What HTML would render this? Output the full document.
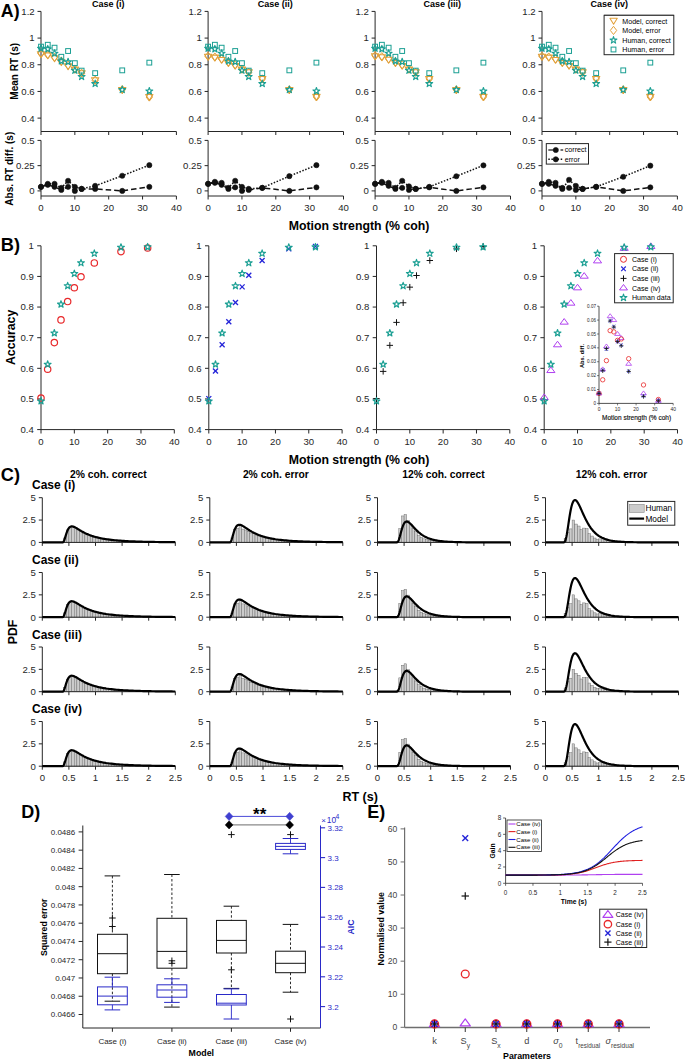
<!DOCTYPE html>
<html><head><meta charset="utf-8"><style>html,body{margin:0;padding:0;background:#fff;overflow:hidden;}svg{display:block;}</style></head><body>
<svg width="685" height="1060" viewBox="0 0 685 1060" font-family='"Liberation Sans", sans-serif'>
<rect width="685" height="1060" fill="#ffffff"/>
<line x1="41" y1="11.4" x2="41" y2="131.5" stroke="#262626" stroke-width="1" />
<line x1="41" y1="131.5" x2="176.4" y2="131.5" stroke="#262626" stroke-width="1" />
<line x1="37.5" y1="118.12" x2="41" y2="118.12" stroke="#262626" stroke-width="1" />
<text x="34.7" y="121.52" font-size="9.6" text-anchor="end" fill="#262626" >0.4</text>
<line x1="37.5" y1="91.44" x2="41" y2="91.44" stroke="#262626" stroke-width="1" />
<text x="34.7" y="94.84" font-size="9.6" text-anchor="end" fill="#262626" >0.6</text>
<line x1="37.5" y1="64.76" x2="41" y2="64.76" stroke="#262626" stroke-width="1" />
<text x="34.7" y="68.16" font-size="9.6" text-anchor="end" fill="#262626" >0.8</text>
<line x1="37.5" y1="38.08" x2="41" y2="38.08" stroke="#262626" stroke-width="1" />
<text x="34.7" y="41.48" font-size="9.6" text-anchor="end" fill="#262626" >1</text>
<line x1="37.5" y1="11.4" x2="41" y2="11.4" stroke="#262626" stroke-width="1" />
<text x="34.7" y="14.8" font-size="9.6" text-anchor="end" fill="#262626" >1.2</text>
<line x1="41" y1="131.5" x2="41" y2="135" stroke="#262626" stroke-width="1" />
<line x1="74.85" y1="131.5" x2="74.85" y2="135" stroke="#262626" stroke-width="1" />
<line x1="108.7" y1="131.5" x2="108.7" y2="135" stroke="#262626" stroke-width="1" />
<line x1="142.55" y1="131.5" x2="142.55" y2="135" stroke="#262626" stroke-width="1" />
<line x1="176.4" y1="131.5" x2="176.4" y2="135" stroke="#262626" stroke-width="1" />
<line x1="41" y1="140.4" x2="41" y2="196" stroke="#262626" stroke-width="1" />
<line x1="41" y1="196" x2="176.4" y2="196" stroke="#262626" stroke-width="1" />
<line x1="37.5" y1="190.9" x2="41" y2="190.9" stroke="#262626" stroke-width="1" />
<text x="34.7" y="194.3" font-size="9.6" text-anchor="end" fill="#262626" >0</text>
<line x1="37.5" y1="165.65" x2="41" y2="165.65" stroke="#262626" stroke-width="1" />
<text x="34.7" y="169.05" font-size="9.6" text-anchor="end" fill="#262626" >0.25</text>
<line x1="37.5" y1="140.4" x2="41" y2="140.4" stroke="#262626" stroke-width="1" />
<text x="34.7" y="143.8" font-size="9.6" text-anchor="end" fill="#262626" >0.5</text>
<line x1="41" y1="196" x2="41" y2="199.5" stroke="#262626" stroke-width="1" />
<text x="41" y="211.3" font-size="9.6" text-anchor="middle" fill="#262626" >0</text>
<line x1="74.85" y1="196" x2="74.85" y2="199.5" stroke="#262626" stroke-width="1" />
<text x="74.85" y="211.3" font-size="9.6" text-anchor="middle" fill="#262626" >10</text>
<line x1="108.7" y1="196" x2="108.7" y2="199.5" stroke="#262626" stroke-width="1" />
<text x="108.7" y="211.3" font-size="9.6" text-anchor="middle" fill="#262626" >20</text>
<line x1="142.55" y1="196" x2="142.55" y2="199.5" stroke="#262626" stroke-width="1" />
<text x="142.55" y="211.3" font-size="9.6" text-anchor="middle" fill="#262626" >30</text>
<line x1="176.4" y1="196" x2="176.4" y2="199.5" stroke="#262626" stroke-width="1" />
<text x="176.4" y="211.3" font-size="9.6" text-anchor="middle" fill="#262626" >40</text>
<text x="108.2" y="6.9" font-size="9.0" font-weight="bold" text-anchor="middle" fill="#000" >Case (i)</text>
<polygon points="37.3,51.66 44.7,51.66 41,57.58" fill="none" stroke="#E2A13B" stroke-width="1.05" stroke-linejoin="round" />
<polygon points="44.07,52.86 51.47,52.86 47.77,58.78" fill="none" stroke="#E2A13B" stroke-width="1.05" stroke-linejoin="round" />
<polygon points="50.84,55.8 58.24,55.8 54.54,61.72" fill="none" stroke="#E2A13B" stroke-width="1.05" stroke-linejoin="round" />
<polygon points="57.61,59.67 65.01,59.67 61.31,65.59" fill="none" stroke="#E2A13B" stroke-width="1.05" stroke-linejoin="round" />
<polygon points="64.38,63.8 71.78,63.8 68.08,69.72" fill="none" stroke="#E2A13B" stroke-width="1.05" stroke-linejoin="round" />
<polygon points="71.15,67.14 78.55,67.14 74.85,73.06" fill="none" stroke="#E2A13B" stroke-width="1.05" stroke-linejoin="round" />
<polygon points="77.92,70.74 85.32,70.74 81.62,76.66" fill="none" stroke="#E2A13B" stroke-width="1.05" stroke-linejoin="round" />
<polygon points="91.46,77.81 98.86,77.81 95.16,83.73" fill="none" stroke="#E2A13B" stroke-width="1.05" stroke-linejoin="round" />
<polygon points="118.54,87.41 125.94,87.41 122.24,93.33" fill="none" stroke="#E2A13B" stroke-width="1.05" stroke-linejoin="round" />
<polygon points="145.62,94.48 153.02,94.48 149.32,100.4" fill="none" stroke="#E2A13B" stroke-width="1.05" stroke-linejoin="round" />
<polygon points="41,49.45 44.2,53.55 41,57.65 37.8,53.55" fill="none" stroke="#E2A13B" stroke-width="1" stroke-linejoin="round" />
<polygon points="47.77,50.65 50.97,54.75 47.77,58.85 44.57,54.75" fill="none" stroke="#E2A13B" stroke-width="1" stroke-linejoin="round" />
<polygon points="54.54,53.32 57.74,57.42 54.54,61.52 51.34,57.42" fill="none" stroke="#E2A13B" stroke-width="1" stroke-linejoin="round" />
<polygon points="61.31,56.92 64.51,61.02 61.31,65.12 58.11,61.02" fill="none" stroke="#E2A13B" stroke-width="1" stroke-linejoin="round" />
<polygon points="68.08,61.06 71.28,65.16 68.08,69.26 64.88,65.16" fill="none" stroke="#E2A13B" stroke-width="1" stroke-linejoin="round" />
<polygon points="74.85,64.93 78.05,69.03 74.85,73.13 71.65,69.03" fill="none" stroke="#E2A13B" stroke-width="1" stroke-linejoin="round" />
<polygon points="81.62,69.06 84.82,73.16 81.62,77.26 78.42,73.16" fill="none" stroke="#E2A13B" stroke-width="1" stroke-linejoin="round" />
<polygon points="95.16,76.13 98.36,80.23 95.16,84.33 91.96,80.23" fill="none" stroke="#E2A13B" stroke-width="1" stroke-linejoin="round" />
<polygon points="122.24,85.47 125.44,89.57 122.24,93.67 119.04,89.57" fill="none" stroke="#E2A13B" stroke-width="1" stroke-linejoin="round" />
<polygon points="149.32,92.94 152.52,97.04 149.32,101.14 146.12,97.04" fill="none" stroke="#E2A13B" stroke-width="1" stroke-linejoin="round" />
<polygon points="41,44.78 41.83,47.25 44.42,47.27 42.34,48.82 43.12,51.3 41,49.79 38.88,51.3 39.66,48.82 37.58,47.27 40.17,47.25" fill="none" stroke="#1A9F93" stroke-width="1.15" stroke-linejoin="round" />
<polygon points="47.77,45.45 48.6,47.92 51.19,47.94 49.11,49.49 49.89,51.96 47.77,50.46 45.65,51.96 46.43,49.49 44.35,47.94 46.94,47.92" fill="none" stroke="#1A9F93" stroke-width="1.15" stroke-linejoin="round" />
<polygon points="54.54,49.72 55.37,52.18 57.96,52.21 55.88,53.75 56.66,56.23 54.54,54.72 52.42,56.23 53.2,53.75 51.12,52.21 53.71,52.18" fill="none" stroke="#1A9F93" stroke-width="1.15" stroke-linejoin="round" />
<polygon points="61.31,57.46 62.14,59.92 64.73,59.95 62.65,61.49 63.43,63.97 61.31,62.46 59.19,63.97 59.97,61.49 57.89,59.95 60.48,59.92" fill="none" stroke="#1A9F93" stroke-width="1.15" stroke-linejoin="round" />
<polygon points="68.08,58.26 68.91,60.72 71.5,60.75 69.42,62.29 70.2,64.77 68.08,63.26 65.96,64.77 66.74,62.29 64.66,60.75 67.25,60.72" fill="none" stroke="#1A9F93" stroke-width="1.15" stroke-linejoin="round" />
<polygon points="74.85,66.8 75.68,69.26 78.27,69.28 76.19,70.83 76.97,73.31 74.85,71.8 72.73,73.31 73.51,70.83 71.43,69.28 74.02,69.26" fill="none" stroke="#1A9F93" stroke-width="1.15" stroke-linejoin="round" />
<polygon points="81.62,73.07 82.45,75.53 85.04,75.55 82.96,77.1 83.74,79.58 81.62,78.07 79.5,79.58 80.28,77.1 78.2,75.55 80.79,75.53" fill="none" stroke="#1A9F93" stroke-width="1.15" stroke-linejoin="round" />
<polygon points="95.16,80.14 95.99,82.6 98.58,82.62 96.5,84.17 97.28,86.65 95.16,85.14 93.04,86.65 93.82,84.17 91.74,82.62 94.33,82.6" fill="none" stroke="#1A9F93" stroke-width="1.15" stroke-linejoin="round" />
<polygon points="122.24,86.14 123.07,88.6 125.66,88.63 123.58,90.17 124.36,92.65 122.24,91.14 120.12,92.65 120.9,90.17 118.82,88.63 121.41,88.6" fill="none" stroke="#1A9F93" stroke-width="1.15" stroke-linejoin="round" />
<polygon points="149.32,87.47 150.15,89.94 152.74,89.96 150.66,91.51 151.44,93.99 149.32,92.48 147.2,93.99 147.98,91.51 145.9,89.96 148.49,89.94" fill="none" stroke="#1A9F93" stroke-width="1.15" stroke-linejoin="round" />
<rect x="38.6" y="44.22" width="4.8" height="4.8" fill="none" stroke="#1A9F93" stroke-width="1"/>
<rect x="45.37" y="42.35" width="4.8" height="4.8" fill="none" stroke="#1A9F93" stroke-width="1"/>
<rect x="52.14" y="45.28" width="4.8" height="4.8" fill="none" stroke="#1A9F93" stroke-width="1"/>
<rect x="58.91" y="54.36" width="4.8" height="4.8" fill="none" stroke="#1A9F93" stroke-width="1"/>
<rect x="65.68" y="48.62" width="4.8" height="4.8" fill="none" stroke="#1A9F93" stroke-width="1"/>
<rect x="72.45" y="60.76" width="4.8" height="4.8" fill="none" stroke="#1A9F93" stroke-width="1"/>
<rect x="79.22" y="68.23" width="4.8" height="4.8" fill="none" stroke="#1A9F93" stroke-width="1"/>
<rect x="92.76" y="70.76" width="4.8" height="4.8" fill="none" stroke="#1A9F93" stroke-width="1"/>
<rect x="119.84" y="67.96" width="4.8" height="4.8" fill="none" stroke="#1A9F93" stroke-width="1"/>
<rect x="146.92" y="60.23" width="4.8" height="4.8" fill="none" stroke="#1A9F93" stroke-width="1"/>
<polyline points="41,186.86 47.77,184.84 54.54,186.86 61.31,189.89 68.08,186.86 74.85,190.9 81.62,188.88 95.16,188.88 122.24,190.9 149.32,186.86" fill="none" stroke="#111111" stroke-width="1.5" stroke-dasharray="5.5,3" stroke-linejoin="round" />
<polyline points="41,186.86 47.77,183.83 54.54,183.83 61.31,187.87 68.08,180.8 74.85,186.86 81.62,188.88 95.16,185.85 122.24,175.75 149.32,165.15" fill="none" stroke="#111111" stroke-width="1.5" stroke-dasharray="1.5,1.6" stroke-linejoin="round" />
<circle cx="41" cy="186.86" r="2.6" fill="#111111" stroke="#111111" stroke-width="0.6"/>
<circle cx="47.77" cy="184.84" r="2.6" fill="#111111" stroke="#111111" stroke-width="0.6"/>
<circle cx="54.54" cy="186.86" r="2.6" fill="#111111" stroke="#111111" stroke-width="0.6"/>
<circle cx="61.31" cy="189.89" r="2.6" fill="#111111" stroke="#111111" stroke-width="0.6"/>
<circle cx="68.08" cy="186.86" r="2.6" fill="#111111" stroke="#111111" stroke-width="0.6"/>
<circle cx="74.85" cy="190.9" r="2.6" fill="#111111" stroke="#111111" stroke-width="0.6"/>
<circle cx="81.62" cy="188.88" r="2.6" fill="#111111" stroke="#111111" stroke-width="0.6"/>
<circle cx="95.16" cy="188.88" r="2.6" fill="#111111" stroke="#111111" stroke-width="0.6"/>
<circle cx="122.24" cy="190.9" r="2.6" fill="#111111" stroke="#111111" stroke-width="0.6"/>
<circle cx="149.32" cy="186.86" r="2.6" fill="#111111" stroke="#111111" stroke-width="0.6"/>
<circle cx="41" cy="186.86" r="2.6" fill="#111111" stroke="#111111" stroke-width="0.6"/>
<circle cx="47.77" cy="183.83" r="2.6" fill="#111111" stroke="#111111" stroke-width="0.6"/>
<circle cx="54.54" cy="183.83" r="2.6" fill="#111111" stroke="#111111" stroke-width="0.6"/>
<circle cx="61.31" cy="187.87" r="2.6" fill="#111111" stroke="#111111" stroke-width="0.6"/>
<circle cx="68.08" cy="180.8" r="2.6" fill="#111111" stroke="#111111" stroke-width="0.6"/>
<circle cx="74.85" cy="186.86" r="2.6" fill="#111111" stroke="#111111" stroke-width="0.6"/>
<circle cx="81.62" cy="188.88" r="2.6" fill="#111111" stroke="#111111" stroke-width="0.6"/>
<circle cx="95.16" cy="185.85" r="2.6" fill="#111111" stroke="#111111" stroke-width="0.6"/>
<circle cx="122.24" cy="175.75" r="2.6" fill="#111111" stroke="#111111" stroke-width="0.6"/>
<circle cx="149.32" cy="165.15" r="2.6" fill="#111111" stroke="#111111" stroke-width="0.6"/>
<line x1="208.1" y1="11.4" x2="208.1" y2="131.5" stroke="#262626" stroke-width="1" />
<line x1="208.1" y1="131.5" x2="343.5" y2="131.5" stroke="#262626" stroke-width="1" />
<line x1="204.6" y1="118.12" x2="208.1" y2="118.12" stroke="#262626" stroke-width="1" />
<text x="201.8" y="121.52" font-size="9.6" text-anchor="end" fill="#262626" >0.4</text>
<line x1="204.6" y1="91.44" x2="208.1" y2="91.44" stroke="#262626" stroke-width="1" />
<text x="201.8" y="94.84" font-size="9.6" text-anchor="end" fill="#262626" >0.6</text>
<line x1="204.6" y1="64.76" x2="208.1" y2="64.76" stroke="#262626" stroke-width="1" />
<text x="201.8" y="68.16" font-size="9.6" text-anchor="end" fill="#262626" >0.8</text>
<line x1="204.6" y1="38.08" x2="208.1" y2="38.08" stroke="#262626" stroke-width="1" />
<text x="201.8" y="41.48" font-size="9.6" text-anchor="end" fill="#262626" >1</text>
<line x1="204.6" y1="11.4" x2="208.1" y2="11.4" stroke="#262626" stroke-width="1" />
<text x="201.8" y="14.8" font-size="9.6" text-anchor="end" fill="#262626" >1.2</text>
<line x1="208.1" y1="131.5" x2="208.1" y2="135" stroke="#262626" stroke-width="1" />
<line x1="241.95" y1="131.5" x2="241.95" y2="135" stroke="#262626" stroke-width="1" />
<line x1="275.8" y1="131.5" x2="275.8" y2="135" stroke="#262626" stroke-width="1" />
<line x1="309.65" y1="131.5" x2="309.65" y2="135" stroke="#262626" stroke-width="1" />
<line x1="343.5" y1="131.5" x2="343.5" y2="135" stroke="#262626" stroke-width="1" />
<line x1="208.1" y1="140.4" x2="208.1" y2="196" stroke="#262626" stroke-width="1" />
<line x1="208.1" y1="196" x2="343.5" y2="196" stroke="#262626" stroke-width="1" />
<line x1="204.6" y1="190.9" x2="208.1" y2="190.9" stroke="#262626" stroke-width="1" />
<text x="201.8" y="194.3" font-size="9.6" text-anchor="end" fill="#262626" >0</text>
<line x1="204.6" y1="165.65" x2="208.1" y2="165.65" stroke="#262626" stroke-width="1" />
<text x="201.8" y="169.05" font-size="9.6" text-anchor="end" fill="#262626" >0.25</text>
<line x1="204.6" y1="140.4" x2="208.1" y2="140.4" stroke="#262626" stroke-width="1" />
<text x="201.8" y="143.8" font-size="9.6" text-anchor="end" fill="#262626" >0.5</text>
<line x1="208.1" y1="196" x2="208.1" y2="199.5" stroke="#262626" stroke-width="1" />
<text x="208.1" y="211.3" font-size="9.6" text-anchor="middle" fill="#262626" >0</text>
<line x1="241.95" y1="196" x2="241.95" y2="199.5" stroke="#262626" stroke-width="1" />
<text x="241.95" y="211.3" font-size="9.6" text-anchor="middle" fill="#262626" >10</text>
<line x1="275.8" y1="196" x2="275.8" y2="199.5" stroke="#262626" stroke-width="1" />
<text x="275.8" y="211.3" font-size="9.6" text-anchor="middle" fill="#262626" >20</text>
<line x1="309.65" y1="196" x2="309.65" y2="199.5" stroke="#262626" stroke-width="1" />
<text x="309.65" y="211.3" font-size="9.6" text-anchor="middle" fill="#262626" >30</text>
<line x1="343.5" y1="196" x2="343.5" y2="199.5" stroke="#262626" stroke-width="1" />
<text x="343.5" y="211.3" font-size="9.6" text-anchor="middle" fill="#262626" >40</text>
<text x="275.3" y="6.9" font-size="9.0" font-weight="bold" text-anchor="middle" fill="#000" >Case (ii)</text>
<polygon points="204.4,54.33 211.8,54.33 208.1,60.25" fill="none" stroke="#E2A13B" stroke-width="1.05" stroke-linejoin="round" />
<polygon points="211.17,55.13 218.57,55.13 214.87,61.05" fill="none" stroke="#E2A13B" stroke-width="1.05" stroke-linejoin="round" />
<polygon points="217.94,57.4 225.34,57.4 221.64,63.32" fill="none" stroke="#E2A13B" stroke-width="1.05" stroke-linejoin="round" />
<polygon points="224.71,60.6 232.11,60.6 228.41,66.52" fill="none" stroke="#E2A13B" stroke-width="1.05" stroke-linejoin="round" />
<polygon points="231.48,63.4 238.88,63.4 235.18,69.32" fill="none" stroke="#E2A13B" stroke-width="1.05" stroke-linejoin="round" />
<polygon points="238.25,67.14 245.65,67.14 241.95,73.06" fill="none" stroke="#E2A13B" stroke-width="1.05" stroke-linejoin="round" />
<polygon points="245.02,69.8 252.42,69.8 248.72,75.72" fill="none" stroke="#E2A13B" stroke-width="1.05" stroke-linejoin="round" />
<polygon points="258.56,76.47 265.96,76.47 262.26,82.39" fill="none" stroke="#E2A13B" stroke-width="1.05" stroke-linejoin="round" />
<polygon points="285.64,87.55 293.04,87.55 289.34,93.47" fill="none" stroke="#E2A13B" stroke-width="1.05" stroke-linejoin="round" />
<polygon points="312.72,94.35 320.12,94.35 316.42,100.27" fill="none" stroke="#E2A13B" stroke-width="1.05" stroke-linejoin="round" />
<polygon points="208.1,52.12 211.3,56.22 208.1,60.32 204.9,56.22" fill="none" stroke="#E2A13B" stroke-width="1" stroke-linejoin="round" />
<polygon points="214.87,52.92 218.07,57.02 214.87,61.12 211.67,57.02" fill="none" stroke="#E2A13B" stroke-width="1" stroke-linejoin="round" />
<polygon points="221.64,54.92 224.84,59.02 221.64,63.12 218.44,59.02" fill="none" stroke="#E2A13B" stroke-width="1" stroke-linejoin="round" />
<polygon points="228.41,57.86 231.61,61.96 228.41,66.06 225.21,61.96" fill="none" stroke="#E2A13B" stroke-width="1" stroke-linejoin="round" />
<polygon points="235.18,60.66 238.38,64.76 235.18,68.86 231.98,64.76" fill="none" stroke="#E2A13B" stroke-width="1" stroke-linejoin="round" />
<polygon points="241.95,64.93 245.15,69.03 241.95,73.13 238.75,69.03" fill="none" stroke="#E2A13B" stroke-width="1" stroke-linejoin="round" />
<polygon points="248.72,68.13 251.92,72.23 248.72,76.33 245.52,72.23" fill="none" stroke="#E2A13B" stroke-width="1" stroke-linejoin="round" />
<polygon points="262.26,74.8 265.46,78.9 262.26,83 259.06,78.9" fill="none" stroke="#E2A13B" stroke-width="1" stroke-linejoin="round" />
<polygon points="289.34,85.61 292.54,89.71 289.34,93.81 286.14,89.71" fill="none" stroke="#E2A13B" stroke-width="1" stroke-linejoin="round" />
<polygon points="316.42,92.81 319.62,96.91 316.42,101.01 313.22,96.91" fill="none" stroke="#E2A13B" stroke-width="1" stroke-linejoin="round" />
<polygon points="208.1,44.78 208.93,47.25 211.52,47.27 209.44,48.82 210.22,51.3 208.1,49.79 205.98,51.3 206.76,48.82 204.68,47.27 207.27,47.25" fill="none" stroke="#1A9F93" stroke-width="1.15" stroke-linejoin="round" />
<polygon points="214.87,45.45 215.7,47.92 218.29,47.94 216.21,49.49 216.99,51.96 214.87,50.46 212.75,51.96 213.53,49.49 211.45,47.94 214.04,47.92" fill="none" stroke="#1A9F93" stroke-width="1.15" stroke-linejoin="round" />
<polygon points="221.64,49.72 222.47,52.18 225.06,52.21 222.98,53.75 223.76,56.23 221.64,54.72 219.52,56.23 220.3,53.75 218.22,52.21 220.81,52.18" fill="none" stroke="#1A9F93" stroke-width="1.15" stroke-linejoin="round" />
<polygon points="228.41,57.46 229.24,59.92 231.83,59.95 229.75,61.49 230.53,63.97 228.41,62.46 226.29,63.97 227.07,61.49 224.99,59.95 227.58,59.92" fill="none" stroke="#1A9F93" stroke-width="1.15" stroke-linejoin="round" />
<polygon points="235.18,58.26 236.01,60.72 238.6,60.75 236.52,62.29 237.3,64.77 235.18,63.26 233.06,64.77 233.84,62.29 231.76,60.75 234.35,60.72" fill="none" stroke="#1A9F93" stroke-width="1.15" stroke-linejoin="round" />
<polygon points="241.95,66.8 242.78,69.26 245.37,69.28 243.29,70.83 244.07,73.31 241.95,71.8 239.83,73.31 240.61,70.83 238.53,69.28 241.12,69.26" fill="none" stroke="#1A9F93" stroke-width="1.15" stroke-linejoin="round" />
<polygon points="248.72,73.07 249.55,75.53 252.14,75.55 250.06,77.1 250.84,79.58 248.72,78.07 246.6,79.58 247.38,77.1 245.3,75.55 247.89,75.53" fill="none" stroke="#1A9F93" stroke-width="1.15" stroke-linejoin="round" />
<polygon points="262.26,80.14 263.09,82.6 265.68,82.62 263.6,84.17 264.38,86.65 262.26,85.14 260.14,86.65 260.92,84.17 258.84,82.62 261.43,82.6" fill="none" stroke="#1A9F93" stroke-width="1.15" stroke-linejoin="round" />
<polygon points="289.34,86.14 290.17,88.6 292.76,88.63 290.68,90.17 291.46,92.65 289.34,91.14 287.22,92.65 288,90.17 285.92,88.63 288.51,88.6" fill="none" stroke="#1A9F93" stroke-width="1.15" stroke-linejoin="round" />
<polygon points="316.42,87.47 317.25,89.94 319.84,89.96 317.76,91.51 318.54,93.99 316.42,92.48 314.3,93.99 315.08,91.51 313,89.96 315.59,89.94" fill="none" stroke="#1A9F93" stroke-width="1.15" stroke-linejoin="round" />
<rect x="205.7" y="44.22" width="4.8" height="4.8" fill="none" stroke="#1A9F93" stroke-width="1"/>
<rect x="212.47" y="42.35" width="4.8" height="4.8" fill="none" stroke="#1A9F93" stroke-width="1"/>
<rect x="219.24" y="45.28" width="4.8" height="4.8" fill="none" stroke="#1A9F93" stroke-width="1"/>
<rect x="226.01" y="54.36" width="4.8" height="4.8" fill="none" stroke="#1A9F93" stroke-width="1"/>
<rect x="232.78" y="48.62" width="4.8" height="4.8" fill="none" stroke="#1A9F93" stroke-width="1"/>
<rect x="239.55" y="60.76" width="4.8" height="4.8" fill="none" stroke="#1A9F93" stroke-width="1"/>
<rect x="246.32" y="68.23" width="4.8" height="4.8" fill="none" stroke="#1A9F93" stroke-width="1"/>
<rect x="259.86" y="70.76" width="4.8" height="4.8" fill="none" stroke="#1A9F93" stroke-width="1"/>
<rect x="286.94" y="67.96" width="4.8" height="4.8" fill="none" stroke="#1A9F93" stroke-width="1"/>
<rect x="314.02" y="60.23" width="4.8" height="4.8" fill="none" stroke="#1A9F93" stroke-width="1"/>
<polyline points="208.1,183.83 214.87,182.82 221.64,184.84 228.41,188.88 235.18,187.37 241.95,190.9 248.72,189.89 262.26,187.87 289.34,190.9 316.42,187.37" fill="none" stroke="#111111" stroke-width="1.5" stroke-dasharray="5.5,3" stroke-linejoin="round" />
<polyline points="208.1,183.83 214.87,181.81 221.64,182.82 228.41,187.87 235.18,180.8 241.95,186.86 248.72,188.88 262.26,187.87 289.34,176.15 316.42,165.15" fill="none" stroke="#111111" stroke-width="1.5" stroke-dasharray="1.5,1.6" stroke-linejoin="round" />
<circle cx="208.1" cy="183.83" r="2.6" fill="#111111" stroke="#111111" stroke-width="0.6"/>
<circle cx="214.87" cy="182.82" r="2.6" fill="#111111" stroke="#111111" stroke-width="0.6"/>
<circle cx="221.64" cy="184.84" r="2.6" fill="#111111" stroke="#111111" stroke-width="0.6"/>
<circle cx="228.41" cy="188.88" r="2.6" fill="#111111" stroke="#111111" stroke-width="0.6"/>
<circle cx="235.18" cy="187.37" r="2.6" fill="#111111" stroke="#111111" stroke-width="0.6"/>
<circle cx="241.95" cy="190.9" r="2.6" fill="#111111" stroke="#111111" stroke-width="0.6"/>
<circle cx="248.72" cy="189.89" r="2.6" fill="#111111" stroke="#111111" stroke-width="0.6"/>
<circle cx="262.26" cy="187.87" r="2.6" fill="#111111" stroke="#111111" stroke-width="0.6"/>
<circle cx="289.34" cy="190.9" r="2.6" fill="#111111" stroke="#111111" stroke-width="0.6"/>
<circle cx="316.42" cy="187.37" r="2.6" fill="#111111" stroke="#111111" stroke-width="0.6"/>
<circle cx="208.1" cy="183.83" r="2.6" fill="#111111" stroke="#111111" stroke-width="0.6"/>
<circle cx="214.87" cy="181.81" r="2.6" fill="#111111" stroke="#111111" stroke-width="0.6"/>
<circle cx="221.64" cy="182.82" r="2.6" fill="#111111" stroke="#111111" stroke-width="0.6"/>
<circle cx="228.41" cy="187.87" r="2.6" fill="#111111" stroke="#111111" stroke-width="0.6"/>
<circle cx="235.18" cy="180.8" r="2.6" fill="#111111" stroke="#111111" stroke-width="0.6"/>
<circle cx="241.95" cy="186.86" r="2.6" fill="#111111" stroke="#111111" stroke-width="0.6"/>
<circle cx="248.72" cy="188.88" r="2.6" fill="#111111" stroke="#111111" stroke-width="0.6"/>
<circle cx="262.26" cy="187.87" r="2.6" fill="#111111" stroke="#111111" stroke-width="0.6"/>
<circle cx="289.34" cy="176.15" r="2.6" fill="#111111" stroke="#111111" stroke-width="0.6"/>
<circle cx="316.42" cy="165.15" r="2.6" fill="#111111" stroke="#111111" stroke-width="0.6"/>
<line x1="375.1" y1="11.4" x2="375.1" y2="131.5" stroke="#262626" stroke-width="1" />
<line x1="375.1" y1="131.5" x2="510.5" y2="131.5" stroke="#262626" stroke-width="1" />
<line x1="371.6" y1="118.12" x2="375.1" y2="118.12" stroke="#262626" stroke-width="1" />
<text x="368.8" y="121.52" font-size="9.6" text-anchor="end" fill="#262626" >0.4</text>
<line x1="371.6" y1="91.44" x2="375.1" y2="91.44" stroke="#262626" stroke-width="1" />
<text x="368.8" y="94.84" font-size="9.6" text-anchor="end" fill="#262626" >0.6</text>
<line x1="371.6" y1="64.76" x2="375.1" y2="64.76" stroke="#262626" stroke-width="1" />
<text x="368.8" y="68.16" font-size="9.6" text-anchor="end" fill="#262626" >0.8</text>
<line x1="371.6" y1="38.08" x2="375.1" y2="38.08" stroke="#262626" stroke-width="1" />
<text x="368.8" y="41.48" font-size="9.6" text-anchor="end" fill="#262626" >1</text>
<line x1="371.6" y1="11.4" x2="375.1" y2="11.4" stroke="#262626" stroke-width="1" />
<text x="368.8" y="14.8" font-size="9.6" text-anchor="end" fill="#262626" >1.2</text>
<line x1="375.1" y1="131.5" x2="375.1" y2="135" stroke="#262626" stroke-width="1" />
<line x1="408.95" y1="131.5" x2="408.95" y2="135" stroke="#262626" stroke-width="1" />
<line x1="442.8" y1="131.5" x2="442.8" y2="135" stroke="#262626" stroke-width="1" />
<line x1="476.65" y1="131.5" x2="476.65" y2="135" stroke="#262626" stroke-width="1" />
<line x1="510.5" y1="131.5" x2="510.5" y2="135" stroke="#262626" stroke-width="1" />
<line x1="375.1" y1="140.4" x2="375.1" y2="196" stroke="#262626" stroke-width="1" />
<line x1="375.1" y1="196" x2="510.5" y2="196" stroke="#262626" stroke-width="1" />
<line x1="371.6" y1="190.9" x2="375.1" y2="190.9" stroke="#262626" stroke-width="1" />
<text x="368.8" y="194.3" font-size="9.6" text-anchor="end" fill="#262626" >0</text>
<line x1="371.6" y1="165.65" x2="375.1" y2="165.65" stroke="#262626" stroke-width="1" />
<text x="368.8" y="169.05" font-size="9.6" text-anchor="end" fill="#262626" >0.25</text>
<line x1="371.6" y1="140.4" x2="375.1" y2="140.4" stroke="#262626" stroke-width="1" />
<text x="368.8" y="143.8" font-size="9.6" text-anchor="end" fill="#262626" >0.5</text>
<line x1="375.1" y1="196" x2="375.1" y2="199.5" stroke="#262626" stroke-width="1" />
<text x="375.1" y="211.3" font-size="9.6" text-anchor="middle" fill="#262626" >0</text>
<line x1="408.95" y1="196" x2="408.95" y2="199.5" stroke="#262626" stroke-width="1" />
<text x="408.95" y="211.3" font-size="9.6" text-anchor="middle" fill="#262626" >10</text>
<line x1="442.8" y1="196" x2="442.8" y2="199.5" stroke="#262626" stroke-width="1" />
<text x="442.8" y="211.3" font-size="9.6" text-anchor="middle" fill="#262626" >20</text>
<line x1="476.65" y1="196" x2="476.65" y2="199.5" stroke="#262626" stroke-width="1" />
<text x="476.65" y="211.3" font-size="9.6" text-anchor="middle" fill="#262626" >30</text>
<line x1="510.5" y1="196" x2="510.5" y2="199.5" stroke="#262626" stroke-width="1" />
<text x="510.5" y="211.3" font-size="9.6" text-anchor="middle" fill="#262626" >40</text>
<text x="442.3" y="6.9" font-size="9.0" font-weight="bold" text-anchor="middle" fill="#000" >Case (iii)</text>
<polygon points="371.4,53.8 378.8,53.8 375.1,59.72" fill="none" stroke="#E2A13B" stroke-width="1.05" stroke-linejoin="round" />
<polygon points="378.17,54.73 385.57,54.73 381.87,60.65" fill="none" stroke="#E2A13B" stroke-width="1.05" stroke-linejoin="round" />
<polygon points="384.94,57.26 392.34,57.26 388.64,63.18" fill="none" stroke="#E2A13B" stroke-width="1.05" stroke-linejoin="round" />
<polygon points="391.71,60.6 399.11,60.6 395.41,66.52" fill="none" stroke="#E2A13B" stroke-width="1.05" stroke-linejoin="round" />
<polygon points="398.48,63.4 405.88,63.4 402.18,69.32" fill="none" stroke="#E2A13B" stroke-width="1.05" stroke-linejoin="round" />
<polygon points="405.25,67.14 412.65,67.14 408.95,73.06" fill="none" stroke="#E2A13B" stroke-width="1.05" stroke-linejoin="round" />
<polygon points="412.02,69.8 419.42,69.8 415.72,75.72" fill="none" stroke="#E2A13B" stroke-width="1.05" stroke-linejoin="round" />
<polygon points="425.56,76.47 432.96,76.47 429.26,82.39" fill="none" stroke="#E2A13B" stroke-width="1.05" stroke-linejoin="round" />
<polygon points="452.64,87.55 460.04,87.55 456.34,93.47" fill="none" stroke="#E2A13B" stroke-width="1.05" stroke-linejoin="round" />
<polygon points="479.72,94.35 487.12,94.35 483.42,100.27" fill="none" stroke="#E2A13B" stroke-width="1.05" stroke-linejoin="round" />
<polygon points="375.1,51.59 378.3,55.69 375.1,59.79 371.9,55.69" fill="none" stroke="#E2A13B" stroke-width="1" stroke-linejoin="round" />
<polygon points="381.87,52.52 385.07,56.62 381.87,60.72 378.67,56.62" fill="none" stroke="#E2A13B" stroke-width="1" stroke-linejoin="round" />
<polygon points="388.64,54.79 391.84,58.89 388.64,62.99 385.44,58.89" fill="none" stroke="#E2A13B" stroke-width="1" stroke-linejoin="round" />
<polygon points="395.41,57.86 398.61,61.96 395.41,66.06 392.21,61.96" fill="none" stroke="#E2A13B" stroke-width="1" stroke-linejoin="round" />
<polygon points="402.18,60.66 405.38,64.76 402.18,68.86 398.98,64.76" fill="none" stroke="#E2A13B" stroke-width="1" stroke-linejoin="round" />
<polygon points="408.95,64.93 412.15,69.03 408.95,73.13 405.75,69.03" fill="none" stroke="#E2A13B" stroke-width="1" stroke-linejoin="round" />
<polygon points="415.72,68.13 418.92,72.23 415.72,76.33 412.52,72.23" fill="none" stroke="#E2A13B" stroke-width="1" stroke-linejoin="round" />
<polygon points="429.26,74.8 432.46,78.9 429.26,83 426.06,78.9" fill="none" stroke="#E2A13B" stroke-width="1" stroke-linejoin="round" />
<polygon points="456.34,85.61 459.54,89.71 456.34,93.81 453.14,89.71" fill="none" stroke="#E2A13B" stroke-width="1" stroke-linejoin="round" />
<polygon points="483.42,92.81 486.62,96.91 483.42,101.01 480.22,96.91" fill="none" stroke="#E2A13B" stroke-width="1" stroke-linejoin="round" />
<polygon points="375.1,44.78 375.93,47.25 378.52,47.27 376.44,48.82 377.22,51.3 375.1,49.79 372.98,51.3 373.76,48.82 371.68,47.27 374.27,47.25" fill="none" stroke="#1A9F93" stroke-width="1.15" stroke-linejoin="round" />
<polygon points="381.87,45.45 382.7,47.92 385.29,47.94 383.21,49.49 383.99,51.96 381.87,50.46 379.75,51.96 380.53,49.49 378.45,47.94 381.04,47.92" fill="none" stroke="#1A9F93" stroke-width="1.15" stroke-linejoin="round" />
<polygon points="388.64,49.72 389.47,52.18 392.06,52.21 389.98,53.75 390.76,56.23 388.64,54.72 386.52,56.23 387.3,53.75 385.22,52.21 387.81,52.18" fill="none" stroke="#1A9F93" stroke-width="1.15" stroke-linejoin="round" />
<polygon points="395.41,57.46 396.24,59.92 398.83,59.95 396.75,61.49 397.53,63.97 395.41,62.46 393.29,63.97 394.07,61.49 391.99,59.95 394.58,59.92" fill="none" stroke="#1A9F93" stroke-width="1.15" stroke-linejoin="round" />
<polygon points="402.18,58.26 403.01,60.72 405.6,60.75 403.52,62.29 404.3,64.77 402.18,63.26 400.06,64.77 400.84,62.29 398.76,60.75 401.35,60.72" fill="none" stroke="#1A9F93" stroke-width="1.15" stroke-linejoin="round" />
<polygon points="408.95,66.8 409.78,69.26 412.37,69.28 410.29,70.83 411.07,73.31 408.95,71.8 406.83,73.31 407.61,70.83 405.53,69.28 408.12,69.26" fill="none" stroke="#1A9F93" stroke-width="1.15" stroke-linejoin="round" />
<polygon points="415.72,73.07 416.55,75.53 419.14,75.55 417.06,77.1 417.84,79.58 415.72,78.07 413.6,79.58 414.38,77.1 412.3,75.55 414.89,75.53" fill="none" stroke="#1A9F93" stroke-width="1.15" stroke-linejoin="round" />
<polygon points="429.26,80.14 430.09,82.6 432.68,82.62 430.6,84.17 431.38,86.65 429.26,85.14 427.14,86.65 427.92,84.17 425.84,82.62 428.43,82.6" fill="none" stroke="#1A9F93" stroke-width="1.15" stroke-linejoin="round" />
<polygon points="456.34,86.14 457.17,88.6 459.76,88.63 457.68,90.17 458.46,92.65 456.34,91.14 454.22,92.65 455,90.17 452.92,88.63 455.51,88.6" fill="none" stroke="#1A9F93" stroke-width="1.15" stroke-linejoin="round" />
<polygon points="483.42,87.47 484.25,89.94 486.84,89.96 484.76,91.51 485.54,93.99 483.42,92.48 481.3,93.99 482.08,91.51 480,89.96 482.59,89.94" fill="none" stroke="#1A9F93" stroke-width="1.15" stroke-linejoin="round" />
<rect x="372.7" y="44.22" width="4.8" height="4.8" fill="none" stroke="#1A9F93" stroke-width="1"/>
<rect x="379.47" y="42.35" width="4.8" height="4.8" fill="none" stroke="#1A9F93" stroke-width="1"/>
<rect x="386.24" y="45.28" width="4.8" height="4.8" fill="none" stroke="#1A9F93" stroke-width="1"/>
<rect x="393.01" y="54.36" width="4.8" height="4.8" fill="none" stroke="#1A9F93" stroke-width="1"/>
<rect x="399.78" y="48.62" width="4.8" height="4.8" fill="none" stroke="#1A9F93" stroke-width="1"/>
<rect x="406.55" y="60.76" width="4.8" height="4.8" fill="none" stroke="#1A9F93" stroke-width="1"/>
<rect x="413.32" y="68.23" width="4.8" height="4.8" fill="none" stroke="#1A9F93" stroke-width="1"/>
<rect x="426.86" y="70.76" width="4.8" height="4.8" fill="none" stroke="#1A9F93" stroke-width="1"/>
<rect x="453.94" y="67.96" width="4.8" height="4.8" fill="none" stroke="#1A9F93" stroke-width="1"/>
<rect x="481.02" y="60.23" width="4.8" height="4.8" fill="none" stroke="#1A9F93" stroke-width="1"/>
<polyline points="375.1,183.83 381.87,182.82 388.64,185.85 395.41,188.88 402.18,187.87 408.95,189.89 415.72,188.88 429.26,187.37 456.34,190.9 483.42,187.37" fill="none" stroke="#111111" stroke-width="1.5" stroke-dasharray="5.5,3" stroke-linejoin="round" />
<polyline points="375.1,183.83 381.87,181.81 388.64,182.82 395.41,187.87 402.18,180.8 408.95,186.36 415.72,188.88 429.26,186.86 456.34,176.25 483.42,165.35" fill="none" stroke="#111111" stroke-width="1.5" stroke-dasharray="1.5,1.6" stroke-linejoin="round" />
<circle cx="375.1" cy="183.83" r="2.6" fill="#111111" stroke="#111111" stroke-width="0.6"/>
<circle cx="381.87" cy="182.82" r="2.6" fill="#111111" stroke="#111111" stroke-width="0.6"/>
<circle cx="388.64" cy="185.85" r="2.6" fill="#111111" stroke="#111111" stroke-width="0.6"/>
<circle cx="395.41" cy="188.88" r="2.6" fill="#111111" stroke="#111111" stroke-width="0.6"/>
<circle cx="402.18" cy="187.87" r="2.6" fill="#111111" stroke="#111111" stroke-width="0.6"/>
<circle cx="408.95" cy="189.89" r="2.6" fill="#111111" stroke="#111111" stroke-width="0.6"/>
<circle cx="415.72" cy="188.88" r="2.6" fill="#111111" stroke="#111111" stroke-width="0.6"/>
<circle cx="429.26" cy="187.37" r="2.6" fill="#111111" stroke="#111111" stroke-width="0.6"/>
<circle cx="456.34" cy="190.9" r="2.6" fill="#111111" stroke="#111111" stroke-width="0.6"/>
<circle cx="483.42" cy="187.37" r="2.6" fill="#111111" stroke="#111111" stroke-width="0.6"/>
<circle cx="375.1" cy="183.83" r="2.6" fill="#111111" stroke="#111111" stroke-width="0.6"/>
<circle cx="381.87" cy="181.81" r="2.6" fill="#111111" stroke="#111111" stroke-width="0.6"/>
<circle cx="388.64" cy="182.82" r="2.6" fill="#111111" stroke="#111111" stroke-width="0.6"/>
<circle cx="395.41" cy="187.87" r="2.6" fill="#111111" stroke="#111111" stroke-width="0.6"/>
<circle cx="402.18" cy="180.8" r="2.6" fill="#111111" stroke="#111111" stroke-width="0.6"/>
<circle cx="408.95" cy="186.36" r="2.6" fill="#111111" stroke="#111111" stroke-width="0.6"/>
<circle cx="415.72" cy="188.88" r="2.6" fill="#111111" stroke="#111111" stroke-width="0.6"/>
<circle cx="429.26" cy="186.86" r="2.6" fill="#111111" stroke="#111111" stroke-width="0.6"/>
<circle cx="456.34" cy="176.25" r="2.6" fill="#111111" stroke="#111111" stroke-width="0.6"/>
<circle cx="483.42" cy="165.35" r="2.6" fill="#111111" stroke="#111111" stroke-width="0.6"/>
<line x1="542" y1="11.4" x2="542" y2="131.5" stroke="#262626" stroke-width="1" />
<line x1="542" y1="131.5" x2="677.4" y2="131.5" stroke="#262626" stroke-width="1" />
<line x1="538.5" y1="118.12" x2="542" y2="118.12" stroke="#262626" stroke-width="1" />
<text x="535.7" y="121.52" font-size="9.6" text-anchor="end" fill="#262626" >0.4</text>
<line x1="538.5" y1="91.44" x2="542" y2="91.44" stroke="#262626" stroke-width="1" />
<text x="535.7" y="94.84" font-size="9.6" text-anchor="end" fill="#262626" >0.6</text>
<line x1="538.5" y1="64.76" x2="542" y2="64.76" stroke="#262626" stroke-width="1" />
<text x="535.7" y="68.16" font-size="9.6" text-anchor="end" fill="#262626" >0.8</text>
<line x1="538.5" y1="38.08" x2="542" y2="38.08" stroke="#262626" stroke-width="1" />
<text x="535.7" y="41.48" font-size="9.6" text-anchor="end" fill="#262626" >1</text>
<line x1="538.5" y1="11.4" x2="542" y2="11.4" stroke="#262626" stroke-width="1" />
<text x="535.7" y="14.8" font-size="9.6" text-anchor="end" fill="#262626" >1.2</text>
<line x1="542" y1="131.5" x2="542" y2="135" stroke="#262626" stroke-width="1" />
<line x1="575.85" y1="131.5" x2="575.85" y2="135" stroke="#262626" stroke-width="1" />
<line x1="609.7" y1="131.5" x2="609.7" y2="135" stroke="#262626" stroke-width="1" />
<line x1="643.55" y1="131.5" x2="643.55" y2="135" stroke="#262626" stroke-width="1" />
<line x1="677.4" y1="131.5" x2="677.4" y2="135" stroke="#262626" stroke-width="1" />
<line x1="542" y1="140.4" x2="542" y2="196" stroke="#262626" stroke-width="1" />
<line x1="542" y1="196" x2="677.4" y2="196" stroke="#262626" stroke-width="1" />
<line x1="538.5" y1="190.9" x2="542" y2="190.9" stroke="#262626" stroke-width="1" />
<text x="535.7" y="194.3" font-size="9.6" text-anchor="end" fill="#262626" >0</text>
<line x1="538.5" y1="165.65" x2="542" y2="165.65" stroke="#262626" stroke-width="1" />
<text x="535.7" y="169.05" font-size="9.6" text-anchor="end" fill="#262626" >0.25</text>
<line x1="538.5" y1="140.4" x2="542" y2="140.4" stroke="#262626" stroke-width="1" />
<text x="535.7" y="143.8" font-size="9.6" text-anchor="end" fill="#262626" >0.5</text>
<line x1="542" y1="196" x2="542" y2="199.5" stroke="#262626" stroke-width="1" />
<text x="542" y="211.3" font-size="9.6" text-anchor="middle" fill="#262626" >0</text>
<line x1="575.85" y1="196" x2="575.85" y2="199.5" stroke="#262626" stroke-width="1" />
<text x="575.85" y="211.3" font-size="9.6" text-anchor="middle" fill="#262626" >10</text>
<line x1="609.7" y1="196" x2="609.7" y2="199.5" stroke="#262626" stroke-width="1" />
<text x="609.7" y="211.3" font-size="9.6" text-anchor="middle" fill="#262626" >20</text>
<line x1="643.55" y1="196" x2="643.55" y2="199.5" stroke="#262626" stroke-width="1" />
<text x="643.55" y="211.3" font-size="9.6" text-anchor="middle" fill="#262626" >30</text>
<line x1="677.4" y1="196" x2="677.4" y2="199.5" stroke="#262626" stroke-width="1" />
<text x="677.4" y="211.3" font-size="9.6" text-anchor="middle" fill="#262626" >40</text>
<text x="609.2" y="6.9" font-size="9.0" font-weight="bold" text-anchor="middle" fill="#000" >Case (iv)</text>
<polygon points="538.3,54.33 545.7,54.33 542,60.25" fill="none" stroke="#E2A13B" stroke-width="1.05" stroke-linejoin="round" />
<polygon points="545.07,55.13 552.47,55.13 548.77,61.05" fill="none" stroke="#E2A13B" stroke-width="1.05" stroke-linejoin="round" />
<polygon points="551.84,57.4 559.24,57.4 555.54,63.32" fill="none" stroke="#E2A13B" stroke-width="1.05" stroke-linejoin="round" />
<polygon points="558.61,60.6 566.01,60.6 562.31,66.52" fill="none" stroke="#E2A13B" stroke-width="1.05" stroke-linejoin="round" />
<polygon points="565.38,63.4 572.78,63.4 569.08,69.32" fill="none" stroke="#E2A13B" stroke-width="1.05" stroke-linejoin="round" />
<polygon points="572.15,67.14 579.55,67.14 575.85,73.06" fill="none" stroke="#E2A13B" stroke-width="1.05" stroke-linejoin="round" />
<polygon points="578.92,69.8 586.32,69.8 582.62,75.72" fill="none" stroke="#E2A13B" stroke-width="1.05" stroke-linejoin="round" />
<polygon points="592.46,76.47 599.86,76.47 596.16,82.39" fill="none" stroke="#E2A13B" stroke-width="1.05" stroke-linejoin="round" />
<polygon points="619.54,87.55 626.94,87.55 623.24,93.47" fill="none" stroke="#E2A13B" stroke-width="1.05" stroke-linejoin="round" />
<polygon points="646.62,94.35 654.02,94.35 650.32,100.27" fill="none" stroke="#E2A13B" stroke-width="1.05" stroke-linejoin="round" />
<polygon points="542,52.12 545.2,56.22 542,60.32 538.8,56.22" fill="none" stroke="#E2A13B" stroke-width="1" stroke-linejoin="round" />
<polygon points="548.77,52.92 551.97,57.02 548.77,61.12 545.57,57.02" fill="none" stroke="#E2A13B" stroke-width="1" stroke-linejoin="round" />
<polygon points="555.54,54.92 558.74,59.02 555.54,63.12 552.34,59.02" fill="none" stroke="#E2A13B" stroke-width="1" stroke-linejoin="round" />
<polygon points="562.31,57.86 565.51,61.96 562.31,66.06 559.11,61.96" fill="none" stroke="#E2A13B" stroke-width="1" stroke-linejoin="round" />
<polygon points="569.08,60.66 572.28,64.76 569.08,68.86 565.88,64.76" fill="none" stroke="#E2A13B" stroke-width="1" stroke-linejoin="round" />
<polygon points="575.85,64.93 579.05,69.03 575.85,73.13 572.65,69.03" fill="none" stroke="#E2A13B" stroke-width="1" stroke-linejoin="round" />
<polygon points="582.62,68.13 585.82,72.23 582.62,76.33 579.42,72.23" fill="none" stroke="#E2A13B" stroke-width="1" stroke-linejoin="round" />
<polygon points="596.16,74.8 599.36,78.9 596.16,83 592.96,78.9" fill="none" stroke="#E2A13B" stroke-width="1" stroke-linejoin="round" />
<polygon points="623.24,85.61 626.44,89.71 623.24,93.81 620.04,89.71" fill="none" stroke="#E2A13B" stroke-width="1" stroke-linejoin="round" />
<polygon points="650.32,92.81 653.52,96.91 650.32,101.01 647.12,96.91" fill="none" stroke="#E2A13B" stroke-width="1" stroke-linejoin="round" />
<polygon points="542,44.78 542.83,47.25 545.42,47.27 543.34,48.82 544.12,51.3 542,49.79 539.88,51.3 540.66,48.82 538.58,47.27 541.17,47.25" fill="none" stroke="#1A9F93" stroke-width="1.15" stroke-linejoin="round" />
<polygon points="548.77,45.45 549.6,47.92 552.19,47.94 550.11,49.49 550.89,51.96 548.77,50.46 546.65,51.96 547.43,49.49 545.35,47.94 547.94,47.92" fill="none" stroke="#1A9F93" stroke-width="1.15" stroke-linejoin="round" />
<polygon points="555.54,49.72 556.37,52.18 558.96,52.21 556.88,53.75 557.66,56.23 555.54,54.72 553.42,56.23 554.2,53.75 552.12,52.21 554.71,52.18" fill="none" stroke="#1A9F93" stroke-width="1.15" stroke-linejoin="round" />
<polygon points="562.31,57.46 563.14,59.92 565.73,59.95 563.65,61.49 564.43,63.97 562.31,62.46 560.19,63.97 560.97,61.49 558.89,59.95 561.48,59.92" fill="none" stroke="#1A9F93" stroke-width="1.15" stroke-linejoin="round" />
<polygon points="569.08,58.26 569.91,60.72 572.5,60.75 570.42,62.29 571.2,64.77 569.08,63.26 566.96,64.77 567.74,62.29 565.66,60.75 568.25,60.72" fill="none" stroke="#1A9F93" stroke-width="1.15" stroke-linejoin="round" />
<polygon points="575.85,66.8 576.68,69.26 579.27,69.28 577.19,70.83 577.97,73.31 575.85,71.8 573.73,73.31 574.51,70.83 572.43,69.28 575.02,69.26" fill="none" stroke="#1A9F93" stroke-width="1.15" stroke-linejoin="round" />
<polygon points="582.62,73.07 583.45,75.53 586.04,75.55 583.96,77.1 584.74,79.58 582.62,78.07 580.5,79.58 581.28,77.1 579.2,75.55 581.79,75.53" fill="none" stroke="#1A9F93" stroke-width="1.15" stroke-linejoin="round" />
<polygon points="596.16,80.14 596.99,82.6 599.58,82.62 597.5,84.17 598.28,86.65 596.16,85.14 594.04,86.65 594.82,84.17 592.74,82.62 595.33,82.6" fill="none" stroke="#1A9F93" stroke-width="1.15" stroke-linejoin="round" />
<polygon points="623.24,86.14 624.07,88.6 626.66,88.63 624.58,90.17 625.36,92.65 623.24,91.14 621.12,92.65 621.9,90.17 619.82,88.63 622.41,88.6" fill="none" stroke="#1A9F93" stroke-width="1.15" stroke-linejoin="round" />
<polygon points="650.32,87.47 651.15,89.94 653.74,89.96 651.66,91.51 652.44,93.99 650.32,92.48 648.2,93.99 648.98,91.51 646.9,89.96 649.49,89.94" fill="none" stroke="#1A9F93" stroke-width="1.15" stroke-linejoin="round" />
<rect x="539.6" y="44.22" width="4.8" height="4.8" fill="none" stroke="#1A9F93" stroke-width="1"/>
<rect x="546.37" y="42.35" width="4.8" height="4.8" fill="none" stroke="#1A9F93" stroke-width="1"/>
<rect x="553.14" y="45.28" width="4.8" height="4.8" fill="none" stroke="#1A9F93" stroke-width="1"/>
<rect x="559.91" y="54.36" width="4.8" height="4.8" fill="none" stroke="#1A9F93" stroke-width="1"/>
<rect x="566.68" y="48.62" width="4.8" height="4.8" fill="none" stroke="#1A9F93" stroke-width="1"/>
<rect x="573.45" y="60.76" width="4.8" height="4.8" fill="none" stroke="#1A9F93" stroke-width="1"/>
<rect x="580.22" y="68.23" width="4.8" height="4.8" fill="none" stroke="#1A9F93" stroke-width="1"/>
<rect x="593.76" y="70.76" width="4.8" height="4.8" fill="none" stroke="#1A9F93" stroke-width="1"/>
<rect x="620.84" y="67.96" width="4.8" height="4.8" fill="none" stroke="#1A9F93" stroke-width="1"/>
<rect x="647.92" y="60.23" width="4.8" height="4.8" fill="none" stroke="#1A9F93" stroke-width="1"/>
<polyline points="542,183.83 548.77,183.83 555.54,185.85 562.31,187.87 569.08,187.87 575.85,189.89 582.62,188.88 596.16,186.86 623.24,190.9 650.32,187.37" fill="none" stroke="#111111" stroke-width="1.5" stroke-dasharray="5.5,3" stroke-linejoin="round" />
<polyline points="542,183.83 548.77,181.81 555.54,182.82 562.31,188.88 569.08,179.79 575.85,185.85 582.62,188.88 596.16,186.86 623.24,176.76 650.32,165.65" fill="none" stroke="#111111" stroke-width="1.5" stroke-dasharray="1.5,1.6" stroke-linejoin="round" />
<circle cx="542" cy="183.83" r="2.6" fill="#111111" stroke="#111111" stroke-width="0.6"/>
<circle cx="548.77" cy="183.83" r="2.6" fill="#111111" stroke="#111111" stroke-width="0.6"/>
<circle cx="555.54" cy="185.85" r="2.6" fill="#111111" stroke="#111111" stroke-width="0.6"/>
<circle cx="562.31" cy="187.87" r="2.6" fill="#111111" stroke="#111111" stroke-width="0.6"/>
<circle cx="569.08" cy="187.87" r="2.6" fill="#111111" stroke="#111111" stroke-width="0.6"/>
<circle cx="575.85" cy="189.89" r="2.6" fill="#111111" stroke="#111111" stroke-width="0.6"/>
<circle cx="582.62" cy="188.88" r="2.6" fill="#111111" stroke="#111111" stroke-width="0.6"/>
<circle cx="596.16" cy="186.86" r="2.6" fill="#111111" stroke="#111111" stroke-width="0.6"/>
<circle cx="623.24" cy="190.9" r="2.6" fill="#111111" stroke="#111111" stroke-width="0.6"/>
<circle cx="650.32" cy="187.37" r="2.6" fill="#111111" stroke="#111111" stroke-width="0.6"/>
<circle cx="542" cy="183.83" r="2.6" fill="#111111" stroke="#111111" stroke-width="0.6"/>
<circle cx="548.77" cy="181.81" r="2.6" fill="#111111" stroke="#111111" stroke-width="0.6"/>
<circle cx="555.54" cy="182.82" r="2.6" fill="#111111" stroke="#111111" stroke-width="0.6"/>
<circle cx="562.31" cy="188.88" r="2.6" fill="#111111" stroke="#111111" stroke-width="0.6"/>
<circle cx="569.08" cy="179.79" r="2.6" fill="#111111" stroke="#111111" stroke-width="0.6"/>
<circle cx="575.85" cy="185.85" r="2.6" fill="#111111" stroke="#111111" stroke-width="0.6"/>
<circle cx="582.62" cy="188.88" r="2.6" fill="#111111" stroke="#111111" stroke-width="0.6"/>
<circle cx="596.16" cy="186.86" r="2.6" fill="#111111" stroke="#111111" stroke-width="0.6"/>
<circle cx="623.24" cy="176.76" r="2.6" fill="#111111" stroke="#111111" stroke-width="0.6"/>
<circle cx="650.32" cy="165.65" r="2.6" fill="#111111" stroke="#111111" stroke-width="0.6"/>
<text x="0.8" y="16.6" font-size="17.8" font-weight="bold" text-anchor="start" fill="#000" >A)</text>
<text x="18.1" y="71.3" font-size="10" font-weight="bold" text-anchor="middle" fill="#000" transform="rotate(-90 18.1 71.3)" >Mean RT (s)</text>
<text x="13.2" y="168.7" font-size="10" font-weight="bold" text-anchor="middle" fill="#000" transform="rotate(-90 13.2 168.7)" >Abs. RT diff. (s)</text>
<text x="359" y="230" font-size="12.3" font-weight="bold" text-anchor="middle" fill="#000" >Motion strength (% coh)</text>
<line x1="604.1" y1="15.3" x2="673.8" y2="15.3" stroke="#262626" stroke-width="1" />
<rect x="604.1" y="15.3" width="69.7" height="39.4" fill="#fff" stroke="#262626" stroke-width="1"/>
<polygon points="609.9,18.34 617.3,18.34 613.6,24.26" fill="none" stroke="#E2A13B" stroke-width="1.05" stroke-linejoin="round" />
<polygon points="613.5,26.3 616.7,30.4 613.5,34.5 610.3,30.4" fill="none" stroke="#E2A13B" stroke-width="1" stroke-linejoin="round" />
<polygon points="613.5,36.6 614.33,39.06 616.92,39.09 614.84,40.63 615.62,43.11 613.5,41.6 611.38,43.11 612.16,40.63 610.08,39.09 612.67,39.06" fill="none" stroke="#1A9F93" stroke-width="1.15" stroke-linejoin="round" />
<rect x="611.1" y="47.1" width="4.8" height="4.8" fill="none" stroke="#1A9F93" stroke-width="1"/>
<text x="622.3" y="23.5" font-size="7.1" text-anchor="start" fill="#000" >Model, correct</text>
<text x="622.3" y="33" font-size="7.1" text-anchor="start" fill="#000" >Model, error</text>
<text x="622.3" y="42.5" font-size="7.1" text-anchor="start" fill="#000" >Human, correct</text>
<text x="622.3" y="52.1" font-size="7.1" text-anchor="start" fill="#000" >Human, error</text>
<rect x="546.3" y="143.6" width="42.2" height="20.5" fill="#fff" stroke="#262626" stroke-width="1"/>
<line x1="548.3" y1="150" x2="557" y2="150" stroke="#111111" stroke-width="1.2" />
<line x1="560.5" y1="150" x2="563.2" y2="150" stroke="#111111" stroke-width="1.2" />
<circle cx="555.8" cy="150" r="2.6" fill="#111111" stroke="#111111" stroke-width="0.6"/>
<line x1="548.3" y1="159.3" x2="563.2" y2="159.3" stroke="#111111" stroke-width="1.5" stroke-dasharray="1.5,1.6" />
<circle cx="555.8" cy="159.3" r="2.6" fill="#111111" stroke="#111111" stroke-width="0.6"/>
<text x="564.8" y="152.4" font-size="7.1" text-anchor="start" fill="#000" >correct</text>
<text x="564.8" y="161.7" font-size="7.1" text-anchor="start" fill="#000" >error</text>
<line x1="41" y1="245.8" x2="41" y2="429.6" stroke="#262626" stroke-width="1" />
<line x1="41" y1="429.6" x2="174.3" y2="429.6" stroke="#262626" stroke-width="1" />
<line x1="37.2" y1="429.58" x2="41" y2="429.58" stroke="#262626" stroke-width="1" />
<text x="33.8" y="432.98" font-size="9.6" text-anchor="end" fill="#262626" >0.4</text>
<line x1="37.2" y1="398.95" x2="41" y2="398.95" stroke="#262626" stroke-width="1" />
<text x="33.8" y="402.35" font-size="9.6" text-anchor="end" fill="#262626" >0.5</text>
<line x1="37.2" y1="368.32" x2="41" y2="368.32" stroke="#262626" stroke-width="1" />
<text x="33.8" y="371.72" font-size="9.6" text-anchor="end" fill="#262626" >0.6</text>
<line x1="37.2" y1="337.69" x2="41" y2="337.69" stroke="#262626" stroke-width="1" />
<text x="33.8" y="341.09" font-size="9.6" text-anchor="end" fill="#262626" >0.7</text>
<line x1="37.2" y1="307.06" x2="41" y2="307.06" stroke="#262626" stroke-width="1" />
<text x="33.8" y="310.46" font-size="9.6" text-anchor="end" fill="#262626" >0.8</text>
<line x1="37.2" y1="276.43" x2="41" y2="276.43" stroke="#262626" stroke-width="1" />
<text x="33.8" y="279.83" font-size="9.6" text-anchor="end" fill="#262626" >0.9</text>
<line x1="37.2" y1="245.8" x2="41" y2="245.8" stroke="#262626" stroke-width="1" />
<text x="33.8" y="249.2" font-size="9.6" text-anchor="end" fill="#262626" >1</text>
<line x1="41" y1="429.6" x2="41" y2="433.5" stroke="#262626" stroke-width="1" />
<text x="41" y="445.3" font-size="9.6" text-anchor="middle" fill="#262626" >0</text>
<line x1="74.33" y1="429.6" x2="74.33" y2="433.5" stroke="#262626" stroke-width="1" />
<text x="74.33" y="445.3" font-size="9.6" text-anchor="middle" fill="#262626" >10</text>
<line x1="107.65" y1="429.6" x2="107.65" y2="433.5" stroke="#262626" stroke-width="1" />
<text x="107.65" y="445.3" font-size="9.6" text-anchor="middle" fill="#262626" >20</text>
<line x1="140.98" y1="429.6" x2="140.98" y2="433.5" stroke="#262626" stroke-width="1" />
<text x="140.98" y="445.3" font-size="9.6" text-anchor="middle" fill="#262626" >30</text>
<line x1="174.3" y1="429.6" x2="174.3" y2="433.5" stroke="#262626" stroke-width="1" />
<text x="174.3" y="445.3" font-size="9.6" text-anchor="middle" fill="#262626" >40</text>
<circle cx="41" cy="398.03" r="3.2" fill="none" stroke="#E8282A" stroke-width="1.2"/>
<circle cx="47.66" cy="369.24" r="3.2" fill="none" stroke="#E8282A" stroke-width="1.2"/>
<circle cx="54.33" cy="342.59" r="3.2" fill="none" stroke="#E8282A" stroke-width="1.2"/>
<circle cx="61" cy="319.92" r="3.2" fill="none" stroke="#E8282A" stroke-width="1.2"/>
<circle cx="67.66" cy="301.55" r="3.2" fill="none" stroke="#E8282A" stroke-width="1.2"/>
<circle cx="74.33" cy="287.76" r="3.2" fill="none" stroke="#E8282A" stroke-width="1.2"/>
<circle cx="80.99" cy="276.74" r="3.2" fill="none" stroke="#E8282A" stroke-width="1.2"/>
<circle cx="94.32" cy="262.95" r="3.2" fill="none" stroke="#E8282A" stroke-width="1.2"/>
<circle cx="120.98" cy="251.62" r="3.2" fill="none" stroke="#E8282A" stroke-width="1.2"/>
<circle cx="147.64" cy="247.94" r="3.2" fill="none" stroke="#E8282A" stroke-width="1.2"/>
<polygon points="41,397.49 41.83,399.95 44.42,399.98 42.34,401.52 43.12,404 41,402.49 38.88,404 39.66,401.52 37.58,399.98 40.17,399.95" fill="none" stroke="#1A9F93" stroke-width="1.15" stroke-linejoin="round" />
<polygon points="47.66,360.73 48.49,363.2 51.09,363.22 49,364.77 49.78,367.24 47.66,365.74 45.55,367.24 46.33,364.77 44.24,363.22 46.84,363.2" fill="none" stroke="#1A9F93" stroke-width="1.15" stroke-linejoin="round" />
<polygon points="54.33,329.49 55.16,331.95 57.75,331.98 55.67,333.52 56.45,336 54.33,334.49 52.21,336 52.99,333.52 50.91,331.98 53.5,331.95" fill="none" stroke="#1A9F93" stroke-width="1.15" stroke-linejoin="round" />
<polygon points="61,300.7 61.82,303.16 64.42,303.18 62.33,304.73 63.11,307.21 61,305.7 58.88,307.21 59.66,304.73 57.57,303.18 60.17,303.16" fill="none" stroke="#1A9F93" stroke-width="1.15" stroke-linejoin="round" />
<polygon points="67.66,282.32 68.49,284.78 71.08,284.81 69,286.35 69.78,288.83 67.66,287.32 65.54,288.83 66.32,286.35 64.24,284.81 66.83,284.78" fill="none" stroke="#1A9F93" stroke-width="1.15" stroke-linejoin="round" />
<polygon points="74.33,270.07 75.15,272.53 77.75,272.55 75.66,274.1 76.44,276.58 74.33,275.07 72.21,276.58 72.99,274.1 70.9,272.55 73.5,272.53" fill="none" stroke="#1A9F93" stroke-width="1.15" stroke-linejoin="round" />
<polygon points="80.99,259.35 81.82,261.81 84.41,261.83 82.33,263.38 83.11,265.86 80.99,264.35 78.87,265.86 79.65,263.38 77.57,261.83 80.16,261.81" fill="none" stroke="#1A9F93" stroke-width="1.15" stroke-linejoin="round" />
<polygon points="94.32,249.85 95.15,252.32 97.74,252.34 95.66,253.89 96.44,256.36 94.32,254.86 92.2,256.36 92.98,253.89 90.9,252.34 93.49,252.32" fill="none" stroke="#1A9F93" stroke-width="1.15" stroke-linejoin="round" />
<polygon points="120.98,243.73 121.81,246.19 124.4,246.21 122.32,247.76 123.1,250.24 120.98,248.73 118.86,250.24 119.64,247.76 117.56,246.21 120.15,246.19" fill="none" stroke="#1A9F93" stroke-width="1.15" stroke-linejoin="round" />
<polygon points="147.64,243.42 148.47,245.88 151.06,245.91 148.98,247.45 149.76,249.93 147.64,248.42 145.52,249.93 146.3,247.45 144.22,245.91 146.81,245.88" fill="none" stroke="#1A9F93" stroke-width="1.15" stroke-linejoin="round" />
<line x1="208.8" y1="245.8" x2="208.8" y2="429.6" stroke="#262626" stroke-width="1" />
<line x1="208.8" y1="429.6" x2="342.1" y2="429.6" stroke="#262626" stroke-width="1" />
<line x1="205" y1="429.58" x2="208.8" y2="429.58" stroke="#262626" stroke-width="1" />
<text x="201.6" y="432.98" font-size="9.6" text-anchor="end" fill="#262626" >0.4</text>
<line x1="205" y1="398.95" x2="208.8" y2="398.95" stroke="#262626" stroke-width="1" />
<text x="201.6" y="402.35" font-size="9.6" text-anchor="end" fill="#262626" >0.5</text>
<line x1="205" y1="368.32" x2="208.8" y2="368.32" stroke="#262626" stroke-width="1" />
<text x="201.6" y="371.72" font-size="9.6" text-anchor="end" fill="#262626" >0.6</text>
<line x1="205" y1="337.69" x2="208.8" y2="337.69" stroke="#262626" stroke-width="1" />
<text x="201.6" y="341.09" font-size="9.6" text-anchor="end" fill="#262626" >0.7</text>
<line x1="205" y1="307.06" x2="208.8" y2="307.06" stroke="#262626" stroke-width="1" />
<text x="201.6" y="310.46" font-size="9.6" text-anchor="end" fill="#262626" >0.8</text>
<line x1="205" y1="276.43" x2="208.8" y2="276.43" stroke="#262626" stroke-width="1" />
<text x="201.6" y="279.83" font-size="9.6" text-anchor="end" fill="#262626" >0.9</text>
<line x1="205" y1="245.8" x2="208.8" y2="245.8" stroke="#262626" stroke-width="1" />
<text x="201.6" y="249.2" font-size="9.6" text-anchor="end" fill="#262626" >1</text>
<line x1="208.8" y1="429.6" x2="208.8" y2="433.5" stroke="#262626" stroke-width="1" />
<text x="208.8" y="445.3" font-size="9.6" text-anchor="middle" fill="#262626" >0</text>
<line x1="242.12" y1="429.6" x2="242.12" y2="433.5" stroke="#262626" stroke-width="1" />
<text x="242.12" y="445.3" font-size="9.6" text-anchor="middle" fill="#262626" >10</text>
<line x1="275.45" y1="429.6" x2="275.45" y2="433.5" stroke="#262626" stroke-width="1" />
<text x="275.45" y="445.3" font-size="9.6" text-anchor="middle" fill="#262626" >20</text>
<line x1="308.78" y1="429.6" x2="308.78" y2="433.5" stroke="#262626" stroke-width="1" />
<text x="308.78" y="445.3" font-size="9.6" text-anchor="middle" fill="#262626" >30</text>
<line x1="342.1" y1="429.6" x2="342.1" y2="433.5" stroke="#262626" stroke-width="1" />
<text x="342.1" y="445.3" font-size="9.6" text-anchor="middle" fill="#262626" >40</text>
<line x1="206.3" y1="396.14" x2="211.3" y2="401.14" stroke="#2424D8" stroke-width="1.3" />
<line x1="206.3" y1="401.14" x2="211.3" y2="396.14" stroke="#2424D8" stroke-width="1.3" />
<line x1="212.97" y1="368.58" x2="217.97" y2="373.58" stroke="#2424D8" stroke-width="1.3" />
<line x1="212.97" y1="373.58" x2="217.97" y2="368.58" stroke="#2424D8" stroke-width="1.3" />
<line x1="219.63" y1="342.23" x2="224.63" y2="347.23" stroke="#2424D8" stroke-width="1.3" />
<line x1="219.63" y1="347.23" x2="224.63" y2="342.23" stroke="#2424D8" stroke-width="1.3" />
<line x1="226.3" y1="319.26" x2="231.3" y2="324.26" stroke="#2424D8" stroke-width="1.3" />
<line x1="226.3" y1="324.26" x2="231.3" y2="319.26" stroke="#2424D8" stroke-width="1.3" />
<line x1="232.96" y1="299.97" x2="237.96" y2="304.97" stroke="#2424D8" stroke-width="1.3" />
<line x1="232.96" y1="304.97" x2="237.96" y2="299.97" stroke="#2424D8" stroke-width="1.3" />
<line x1="239.62" y1="284.34" x2="244.62" y2="289.34" stroke="#2424D8" stroke-width="1.3" />
<line x1="239.62" y1="289.34" x2="244.62" y2="284.34" stroke="#2424D8" stroke-width="1.3" />
<line x1="246.29" y1="272.7" x2="251.29" y2="277.7" stroke="#2424D8" stroke-width="1.3" />
<line x1="246.29" y1="277.7" x2="251.29" y2="272.7" stroke="#2424D8" stroke-width="1.3" />
<line x1="259.62" y1="258" x2="264.62" y2="263" stroke="#2424D8" stroke-width="1.3" />
<line x1="259.62" y1="263" x2="264.62" y2="258" stroke="#2424D8" stroke-width="1.3" />
<line x1="286.28" y1="246.36" x2="291.28" y2="251.36" stroke="#2424D8" stroke-width="1.3" />
<line x1="286.28" y1="251.36" x2="291.28" y2="246.36" stroke="#2424D8" stroke-width="1.3" />
<line x1="312.94" y1="243.91" x2="317.94" y2="248.91" stroke="#2424D8" stroke-width="1.3" />
<line x1="312.94" y1="248.91" x2="317.94" y2="243.91" stroke="#2424D8" stroke-width="1.3" />
<polygon points="208.8,397.49 209.63,399.95 212.22,399.98 210.14,401.52 210.92,404 208.8,402.49 206.68,404 207.46,401.52 205.38,399.98 207.97,399.95" fill="none" stroke="#1A9F93" stroke-width="1.15" stroke-linejoin="round" />
<polygon points="215.47,360.73 216.29,363.2 218.89,363.22 216.8,364.77 217.58,367.24 215.47,365.74 213.35,367.24 214.13,364.77 212.04,363.22 214.64,363.2" fill="none" stroke="#1A9F93" stroke-width="1.15" stroke-linejoin="round" />
<polygon points="222.13,329.49 222.96,331.95 225.55,331.98 223.47,333.52 224.25,336 222.13,334.49 220.01,336 220.79,333.52 218.71,331.98 221.3,331.95" fill="none" stroke="#1A9F93" stroke-width="1.15" stroke-linejoin="round" />
<polygon points="228.8,300.7 229.62,303.16 232.22,303.18 230.13,304.73 230.91,307.21 228.8,305.7 226.68,307.21 227.46,304.73 225.37,303.18 227.97,303.16" fill="none" stroke="#1A9F93" stroke-width="1.15" stroke-linejoin="round" />
<polygon points="235.46,282.32 236.29,284.78 238.88,284.81 236.8,286.35 237.58,288.83 235.46,287.32 233.34,288.83 234.12,286.35 232.04,284.81 234.63,284.78" fill="none" stroke="#1A9F93" stroke-width="1.15" stroke-linejoin="round" />
<polygon points="242.12,270.07 242.95,272.53 245.55,272.55 243.46,274.1 244.24,276.58 242.12,275.07 240.01,276.58 240.79,274.1 238.7,272.55 241.3,272.53" fill="none" stroke="#1A9F93" stroke-width="1.15" stroke-linejoin="round" />
<polygon points="248.79,259.35 249.62,261.81 252.21,261.83 250.13,263.38 250.91,265.86 248.79,264.35 246.67,265.86 247.45,263.38 245.37,261.83 247.96,261.81" fill="none" stroke="#1A9F93" stroke-width="1.15" stroke-linejoin="round" />
<polygon points="262.12,249.85 262.95,252.32 265.54,252.34 263.46,253.89 264.24,256.36 262.12,254.86 260,256.36 260.78,253.89 258.7,252.34 261.29,252.32" fill="none" stroke="#1A9F93" stroke-width="1.15" stroke-linejoin="round" />
<polygon points="288.78,243.73 289.61,246.19 292.2,246.21 290.12,247.76 290.9,250.24 288.78,248.73 286.66,250.24 287.44,247.76 285.36,246.21 287.95,246.19" fill="none" stroke="#1A9F93" stroke-width="1.15" stroke-linejoin="round" />
<polygon points="315.44,243.42 316.27,245.88 318.86,245.91 316.78,247.45 317.56,249.93 315.44,248.42 313.32,249.93 314.1,247.45 312.02,245.91 314.61,245.88" fill="none" stroke="#1A9F93" stroke-width="1.15" stroke-linejoin="round" />
<line x1="376.5" y1="245.8" x2="376.5" y2="429.6" stroke="#262626" stroke-width="1" />
<line x1="376.5" y1="429.6" x2="509.8" y2="429.6" stroke="#262626" stroke-width="1" />
<line x1="372.7" y1="429.58" x2="376.5" y2="429.58" stroke="#262626" stroke-width="1" />
<text x="369.3" y="432.98" font-size="9.6" text-anchor="end" fill="#262626" >0.4</text>
<line x1="372.7" y1="398.95" x2="376.5" y2="398.95" stroke="#262626" stroke-width="1" />
<text x="369.3" y="402.35" font-size="9.6" text-anchor="end" fill="#262626" >0.5</text>
<line x1="372.7" y1="368.32" x2="376.5" y2="368.32" stroke="#262626" stroke-width="1" />
<text x="369.3" y="371.72" font-size="9.6" text-anchor="end" fill="#262626" >0.6</text>
<line x1="372.7" y1="337.69" x2="376.5" y2="337.69" stroke="#262626" stroke-width="1" />
<text x="369.3" y="341.09" font-size="9.6" text-anchor="end" fill="#262626" >0.7</text>
<line x1="372.7" y1="307.06" x2="376.5" y2="307.06" stroke="#262626" stroke-width="1" />
<text x="369.3" y="310.46" font-size="9.6" text-anchor="end" fill="#262626" >0.8</text>
<line x1="372.7" y1="276.43" x2="376.5" y2="276.43" stroke="#262626" stroke-width="1" />
<text x="369.3" y="279.83" font-size="9.6" text-anchor="end" fill="#262626" >0.9</text>
<line x1="372.7" y1="245.8" x2="376.5" y2="245.8" stroke="#262626" stroke-width="1" />
<text x="369.3" y="249.2" font-size="9.6" text-anchor="end" fill="#262626" >1</text>
<line x1="376.5" y1="429.6" x2="376.5" y2="433.5" stroke="#262626" stroke-width="1" />
<text x="376.5" y="445.3" font-size="9.6" text-anchor="middle" fill="#262626" >0</text>
<line x1="409.82" y1="429.6" x2="409.82" y2="433.5" stroke="#262626" stroke-width="1" />
<text x="409.82" y="445.3" font-size="9.6" text-anchor="middle" fill="#262626" >10</text>
<line x1="443.15" y1="429.6" x2="443.15" y2="433.5" stroke="#262626" stroke-width="1" />
<text x="443.15" y="445.3" font-size="9.6" text-anchor="middle" fill="#262626" >20</text>
<line x1="476.48" y1="429.6" x2="476.48" y2="433.5" stroke="#262626" stroke-width="1" />
<text x="476.48" y="445.3" font-size="9.6" text-anchor="middle" fill="#262626" >30</text>
<line x1="509.8" y1="429.6" x2="509.8" y2="433.5" stroke="#262626" stroke-width="1" />
<text x="509.8" y="445.3" font-size="9.6" text-anchor="middle" fill="#262626" >40</text>
<line x1="373.3" y1="398.64" x2="379.7" y2="398.64" stroke="#111111" stroke-width="1" />
<line x1="376.5" y1="395.44" x2="376.5" y2="401.84" stroke="#111111" stroke-width="1" />
<line x1="379.97" y1="371.38" x2="386.37" y2="371.38" stroke="#111111" stroke-width="1" />
<line x1="383.17" y1="368.18" x2="383.17" y2="374.58" stroke="#111111" stroke-width="1" />
<line x1="386.63" y1="345.35" x2="393.03" y2="345.35" stroke="#111111" stroke-width="1" />
<line x1="389.83" y1="342.15" x2="389.83" y2="348.55" stroke="#111111" stroke-width="1" />
<line x1="393.3" y1="322.38" x2="399.69" y2="322.38" stroke="#111111" stroke-width="1" />
<line x1="396.5" y1="319.18" x2="396.5" y2="325.57" stroke="#111111" stroke-width="1" />
<line x1="399.96" y1="302.77" x2="406.36" y2="302.77" stroke="#111111" stroke-width="1" />
<line x1="403.16" y1="299.57" x2="403.16" y2="305.97" stroke="#111111" stroke-width="1" />
<line x1="406.62" y1="287.15" x2="413.02" y2="287.15" stroke="#111111" stroke-width="1" />
<line x1="409.82" y1="283.95" x2="409.82" y2="290.35" stroke="#111111" stroke-width="1" />
<line x1="413.29" y1="275.51" x2="419.69" y2="275.51" stroke="#111111" stroke-width="1" />
<line x1="416.49" y1="272.31" x2="416.49" y2="278.71" stroke="#111111" stroke-width="1" />
<line x1="426.62" y1="260.5" x2="433.02" y2="260.5" stroke="#111111" stroke-width="1" />
<line x1="429.82" y1="257.3" x2="429.82" y2="263.7" stroke="#111111" stroke-width="1" />
<line x1="453.28" y1="248.86" x2="459.68" y2="248.86" stroke="#111111" stroke-width="1" />
<line x1="456.48" y1="245.66" x2="456.48" y2="252.06" stroke="#111111" stroke-width="1" />
<line x1="479.94" y1="246.41" x2="486.34" y2="246.41" stroke="#111111" stroke-width="1" />
<line x1="483.14" y1="243.21" x2="483.14" y2="249.61" stroke="#111111" stroke-width="1" />
<polygon points="376.5,397.49 377.33,399.95 379.92,399.98 377.84,401.52 378.62,404 376.5,402.49 374.38,404 375.16,401.52 373.08,399.98 375.67,399.95" fill="none" stroke="#1A9F93" stroke-width="1.15" stroke-linejoin="round" />
<polygon points="383.17,360.73 383.99,363.2 386.59,363.22 384.5,364.77 385.28,367.24 383.17,365.74 381.05,367.24 381.83,364.77 379.74,363.22 382.34,363.2" fill="none" stroke="#1A9F93" stroke-width="1.15" stroke-linejoin="round" />
<polygon points="389.83,329.49 390.66,331.95 393.25,331.98 391.17,333.52 391.95,336 389.83,334.49 387.71,336 388.49,333.52 386.41,331.98 389,331.95" fill="none" stroke="#1A9F93" stroke-width="1.15" stroke-linejoin="round" />
<polygon points="396.5,300.7 397.32,303.16 399.92,303.18 397.83,304.73 398.61,307.21 396.5,305.7 394.38,307.21 395.16,304.73 393.07,303.18 395.67,303.16" fill="none" stroke="#1A9F93" stroke-width="1.15" stroke-linejoin="round" />
<polygon points="403.16,282.32 403.99,284.78 406.58,284.81 404.5,286.35 405.28,288.83 403.16,287.32 401.04,288.83 401.82,286.35 399.74,284.81 402.33,284.78" fill="none" stroke="#1A9F93" stroke-width="1.15" stroke-linejoin="round" />
<polygon points="409.82,270.07 410.65,272.53 413.25,272.55 411.16,274.1 411.94,276.58 409.82,275.07 407.71,276.58 408.49,274.1 406.4,272.55 409,272.53" fill="none" stroke="#1A9F93" stroke-width="1.15" stroke-linejoin="round" />
<polygon points="416.49,259.35 417.32,261.81 419.91,261.83 417.83,263.38 418.61,265.86 416.49,264.35 414.37,265.86 415.15,263.38 413.07,261.83 415.66,261.81" fill="none" stroke="#1A9F93" stroke-width="1.15" stroke-linejoin="round" />
<polygon points="429.82,249.85 430.65,252.32 433.24,252.34 431.16,253.89 431.94,256.36 429.82,254.86 427.7,256.36 428.48,253.89 426.4,252.34 428.99,252.32" fill="none" stroke="#1A9F93" stroke-width="1.15" stroke-linejoin="round" />
<polygon points="456.48,243.73 457.31,246.19 459.9,246.21 457.82,247.76 458.6,250.24 456.48,248.73 454.36,250.24 455.14,247.76 453.06,246.21 455.65,246.19" fill="none" stroke="#1A9F93" stroke-width="1.15" stroke-linejoin="round" />
<polygon points="483.14,243.42 483.97,245.88 486.56,245.91 484.48,247.45 485.26,249.93 483.14,248.42 481.02,249.93 481.8,247.45 479.72,245.91 482.31,245.88" fill="none" stroke="#1A9F93" stroke-width="1.15" stroke-linejoin="round" />
<line x1="544.2" y1="245.8" x2="544.2" y2="429.6" stroke="#262626" stroke-width="1" />
<line x1="544.2" y1="429.6" x2="677.5" y2="429.6" stroke="#262626" stroke-width="1" />
<line x1="540.4" y1="429.58" x2="544.2" y2="429.58" stroke="#262626" stroke-width="1" />
<text x="537" y="432.98" font-size="9.6" text-anchor="end" fill="#262626" >0.4</text>
<line x1="540.4" y1="398.95" x2="544.2" y2="398.95" stroke="#262626" stroke-width="1" />
<text x="537" y="402.35" font-size="9.6" text-anchor="end" fill="#262626" >0.5</text>
<line x1="540.4" y1="368.32" x2="544.2" y2="368.32" stroke="#262626" stroke-width="1" />
<text x="537" y="371.72" font-size="9.6" text-anchor="end" fill="#262626" >0.6</text>
<line x1="540.4" y1="337.69" x2="544.2" y2="337.69" stroke="#262626" stroke-width="1" />
<text x="537" y="341.09" font-size="9.6" text-anchor="end" fill="#262626" >0.7</text>
<line x1="540.4" y1="307.06" x2="544.2" y2="307.06" stroke="#262626" stroke-width="1" />
<text x="537" y="310.46" font-size="9.6" text-anchor="end" fill="#262626" >0.8</text>
<line x1="540.4" y1="276.43" x2="544.2" y2="276.43" stroke="#262626" stroke-width="1" />
<text x="537" y="279.83" font-size="9.6" text-anchor="end" fill="#262626" >0.9</text>
<line x1="540.4" y1="245.8" x2="544.2" y2="245.8" stroke="#262626" stroke-width="1" />
<text x="537" y="249.2" font-size="9.6" text-anchor="end" fill="#262626" >1</text>
<line x1="544.2" y1="429.6" x2="544.2" y2="433.5" stroke="#262626" stroke-width="1" />
<text x="544.2" y="445.3" font-size="9.6" text-anchor="middle" fill="#262626" >0</text>
<line x1="577.53" y1="429.6" x2="577.53" y2="433.5" stroke="#262626" stroke-width="1" />
<text x="577.53" y="445.3" font-size="9.6" text-anchor="middle" fill="#262626" >10</text>
<line x1="610.85" y1="429.6" x2="610.85" y2="433.5" stroke="#262626" stroke-width="1" />
<text x="610.85" y="445.3" font-size="9.6" text-anchor="middle" fill="#262626" >20</text>
<line x1="644.18" y1="429.6" x2="644.18" y2="433.5" stroke="#262626" stroke-width="1" />
<text x="644.18" y="445.3" font-size="9.6" text-anchor="middle" fill="#262626" >30</text>
<line x1="677.5" y1="429.6" x2="677.5" y2="433.5" stroke="#262626" stroke-width="1" />
<text x="677.5" y="445.3" font-size="9.6" text-anchor="middle" fill="#262626" >40</text>
<polygon points="540.1,399.5 548.3,399.5 544.2,393.9" fill="none" stroke="#B040F0" stroke-width="1" stroke-linejoin="round" />
<polygon points="546.76,372.54 554.97,372.54 550.87,366.95" fill="none" stroke="#B040F0" stroke-width="1" stroke-linejoin="round" />
<polygon points="553.43,346.81 561.63,346.81 557.53,341.22" fill="none" stroke="#B040F0" stroke-width="1" stroke-linejoin="round" />
<polygon points="560.1,324.15 568.3,324.15 564.2,318.55" fill="none" stroke="#B040F0" stroke-width="1" stroke-linejoin="round" />
<polygon points="566.76,305.16 574.96,305.16 570.86,299.56" fill="none" stroke="#B040F0" stroke-width="1" stroke-linejoin="round" />
<polygon points="573.43,289.84 581.63,289.84 577.53,284.25" fill="none" stroke="#B040F0" stroke-width="1" stroke-linejoin="round" />
<polygon points="580.09,278.2 588.29,278.2 584.19,272.61" fill="none" stroke="#B040F0" stroke-width="1" stroke-linejoin="round" />
<polygon points="593.42,262.89 601.62,262.89 597.52,257.29" fill="none" stroke="#B040F0" stroke-width="1" stroke-linejoin="round" />
<polygon points="620.08,250.33 628.28,250.33 624.18,244.73" fill="none" stroke="#B040F0" stroke-width="1" stroke-linejoin="round" />
<polygon points="646.74,248.49 654.94,248.49 650.84,242.89" fill="none" stroke="#B040F0" stroke-width="1" stroke-linejoin="round" />
<polygon points="544.2,397.49 545.03,399.95 547.62,399.98 545.54,401.52 546.32,404 544.2,402.49 542.08,404 542.86,401.52 540.78,399.98 543.37,399.95" fill="none" stroke="#1A9F93" stroke-width="1.15" stroke-linejoin="round" />
<polygon points="550.87,360.73 551.69,363.2 554.29,363.22 552.2,364.77 552.98,367.24 550.87,365.74 548.75,367.24 549.53,364.77 547.44,363.22 550.04,363.2" fill="none" stroke="#1A9F93" stroke-width="1.15" stroke-linejoin="round" />
<polygon points="557.53,329.49 558.36,331.95 560.95,331.98 558.87,333.52 559.65,336 557.53,334.49 555.41,336 556.19,333.52 554.11,331.98 556.7,331.95" fill="none" stroke="#1A9F93" stroke-width="1.15" stroke-linejoin="round" />
<polygon points="564.2,300.7 565.02,303.16 567.62,303.18 565.53,304.73 566.31,307.21 564.2,305.7 562.08,307.21 562.86,304.73 560.77,303.18 563.37,303.16" fill="none" stroke="#1A9F93" stroke-width="1.15" stroke-linejoin="round" />
<polygon points="570.86,282.32 571.69,284.78 574.28,284.81 572.2,286.35 572.98,288.83 570.86,287.32 568.74,288.83 569.52,286.35 567.44,284.81 570.03,284.78" fill="none" stroke="#1A9F93" stroke-width="1.15" stroke-linejoin="round" />
<polygon points="577.53,270.07 578.35,272.53 580.95,272.55 578.86,274.1 579.64,276.58 577.53,275.07 575.41,276.58 576.19,274.1 574.1,272.55 576.7,272.53" fill="none" stroke="#1A9F93" stroke-width="1.15" stroke-linejoin="round" />
<polygon points="584.19,259.35 585.02,261.81 587.61,261.83 585.53,263.38 586.31,265.86 584.19,264.35 582.07,265.86 582.85,263.38 580.77,261.83 583.36,261.81" fill="none" stroke="#1A9F93" stroke-width="1.15" stroke-linejoin="round" />
<polygon points="597.52,249.85 598.35,252.32 600.94,252.34 598.86,253.89 599.64,256.36 597.52,254.86 595.4,256.36 596.18,253.89 594.1,252.34 596.69,252.32" fill="none" stroke="#1A9F93" stroke-width="1.15" stroke-linejoin="round" />
<polygon points="624.18,243.73 625.01,246.19 627.6,246.21 625.52,247.76 626.3,250.24 624.18,248.73 622.06,250.24 622.84,247.76 620.76,246.21 623.35,246.19" fill="none" stroke="#1A9F93" stroke-width="1.15" stroke-linejoin="round" />
<polygon points="650.84,243.42 651.67,245.88 654.26,245.91 652.18,247.45 652.96,249.93 650.84,248.42 648.72,249.93 649.5,247.45 647.42,245.91 650.01,245.88" fill="none" stroke="#1A9F93" stroke-width="1.15" stroke-linejoin="round" />
<text x="0.8" y="250.9" font-size="18.2" font-weight="bold" text-anchor="start" fill="#000" >B)</text>
<text x="15.3" y="337.4" font-size="12.3" font-weight="bold" text-anchor="middle" fill="#000" transform="rotate(-90 15.3 337.4)" >Accuracy</text>
<text x="359" y="464.4" font-size="12.3" font-weight="bold" text-anchor="middle" fill="#000" >Motion strength (% coh)</text>
<rect x="614.6" y="253.6" width="58.6" height="49.2" fill="#fff" stroke="#262626" stroke-width="1"/>
<circle cx="623.5" cy="259.3" r="3.0" fill="none" stroke="#E8282A" stroke-width="1"/>
<line x1="621.2" y1="266.5" x2="625.8" y2="271.1" stroke="#2424D8" stroke-width="1.1" />
<line x1="621.2" y1="271.1" x2="625.8" y2="266.5" stroke="#2424D8" stroke-width="1.1" />
<line x1="620.5" y1="278.4" x2="626.5" y2="278.4" stroke="#111111" stroke-width="1" />
<line x1="623.5" y1="275.4" x2="623.5" y2="281.4" stroke="#111111" stroke-width="1" />
<polygon points="619.5,289.93 627.5,289.93 623.5,284.47" fill="none" stroke="#B040F0" stroke-width="1" stroke-linejoin="round" />
<polygon points="623.5,294.1 624.33,296.56 626.92,296.59 624.84,298.13 625.62,300.61 623.5,299.1 621.38,300.61 622.16,298.13 620.08,296.59 622.67,296.56" fill="none" stroke="#1A9F93" stroke-width="1.15" stroke-linejoin="round" />
<text x="632" y="261.9" font-size="7.1" text-anchor="start" fill="#000" >Case (i)</text>
<text x="632" y="271.4" font-size="7.1" text-anchor="start" fill="#000" >Case (ii)</text>
<text x="632" y="281" font-size="7.1" text-anchor="start" fill="#000" >Case (iii)</text>
<text x="632" y="290.5" font-size="7.1" text-anchor="start" fill="#000" >Case (iv)</text>
<text x="632" y="300" font-size="7.1" text-anchor="start" fill="#000" >Human data</text>
<line x1="599" y1="306.2" x2="599" y2="403.4" stroke="#262626" stroke-width="0.8" />
<line x1="599" y1="403.4" x2="673.2" y2="403.4" stroke="#262626" stroke-width="0.8" />
<line x1="597" y1="403.4" x2="599" y2="403.4" stroke="#262626" stroke-width="0.6" />
<text x="596" y="405" font-size="4.6" text-anchor="end" fill="#262626" >0</text>
<line x1="597" y1="389.51" x2="599" y2="389.51" stroke="#262626" stroke-width="0.6" />
<text x="596" y="391.11" font-size="4.6" text-anchor="end" fill="#262626" >0.01</text>
<line x1="597" y1="375.63" x2="599" y2="375.63" stroke="#262626" stroke-width="0.6" />
<text x="596" y="377.23" font-size="4.6" text-anchor="end" fill="#262626" >0.02</text>
<line x1="597" y1="361.74" x2="599" y2="361.74" stroke="#262626" stroke-width="0.6" />
<text x="596" y="363.34" font-size="4.6" text-anchor="end" fill="#262626" >0.03</text>
<line x1="597" y1="347.86" x2="599" y2="347.86" stroke="#262626" stroke-width="0.6" />
<text x="596" y="349.46" font-size="4.6" text-anchor="end" fill="#262626" >0.04</text>
<line x1="597" y1="333.97" x2="599" y2="333.97" stroke="#262626" stroke-width="0.6" />
<text x="596" y="335.57" font-size="4.6" text-anchor="end" fill="#262626" >0.05</text>
<line x1="597" y1="320.09" x2="599" y2="320.09" stroke="#262626" stroke-width="0.6" />
<text x="596" y="321.69" font-size="4.6" text-anchor="end" fill="#262626" >0.06</text>
<line x1="597" y1="306.2" x2="599" y2="306.2" stroke="#262626" stroke-width="0.6" />
<text x="596" y="307.8" font-size="4.6" text-anchor="end" fill="#262626" >0.07</text>
<line x1="599" y1="403.4" x2="599" y2="405.4" stroke="#262626" stroke-width="0.6" />
<text x="599" y="410.6" font-size="4.9" text-anchor="middle" fill="#262626" >0</text>
<line x1="617.55" y1="403.4" x2="617.55" y2="405.4" stroke="#262626" stroke-width="0.6" />
<text x="617.55" y="410.6" font-size="4.9" text-anchor="middle" fill="#262626" >10</text>
<line x1="636.1" y1="403.4" x2="636.1" y2="405.4" stroke="#262626" stroke-width="0.6" />
<text x="636.1" y="410.6" font-size="4.9" text-anchor="middle" fill="#262626" >20</text>
<line x1="654.65" y1="403.4" x2="654.65" y2="405.4" stroke="#262626" stroke-width="0.6" />
<text x="654.65" y="410.6" font-size="4.9" text-anchor="middle" fill="#262626" >30</text>
<line x1="673.2" y1="403.4" x2="673.2" y2="405.4" stroke="#262626" stroke-width="0.6" />
<text x="673.2" y="410.6" font-size="4.9" text-anchor="middle" fill="#262626" >40</text>
<text x="636.6" y="419.6" font-size="6.5" text-anchor="middle" fill="#111" stroke="#111" stroke-width="0.15">Motion strength (% coh)</text>
<text x="584.3" y="356" font-size="5.6" font-weight="bold" text-anchor="middle" fill="#000" transform="rotate(-90 584.3 356)" >Abs. diff.</text>
<polygon points="596.1,394.87 601.9,394.87 599,390.91" fill="none" stroke="#B040F0" stroke-width="0.8" stroke-linejoin="round" />
<circle cx="599" cy="393.4" r="2.2" fill="none" stroke="#E8282A" stroke-width="0.8"/>
<line x1="597.3" y1="391.7" x2="600.7" y2="395.1" stroke="#2424D8" stroke-width="0.8" />
<line x1="597.3" y1="395.1" x2="600.7" y2="391.7" stroke="#2424D8" stroke-width="0.8" />
<line x1="596.8" y1="393.4" x2="601.2" y2="393.4" stroke="#111111" stroke-width="0.8" />
<line x1="599" y1="391.2" x2="599" y2="395.6" stroke="#111111" stroke-width="0.8" />
<polygon points="599.81,370.85 605.61,370.85 602.71,366.89" fill="none" stroke="#B040F0" stroke-width="0.8" stroke-linejoin="round" />
<circle cx="602.71" cy="379.79" r="2.2" fill="none" stroke="#E8282A" stroke-width="0.8"/>
<line x1="601.01" y1="368.37" x2="604.41" y2="371.77" stroke="#2424D8" stroke-width="0.8" />
<line x1="601.01" y1="371.77" x2="604.41" y2="368.37" stroke="#2424D8" stroke-width="0.8" />
<line x1="600.51" y1="370.77" x2="604.91" y2="370.77" stroke="#111111" stroke-width="0.8" />
<line x1="602.71" y1="368.57" x2="602.71" y2="372.97" stroke="#111111" stroke-width="0.8" />
<polygon points="603.52,347.94 609.32,347.94 606.42,343.98" fill="none" stroke="#B040F0" stroke-width="0.8" stroke-linejoin="round" />
<circle cx="606.42" cy="360.63" r="2.2" fill="none" stroke="#E8282A" stroke-width="0.8"/>
<line x1="604.72" y1="347.55" x2="608.12" y2="350.95" stroke="#2424D8" stroke-width="0.8" />
<line x1="604.72" y1="350.95" x2="608.12" y2="347.55" stroke="#2424D8" stroke-width="0.8" />
<line x1="604.22" y1="348.55" x2="608.62" y2="348.55" stroke="#111111" stroke-width="0.8" />
<line x1="606.42" y1="346.35" x2="606.42" y2="350.75" stroke="#111111" stroke-width="0.8" />
<polygon points="607.23,317.67 613.03,317.67 610.13,313.71" fill="none" stroke="#B040F0" stroke-width="0.8" stroke-linejoin="round" />
<circle cx="610.13" cy="330.64" r="2.2" fill="none" stroke="#E8282A" stroke-width="0.8"/>
<line x1="608.43" y1="318.94" x2="611.83" y2="322.34" stroke="#2424D8" stroke-width="0.8" />
<line x1="608.43" y1="322.34" x2="611.83" y2="318.94" stroke="#2424D8" stroke-width="0.8" />
<line x1="607.93" y1="321.06" x2="612.33" y2="321.06" stroke="#111111" stroke-width="0.8" />
<line x1="610.13" y1="318.86" x2="610.13" y2="323.26" stroke="#111111" stroke-width="0.8" />
<polygon points="610.94,321.56 616.74,321.56 613.84,317.6" fill="none" stroke="#B040F0" stroke-width="0.8" stroke-linejoin="round" />
<circle cx="613.84" cy="331.89" r="2.2" fill="none" stroke="#E8282A" stroke-width="0.8"/>
<line x1="612.14" y1="324.91" x2="615.54" y2="328.31" stroke="#2424D8" stroke-width="0.8" />
<line x1="612.14" y1="328.31" x2="615.54" y2="324.91" stroke="#2424D8" stroke-width="0.8" />
<line x1="611.64" y1="327.03" x2="616.04" y2="327.03" stroke="#111111" stroke-width="0.8" />
<line x1="613.84" y1="324.83" x2="613.84" y2="329.23" stroke="#111111" stroke-width="0.8" />
<polygon points="614.65,335.44 620.45,335.44 617.55,331.48" fill="none" stroke="#B040F0" stroke-width="0.8" stroke-linejoin="round" />
<circle cx="617.55" cy="340.36" r="2.2" fill="none" stroke="#E8282A" stroke-width="0.8"/>
<line x1="615.85" y1="340.05" x2="619.25" y2="343.45" stroke="#2424D8" stroke-width="0.8" />
<line x1="615.85" y1="343.45" x2="619.25" y2="340.05" stroke="#2424D8" stroke-width="0.8" />
<line x1="615.35" y1="341.47" x2="619.75" y2="341.47" stroke="#111111" stroke-width="0.8" />
<line x1="617.55" y1="339.27" x2="617.55" y2="343.67" stroke="#111111" stroke-width="0.8" />
<polygon points="618.36,339.61 624.16,339.61 621.26,335.65" fill="none" stroke="#B040F0" stroke-width="0.8" stroke-linejoin="round" />
<circle cx="621.26" cy="338.97" r="2.2" fill="none" stroke="#E8282A" stroke-width="0.8"/>
<line x1="619.56" y1="343.38" x2="622.96" y2="346.78" stroke="#2424D8" stroke-width="0.8" />
<line x1="619.56" y1="346.78" x2="622.96" y2="343.38" stroke="#2424D8" stroke-width="0.8" />
<line x1="619.06" y1="345.77" x2="623.46" y2="345.77" stroke="#111111" stroke-width="0.8" />
<line x1="621.26" y1="343.57" x2="621.26" y2="347.97" stroke="#111111" stroke-width="0.8" />
<polygon points="625.78,365.3 631.58,365.3 628.68,361.34" fill="none" stroke="#B040F0" stroke-width="0.8" stroke-linejoin="round" />
<circle cx="628.68" cy="358.69" r="2.2" fill="none" stroke="#E8282A" stroke-width="0.8"/>
<line x1="626.98" y1="369.49" x2="630.38" y2="372.89" stroke="#2424D8" stroke-width="0.8" />
<line x1="626.98" y1="372.89" x2="630.38" y2="369.49" stroke="#2424D8" stroke-width="0.8" />
<line x1="626.48" y1="371.46" x2="630.88" y2="371.46" stroke="#111111" stroke-width="0.8" />
<line x1="628.68" y1="369.26" x2="628.68" y2="373.66" stroke="#111111" stroke-width="0.8" />
<polygon points="640.62,394.87 646.42,394.87 643.52,390.91" fill="none" stroke="#B040F0" stroke-width="0.8" stroke-linejoin="round" />
<circle cx="643.52" cy="384.93" r="2.2" fill="none" stroke="#E8282A" stroke-width="0.8"/>
<line x1="641.82" y1="394.34" x2="645.22" y2="397.74" stroke="#2424D8" stroke-width="0.8" />
<line x1="641.82" y1="397.74" x2="645.22" y2="394.34" stroke="#2424D8" stroke-width="0.8" />
<line x1="641.32" y1="396.46" x2="645.72" y2="396.46" stroke="#111111" stroke-width="0.8" />
<line x1="643.52" y1="394.26" x2="643.52" y2="398.66" stroke="#111111" stroke-width="0.8" />
<polygon points="655.46,402.23 661.26,402.23 658.36,398.27" fill="none" stroke="#B040F0" stroke-width="0.8" stroke-linejoin="round" />
<circle cx="658.36" cy="399.51" r="2.2" fill="none" stroke="#E8282A" stroke-width="0.8"/>
<line x1="656.66" y1="399.06" x2="660.06" y2="402.46" stroke="#2424D8" stroke-width="0.8" />
<line x1="656.66" y1="402.46" x2="660.06" y2="399.06" stroke="#2424D8" stroke-width="0.8" />
<line x1="656.16" y1="400.76" x2="660.56" y2="400.76" stroke="#111111" stroke-width="0.8" />
<line x1="658.36" y1="398.56" x2="658.36" y2="402.96" stroke="#111111" stroke-width="0.8" />
<rect x="63.58" y="538.04" width="2.66" height="4.36" fill="#cccccc" stroke="#6a6a6a" stroke-width="0.45"/>
<rect x="66.24" y="529.97" width="2.66" height="12.43" fill="#cccccc" stroke="#6a6a6a" stroke-width="0.45"/>
<rect x="68.9" y="527.89" width="2.66" height="14.51" fill="#cccccc" stroke="#6a6a6a" stroke-width="0.45"/>
<rect x="71.56" y="527.07" width="2.66" height="15.33" fill="#cccccc" stroke="#6a6a6a" stroke-width="0.45"/>
<rect x="74.22" y="527.36" width="2.66" height="15.04" fill="#cccccc" stroke="#6a6a6a" stroke-width="0.45"/>
<rect x="76.88" y="529.74" width="2.66" height="12.66" fill="#cccccc" stroke="#6a6a6a" stroke-width="0.45"/>
<rect x="79.54" y="531.26" width="2.66" height="11.14" fill="#cccccc" stroke="#6a6a6a" stroke-width="0.45"/>
<rect x="82.2" y="533.65" width="2.66" height="8.75" fill="#cccccc" stroke="#6a6a6a" stroke-width="0.45"/>
<rect x="84.86" y="533.41" width="2.66" height="8.99" fill="#cccccc" stroke="#6a6a6a" stroke-width="0.45"/>
<rect x="87.52" y="534.85" width="2.66" height="7.55" fill="#cccccc" stroke="#6a6a6a" stroke-width="0.45"/>
<rect x="90.18" y="535.75" width="2.66" height="6.65" fill="#cccccc" stroke="#6a6a6a" stroke-width="0.45"/>
<rect x="92.84" y="537.43" width="2.66" height="4.97" fill="#cccccc" stroke="#6a6a6a" stroke-width="0.45"/>
<rect x="95.5" y="536.8" width="2.66" height="5.6" fill="#cccccc" stroke="#6a6a6a" stroke-width="0.45"/>
<rect x="98.16" y="538.01" width="2.66" height="4.39" fill="#cccccc" stroke="#6a6a6a" stroke-width="0.45"/>
<rect x="100.82" y="538.72" width="2.66" height="3.68" fill="#cccccc" stroke="#6a6a6a" stroke-width="0.45"/>
<rect x="103.48" y="538.51" width="2.66" height="3.89" fill="#cccccc" stroke="#6a6a6a" stroke-width="0.45"/>
<rect x="106.14" y="539.46" width="2.66" height="2.94" fill="#cccccc" stroke="#6a6a6a" stroke-width="0.45"/>
<rect x="108.8" y="540.1" width="2.66" height="2.3" fill="#cccccc" stroke="#6a6a6a" stroke-width="0.45"/>
<rect x="111.46" y="540.17" width="2.66" height="2.23" fill="#cccccc" stroke="#6a6a6a" stroke-width="0.45"/>
<rect x="114.12" y="540.73" width="2.66" height="1.67" fill="#cccccc" stroke="#6a6a6a" stroke-width="0.45"/>
<rect x="116.78" y="540.43" width="2.66" height="1.97" fill="#cccccc" stroke="#6a6a6a" stroke-width="0.45"/>
<rect x="119.44" y="540.83" width="2.66" height="1.57" fill="#cccccc" stroke="#6a6a6a" stroke-width="0.45"/>
<rect x="122.1" y="541.04" width="2.66" height="1.36" fill="#cccccc" stroke="#6a6a6a" stroke-width="0.45"/>
<rect x="124.76" y="541" width="2.66" height="1.4" fill="#cccccc" stroke="#6a6a6a" stroke-width="0.45"/>
<rect x="127.42" y="541.4" width="2.66" height="1" fill="#cccccc" stroke="#6a6a6a" stroke-width="0.45"/>
<rect x="130.08" y="541.32" width="2.66" height="1.08" fill="#cccccc" stroke="#6a6a6a" stroke-width="0.45"/>
<rect x="132.74" y="541.63" width="2.66" height="0.77" fill="#cccccc" stroke="#6a6a6a" stroke-width="0.45"/>
<rect x="135.4" y="541.61" width="2.66" height="0.79" fill="#cccccc" stroke="#6a6a6a" stroke-width="0.45"/>
<rect x="138.06" y="541.72" width="2.66" height="0.68" fill="#cccccc" stroke="#6a6a6a" stroke-width="0.45"/>
<rect x="140.72" y="541.65" width="2.66" height="0.75" fill="#cccccc" stroke="#6a6a6a" stroke-width="0.45"/>
<rect x="143.38" y="541.71" width="2.66" height="0.69" fill="#cccccc" stroke="#6a6a6a" stroke-width="0.45"/>
<rect x="146.04" y="541.87" width="2.66" height="0.53" fill="#cccccc" stroke="#6a6a6a" stroke-width="0.45"/>
<rect x="148.7" y="541.87" width="2.66" height="0.53" fill="#cccccc" stroke="#6a6a6a" stroke-width="0.45"/>
<rect x="151.36" y="541.96" width="2.66" height="0.44" fill="#cccccc" stroke="#6a6a6a" stroke-width="0.45"/>
<rect x="154.02" y="541.98" width="2.66" height="0.42" fill="#cccccc" stroke="#6a6a6a" stroke-width="0.45"/>
<rect x="156.68" y="542.05" width="2.66" height="0.35" fill="#cccccc" stroke="#6a6a6a" stroke-width="0.45"/>
<rect x="159.34" y="542.11" width="2.66" height="0.29" fill="#cccccc" stroke="#6a6a6a" stroke-width="0.45"/>
<rect x="162" y="542.14" width="2.66" height="0.26" fill="#cccccc" stroke="#6a6a6a" stroke-width="0.45"/>
<rect x="164.66" y="542.12" width="2.66" height="0.28" fill="#cccccc" stroke="#6a6a6a" stroke-width="0.45"/>
<rect x="167.32" y="542.11" width="2.66" height="0.29" fill="#cccccc" stroke="#6a6a6a" stroke-width="0.45"/>
<rect x="169.98" y="542.17" width="2.66" height="0.23" fill="#cccccc" stroke="#6a6a6a" stroke-width="0.45"/>
<rect x="172.64" y="542.2" width="2.66" height="0.2" fill="#cccccc" stroke="#6a6a6a" stroke-width="0.45"/>
<line x1="42.3" y1="497.7" x2="42.3" y2="542.4" stroke="#262626" stroke-width="1" />
<line x1="42.3" y1="542.4" x2="175.3" y2="542.4" stroke="#262626" stroke-width="1" />
<line x1="38.8" y1="542.4" x2="42.3" y2="542.4" stroke="#262626" stroke-width="1" />
<text x="35.8" y="545.8" font-size="9.6" text-anchor="end" fill="#262626" >0</text>
<line x1="38.8" y1="520.05" x2="42.3" y2="520.05" stroke="#262626" stroke-width="1" />
<text x="35.8" y="523.45" font-size="9.6" text-anchor="end" fill="#262626" >2.5</text>
<line x1="38.8" y1="497.7" x2="42.3" y2="497.7" stroke="#262626" stroke-width="1" />
<text x="35.8" y="501.1" font-size="9.6" text-anchor="end" fill="#262626" >5</text>
<line x1="42.3" y1="542.4" x2="42.3" y2="545.9" stroke="#262626" stroke-width="1" />
<line x1="68.9" y1="542.4" x2="68.9" y2="545.9" stroke="#262626" stroke-width="1" />
<line x1="95.5" y1="542.4" x2="95.5" y2="545.9" stroke="#262626" stroke-width="1" />
<line x1="122.1" y1="542.4" x2="122.1" y2="545.9" stroke="#262626" stroke-width="1" />
<line x1="148.7" y1="542.4" x2="148.7" y2="545.9" stroke="#262626" stroke-width="1" />
<line x1="175.3" y1="542.4" x2="175.3" y2="545.9" stroke="#262626" stroke-width="1" />
<polyline points="42.3,542.4 47.62,542.4 52.94,542.4 58.26,542.4 58.26,542.4 58.8,542.4 59.34,542.4 59.87,542.4 60.41,542.4 60.95,542.4 61.49,542.4 62.03,542.4 62.56,542.38 63.1,542.19 63.64,541.58 64.18,540.45 64.72,538.91 65.25,537.15 65.79,535.33 66.33,533.6 66.87,532.04 67.41,530.68 67.94,529.53 68.48,528.59 69.02,527.86 69.56,527.3 70.1,526.89 70.63,526.62 71.17,526.46 71.71,526.4 72.25,526.43 72.79,526.51 73.32,526.66 73.86,526.85 74.4,527.08 74.94,527.33 75.48,527.61 76.01,527.91 76.55,528.21 77.09,528.53 77.63,528.86 78.17,529.18 78.7,529.51 79.24,529.84 79.78,530.16 80.32,530.49 80.86,530.8 81.39,531.12 81.93,531.42 82.47,531.72 83.01,532.02 83.54,532.31 84.08,532.59 84.62,532.86 85.16,533.13 85.7,533.39 86.23,533.64 86.77,533.89 87.31,534.13 87.85,534.36 88.39,534.58 88.92,534.8 89.46,535.01 90,535.22 90.54,535.42 91.08,535.61 91.61,535.8 92.15,535.98 92.69,536.16 93.23,536.33 93.77,536.5 94.3,536.66 94.84,536.81 95.38,536.97 95.92,537.11 96.46,537.25 96.99,537.39 97.53,537.53 98.07,537.66 98.61,537.78 99.15,537.9 99.68,538.02 100.22,538.14 100.76,538.25 101.3,538.36 101.84,538.46 102.37,538.56 102.91,538.66 103.45,538.76 103.99,538.85 104.53,538.94 105.06,539.03 105.6,539.11 106.14,539.2 107.91,539.45 109.69,539.69 111.46,539.9 113.23,540.09 115.01,540.27 116.78,540.43 118.55,540.58 120.33,540.72 122.1,540.84 123.87,540.95 125.65,541.06 127.42,541.16 129.19,541.24 130.97,541.33 132.74,541.4 134.51,541.47 136.29,541.53 138.06,541.59 139.83,541.65 141.61,541.7 143.38,541.75 145.15,541.79 146.93,541.83 148.7,541.87 150.47,541.9 152.25,541.93 154.02,541.96 155.79,541.99 157.57,542.02 159.34,542.04 161.11,542.07 162.89,542.09 164.66,542.11 166.43,542.12 168.21,542.14 169.98,542.16 171.75,542.17 173.53,542.19 175.3,542.2" fill="none" stroke="#000" stroke-width="2.2" stroke-linejoin="round" />
<rect x="231.08" y="537.32" width="2.66" height="5.08" fill="#cccccc" stroke="#6a6a6a" stroke-width="0.45"/>
<rect x="233.74" y="529.14" width="2.66" height="13.26" fill="#cccccc" stroke="#6a6a6a" stroke-width="0.45"/>
<rect x="236.4" y="528.36" width="2.66" height="14.04" fill="#cccccc" stroke="#6a6a6a" stroke-width="0.45"/>
<rect x="239.06" y="524.26" width="2.66" height="18.14" fill="#cccccc" stroke="#6a6a6a" stroke-width="0.45"/>
<rect x="241.72" y="529.08" width="2.66" height="13.32" fill="#cccccc" stroke="#6a6a6a" stroke-width="0.45"/>
<rect x="244.38" y="530" width="2.66" height="12.4" fill="#cccccc" stroke="#6a6a6a" stroke-width="0.45"/>
<rect x="247.04" y="531.24" width="2.66" height="11.16" fill="#cccccc" stroke="#6a6a6a" stroke-width="0.45"/>
<rect x="249.7" y="533.01" width="2.66" height="9.39" fill="#cccccc" stroke="#6a6a6a" stroke-width="0.45"/>
<rect x="252.36" y="533.1" width="2.66" height="9.3" fill="#cccccc" stroke="#6a6a6a" stroke-width="0.45"/>
<rect x="255.02" y="534.99" width="2.66" height="7.41" fill="#cccccc" stroke="#6a6a6a" stroke-width="0.45"/>
<rect x="257.68" y="535.88" width="2.66" height="6.52" fill="#cccccc" stroke="#6a6a6a" stroke-width="0.45"/>
<rect x="260.34" y="536.8" width="2.66" height="5.6" fill="#cccccc" stroke="#6a6a6a" stroke-width="0.45"/>
<rect x="263" y="536.9" width="2.66" height="5.5" fill="#cccccc" stroke="#6a6a6a" stroke-width="0.45"/>
<rect x="265.66" y="538.28" width="2.66" height="4.12" fill="#cccccc" stroke="#6a6a6a" stroke-width="0.45"/>
<rect x="268.32" y="538.66" width="2.66" height="3.74" fill="#cccccc" stroke="#6a6a6a" stroke-width="0.45"/>
<rect x="270.98" y="538.97" width="2.66" height="3.43" fill="#cccccc" stroke="#6a6a6a" stroke-width="0.45"/>
<rect x="273.64" y="539.87" width="2.66" height="2.53" fill="#cccccc" stroke="#6a6a6a" stroke-width="0.45"/>
<rect x="276.3" y="539.93" width="2.66" height="2.47" fill="#cccccc" stroke="#6a6a6a" stroke-width="0.45"/>
<rect x="278.96" y="540.04" width="2.66" height="2.36" fill="#cccccc" stroke="#6a6a6a" stroke-width="0.45"/>
<rect x="281.62" y="540.21" width="2.66" height="2.19" fill="#cccccc" stroke="#6a6a6a" stroke-width="0.45"/>
<rect x="284.28" y="540.6" width="2.66" height="1.8" fill="#cccccc" stroke="#6a6a6a" stroke-width="0.45"/>
<rect x="286.94" y="540.91" width="2.66" height="1.49" fill="#cccccc" stroke="#6a6a6a" stroke-width="0.45"/>
<rect x="289.6" y="540.84" width="2.66" height="1.56" fill="#cccccc" stroke="#6a6a6a" stroke-width="0.45"/>
<rect x="292.26" y="541.18" width="2.66" height="1.22" fill="#cccccc" stroke="#6a6a6a" stroke-width="0.45"/>
<rect x="294.92" y="541.29" width="2.66" height="1.11" fill="#cccccc" stroke="#6a6a6a" stroke-width="0.45"/>
<rect x="297.58" y="541.4" width="2.66" height="1" fill="#cccccc" stroke="#6a6a6a" stroke-width="0.45"/>
<rect x="300.24" y="541.52" width="2.66" height="0.88" fill="#cccccc" stroke="#6a6a6a" stroke-width="0.45"/>
<rect x="302.9" y="541.64" width="2.66" height="0.76" fill="#cccccc" stroke="#6a6a6a" stroke-width="0.45"/>
<rect x="305.56" y="541.67" width="2.66" height="0.73" fill="#cccccc" stroke="#6a6a6a" stroke-width="0.45"/>
<rect x="308.22" y="541.83" width="2.66" height="0.57" fill="#cccccc" stroke="#6a6a6a" stroke-width="0.45"/>
<rect x="310.88" y="541.85" width="2.66" height="0.55" fill="#cccccc" stroke="#6a6a6a" stroke-width="0.45"/>
<rect x="313.54" y="541.91" width="2.66" height="0.49" fill="#cccccc" stroke="#6a6a6a" stroke-width="0.45"/>
<rect x="316.2" y="541.97" width="2.66" height="0.43" fill="#cccccc" stroke="#6a6a6a" stroke-width="0.45"/>
<rect x="318.86" y="541.98" width="2.66" height="0.42" fill="#cccccc" stroke="#6a6a6a" stroke-width="0.45"/>
<rect x="321.52" y="542.02" width="2.66" height="0.38" fill="#cccccc" stroke="#6a6a6a" stroke-width="0.45"/>
<rect x="324.18" y="542.06" width="2.66" height="0.34" fill="#cccccc" stroke="#6a6a6a" stroke-width="0.45"/>
<rect x="326.84" y="542.1" width="2.66" height="0.3" fill="#cccccc" stroke="#6a6a6a" stroke-width="0.45"/>
<rect x="329.5" y="542.11" width="2.66" height="0.29" fill="#cccccc" stroke="#6a6a6a" stroke-width="0.45"/>
<rect x="332.16" y="542.12" width="2.66" height="0.28" fill="#cccccc" stroke="#6a6a6a" stroke-width="0.45"/>
<rect x="334.82" y="542.16" width="2.66" height="0.24" fill="#cccccc" stroke="#6a6a6a" stroke-width="0.45"/>
<rect x="337.48" y="542.25" width="2.66" height="0.15" fill="#cccccc" stroke="#6a6a6a" stroke-width="0.45"/>
<rect x="340.14" y="542.2" width="2.66" height="0.2" fill="#cccccc" stroke="#6a6a6a" stroke-width="0.45"/>
<line x1="209.8" y1="497.7" x2="209.8" y2="542.4" stroke="#262626" stroke-width="1" />
<line x1="209.8" y1="542.4" x2="342.8" y2="542.4" stroke="#262626" stroke-width="1" />
<line x1="206.3" y1="542.4" x2="209.8" y2="542.4" stroke="#262626" stroke-width="1" />
<text x="203.3" y="545.8" font-size="9.6" text-anchor="end" fill="#262626" >0</text>
<line x1="206.3" y1="520.05" x2="209.8" y2="520.05" stroke="#262626" stroke-width="1" />
<text x="203.3" y="523.45" font-size="9.6" text-anchor="end" fill="#262626" >2.5</text>
<line x1="206.3" y1="497.7" x2="209.8" y2="497.7" stroke="#262626" stroke-width="1" />
<text x="203.3" y="501.1" font-size="9.6" text-anchor="end" fill="#262626" >5</text>
<line x1="209.8" y1="542.4" x2="209.8" y2="545.9" stroke="#262626" stroke-width="1" />
<line x1="236.4" y1="542.4" x2="236.4" y2="545.9" stroke="#262626" stroke-width="1" />
<line x1="263" y1="542.4" x2="263" y2="545.9" stroke="#262626" stroke-width="1" />
<line x1="289.6" y1="542.4" x2="289.6" y2="545.9" stroke="#262626" stroke-width="1" />
<line x1="316.2" y1="542.4" x2="316.2" y2="545.9" stroke="#262626" stroke-width="1" />
<line x1="342.8" y1="542.4" x2="342.8" y2="545.9" stroke="#262626" stroke-width="1" />
<polyline points="209.8,542.4 215.12,542.4 220.44,542.4 225.76,542.4 225.76,542.4 226.3,542.4 226.84,542.4 227.37,542.4 227.91,542.4 228.45,542.4 228.99,542.4 229.53,542.4 230.06,542.3 230.6,541.89 231.14,540.97 231.68,539.55 232.22,537.78 232.75,535.85 233.29,533.93 233.83,532.13 234.37,530.52 234.91,529.12 235.44,527.94 235.98,526.99 236.52,526.23 237.06,525.66 237.6,525.24 238.13,524.97 238.67,524.81 239.21,524.76 239.75,524.79 240.29,524.89 240.82,525.06 241.36,525.26 241.9,525.51 242.44,525.79 242.98,526.1 243.51,526.42 244.05,526.76 244.59,527.11 245.13,527.46 245.67,527.82 246.2,528.18 246.74,528.54 247.28,528.9 247.82,529.26 248.36,529.61 248.89,529.95 249.43,530.29 249.97,530.63 250.51,530.95 251.04,531.27 251.58,531.58 252.12,531.89 252.66,532.18 253.2,532.47 253.73,532.75 254.27,533.03 254.81,533.29 255.35,533.55 255.89,533.8 256.42,534.04 256.96,534.28 257.5,534.51 258.04,534.73 258.58,534.95 259.11,535.16 259.65,535.36 260.19,535.56 260.73,535.75 261.27,535.93 261.8,536.11 262.34,536.29 262.88,536.46 263.42,536.62 263.96,536.78 264.49,536.93 265.03,537.08 265.57,537.23 266.11,537.37 266.65,537.5 267.18,537.63 267.72,537.76 268.26,537.89 268.8,538.01 269.34,538.12 269.87,538.24 270.41,538.35 270.95,538.45 271.49,538.56 272.03,538.66 272.56,538.75 273.1,538.85 273.64,538.94 275.41,539.23 277.19,539.48 278.96,539.72 280.73,539.93 282.51,540.13 284.28,540.31 286.05,540.47 287.83,540.62 289.6,540.75 291.37,540.88 293.15,540.99 294.92,541.1 296.69,541.19 298.47,541.28 300.24,541.36 302.01,541.44 303.79,541.51 305.56,541.57 307.33,541.63 309.11,541.68 310.88,541.73 312.65,541.78 314.43,541.82 316.2,541.86 317.97,541.9 319.75,541.93 321.52,541.96 323.29,541.99 325.07,542.02 326.84,542.05 328.61,542.07 330.39,542.09 332.16,542.11 333.93,542.13 335.71,542.15 337.48,542.16 339.25,542.18 341.03,542.19 342.8,542.21" fill="none" stroke="#000" stroke-width="2.2" stroke-linejoin="round" />
<rect x="396.12" y="541.51" width="2.66" height="0.89" fill="#cccccc" stroke="#6a6a6a" stroke-width="0.45"/>
<rect x="398.78" y="528.54" width="2.66" height="13.86" fill="#cccccc" stroke="#6a6a6a" stroke-width="0.45"/>
<rect x="401.44" y="515.94" width="2.66" height="26.46" fill="#cccccc" stroke="#6a6a6a" stroke-width="0.45"/>
<rect x="404.1" y="514.51" width="2.66" height="27.89" fill="#cccccc" stroke="#6a6a6a" stroke-width="0.45"/>
<rect x="406.76" y="520.32" width="2.66" height="22.08" fill="#cccccc" stroke="#6a6a6a" stroke-width="0.45"/>
<rect x="409.42" y="524.79" width="2.66" height="17.61" fill="#cccccc" stroke="#6a6a6a" stroke-width="0.45"/>
<rect x="412.08" y="528.54" width="2.66" height="13.86" fill="#cccccc" stroke="#6a6a6a" stroke-width="0.45"/>
<rect x="414.74" y="531.67" width="2.66" height="10.73" fill="#cccccc" stroke="#6a6a6a" stroke-width="0.45"/>
<rect x="417.4" y="535.43" width="2.66" height="6.97" fill="#cccccc" stroke="#6a6a6a" stroke-width="0.45"/>
<rect x="420.06" y="537.39" width="2.66" height="5.01" fill="#cccccc" stroke="#6a6a6a" stroke-width="0.45"/>
<rect x="422.72" y="538.82" width="2.66" height="3.58" fill="#cccccc" stroke="#6a6a6a" stroke-width="0.45"/>
<rect x="425.38" y="539.72" width="2.66" height="2.68" fill="#cccccc" stroke="#6a6a6a" stroke-width="0.45"/>
<rect x="428.04" y="540.16" width="2.66" height="2.24" fill="#cccccc" stroke="#6a6a6a" stroke-width="0.45"/>
<rect x="430.7" y="540.61" width="2.66" height="1.79" fill="#cccccc" stroke="#6a6a6a" stroke-width="0.45"/>
<rect x="433.36" y="540.97" width="2.66" height="1.43" fill="#cccccc" stroke="#6a6a6a" stroke-width="0.45"/>
<rect x="436.02" y="541.24" width="2.66" height="1.16" fill="#cccccc" stroke="#6a6a6a" stroke-width="0.45"/>
<rect x="438.68" y="541.51" width="2.66" height="0.89" fill="#cccccc" stroke="#6a6a6a" stroke-width="0.45"/>
<rect x="441.34" y="541.68" width="2.66" height="0.72" fill="#cccccc" stroke="#6a6a6a" stroke-width="0.45"/>
<rect x="444" y="541.86" width="2.66" height="0.54" fill="#cccccc" stroke="#6a6a6a" stroke-width="0.45"/>
<rect x="446.66" y="541.95" width="2.66" height="0.45" fill="#cccccc" stroke="#6a6a6a" stroke-width="0.45"/>
<rect x="449.32" y="542.04" width="2.66" height="0.36" fill="#cccccc" stroke="#6a6a6a" stroke-width="0.45"/>
<rect x="451.98" y="542.13" width="2.66" height="0.27" fill="#cccccc" stroke="#6a6a6a" stroke-width="0.45"/>
<rect x="454.64" y="542.22" width="2.66" height="0.18" fill="#cccccc" stroke="#6a6a6a" stroke-width="0.45"/>
<rect x="457.3" y="542.22" width="2.66" height="0.18" fill="#cccccc" stroke="#6a6a6a" stroke-width="0.45"/>
<rect x="459.96" y="542.22" width="2.66" height="0.18" fill="#cccccc" stroke="#6a6a6a" stroke-width="0.45"/>
<rect x="462.62" y="542.22" width="2.66" height="0.18" fill="#cccccc" stroke="#6a6a6a" stroke-width="0.45"/>
<rect x="465.28" y="542.22" width="2.66" height="0.18" fill="#cccccc" stroke="#6a6a6a" stroke-width="0.45"/>
<rect x="467.94" y="542.22" width="2.66" height="0.18" fill="#cccccc" stroke="#6a6a6a" stroke-width="0.45"/>
<rect x="470.6" y="542.22" width="2.66" height="0.18" fill="#cccccc" stroke="#6a6a6a" stroke-width="0.45"/>
<rect x="473.26" y="542.22" width="2.66" height="0.18" fill="#cccccc" stroke="#6a6a6a" stroke-width="0.45"/>
<rect x="475.92" y="542.22" width="2.66" height="0.18" fill="#cccccc" stroke="#6a6a6a" stroke-width="0.45"/>
<rect x="478.58" y="542.22" width="2.66" height="0.18" fill="#cccccc" stroke="#6a6a6a" stroke-width="0.45"/>
<rect x="481.24" y="542.22" width="2.66" height="0.18" fill="#cccccc" stroke="#6a6a6a" stroke-width="0.45"/>
<rect x="483.9" y="542.22" width="2.66" height="0.18" fill="#cccccc" stroke="#6a6a6a" stroke-width="0.45"/>
<rect x="486.56" y="542.22" width="2.66" height="0.18" fill="#cccccc" stroke="#6a6a6a" stroke-width="0.45"/>
<rect x="489.22" y="542.22" width="2.66" height="0.18" fill="#cccccc" stroke="#6a6a6a" stroke-width="0.45"/>
<rect x="491.88" y="542.22" width="2.66" height="0.18" fill="#cccccc" stroke="#6a6a6a" stroke-width="0.45"/>
<rect x="494.54" y="542.22" width="2.66" height="0.18" fill="#cccccc" stroke="#6a6a6a" stroke-width="0.45"/>
<rect x="497.2" y="542.22" width="2.66" height="0.18" fill="#cccccc" stroke="#6a6a6a" stroke-width="0.45"/>
<rect x="499.86" y="542.22" width="2.66" height="0.18" fill="#cccccc" stroke="#6a6a6a" stroke-width="0.45"/>
<rect x="502.52" y="542.22" width="2.66" height="0.18" fill="#cccccc" stroke="#6a6a6a" stroke-width="0.45"/>
<rect x="505.18" y="542.22" width="2.66" height="0.18" fill="#cccccc" stroke="#6a6a6a" stroke-width="0.45"/>
<rect x="507.84" y="542.22" width="2.66" height="0.18" fill="#cccccc" stroke="#6a6a6a" stroke-width="0.45"/>
<line x1="377.5" y1="497.7" x2="377.5" y2="542.4" stroke="#262626" stroke-width="1" />
<line x1="377.5" y1="542.4" x2="510.5" y2="542.4" stroke="#262626" stroke-width="1" />
<line x1="374" y1="542.4" x2="377.5" y2="542.4" stroke="#262626" stroke-width="1" />
<text x="371" y="545.8" font-size="9.6" text-anchor="end" fill="#262626" >0</text>
<line x1="374" y1="520.05" x2="377.5" y2="520.05" stroke="#262626" stroke-width="1" />
<text x="371" y="523.45" font-size="9.6" text-anchor="end" fill="#262626" >2.5</text>
<line x1="374" y1="497.7" x2="377.5" y2="497.7" stroke="#262626" stroke-width="1" />
<text x="371" y="501.1" font-size="9.6" text-anchor="end" fill="#262626" >5</text>
<line x1="377.5" y1="542.4" x2="377.5" y2="545.9" stroke="#262626" stroke-width="1" />
<line x1="404.1" y1="542.4" x2="404.1" y2="545.9" stroke="#262626" stroke-width="1" />
<line x1="430.7" y1="542.4" x2="430.7" y2="545.9" stroke="#262626" stroke-width="1" />
<line x1="457.3" y1="542.4" x2="457.3" y2="545.9" stroke="#262626" stroke-width="1" />
<line x1="483.9" y1="542.4" x2="483.9" y2="545.9" stroke="#262626" stroke-width="1" />
<line x1="510.5" y1="542.4" x2="510.5" y2="545.9" stroke="#262626" stroke-width="1" />
<polyline points="377.5,542.4 382.82,542.4 388.14,542.4 393.46,542.4 393.46,542.4 394,542.4 394.54,542.4 395.07,542.4 395.61,542.4 396.15,542.4 396.69,542.38 397.23,542.25 397.76,541.85 398.3,541.06 398.84,539.83 399.38,538.21 399.92,536.32 400.45,534.28 400.99,532.22 401.53,530.24 402.07,528.41 402.61,526.78 403.14,525.38 403.68,524.21 404.22,523.28 404.76,522.56 405.3,522.05 405.83,521.73 406.37,521.56 406.91,521.55 407.45,521.66 407.99,521.87 408.52,522.17 409.06,522.55 409.6,522.99 410.14,523.48 410.68,524 411.21,524.55 411.75,525.12 412.29,525.7 412.83,526.3 413.37,526.89 413.9,527.48 414.44,528.07 414.98,528.65 415.52,529.21 416.06,529.77 416.59,530.31 417.13,530.84 417.67,531.35 418.21,531.84 418.74,532.32 419.28,532.78 419.82,533.22 420.36,533.65 420.9,534.06 421.43,534.45 421.97,534.83 422.51,535.19 423.05,535.53 423.59,535.86 424.12,536.18 424.66,536.48 425.2,536.77 425.74,537.04 426.28,537.3 426.81,537.55 427.35,537.79 427.89,538.02 428.43,538.23 428.97,538.44 429.5,538.63 430.04,538.82 430.58,539 431.12,539.17 431.66,539.33 432.19,539.48 432.73,539.62 433.27,539.76 433.81,539.89 434.35,540.02 434.88,540.13 435.42,540.25 435.96,540.35 436.5,540.45 437.04,540.55 437.57,540.64 438.11,540.73 438.65,540.81 439.19,540.89 439.73,540.97 440.26,541.04 440.8,541.1 441.34,541.17 443.11,541.36 444.89,541.52 446.66,541.65 448.43,541.77 450.21,541.86 451.98,541.94 453.75,542.01 455.53,542.07 457.3,542.12 459.07,542.16 460.85,542.2 462.62,542.23 464.39,542.25 466.17,542.28 467.94,542.29 469.71,542.31 471.49,542.32 473.26,542.34 475.03,542.34 476.81,542.35 478.58,542.36 480.35,542.37 482.13,542.37 483.9,542.37 485.67,542.38 487.45,542.38 489.22,542.38 490.99,542.39 492.77,542.39 494.54,542.39 496.31,542.39 498.09,542.39 499.86,542.39 501.63,542.39 503.41,542.4 505.18,542.4 506.95,542.4 508.73,542.4 510.5,542.4" fill="none" stroke="#000" stroke-width="2.2" stroke-linejoin="round" />
<rect x="564.12" y="538.65" width="2.66" height="3.75" fill="#cccccc" stroke="#6a6a6a" stroke-width="0.45"/>
<rect x="566.78" y="532.39" width="2.66" height="10.01" fill="#cccccc" stroke="#6a6a6a" stroke-width="0.45"/>
<rect x="569.44" y="528.9" width="2.66" height="13.5" fill="#cccccc" stroke="#6a6a6a" stroke-width="0.45"/>
<rect x="572.1" y="520.05" width="2.66" height="22.35" fill="#cccccc" stroke="#6a6a6a" stroke-width="0.45"/>
<rect x="574.76" y="524.07" width="2.66" height="18.33" fill="#cccccc" stroke="#6a6a6a" stroke-width="0.45"/>
<rect x="577.42" y="526.04" width="2.66" height="16.36" fill="#cccccc" stroke="#6a6a6a" stroke-width="0.45"/>
<rect x="580.08" y="529.71" width="2.66" height="12.69" fill="#cccccc" stroke="#6a6a6a" stroke-width="0.45"/>
<rect x="582.74" y="528.1" width="2.66" height="14.3" fill="#cccccc" stroke="#6a6a6a" stroke-width="0.45"/>
<rect x="585.4" y="528.45" width="2.66" height="13.95" fill="#cccccc" stroke="#6a6a6a" stroke-width="0.45"/>
<rect x="588.06" y="533.73" width="2.66" height="8.67" fill="#cccccc" stroke="#6a6a6a" stroke-width="0.45"/>
<rect x="590.72" y="536.05" width="2.66" height="6.35" fill="#cccccc" stroke="#6a6a6a" stroke-width="0.45"/>
<rect x="593.38" y="538.02" width="2.66" height="4.38" fill="#cccccc" stroke="#6a6a6a" stroke-width="0.45"/>
<rect x="596.04" y="539.18" width="2.66" height="3.22" fill="#cccccc" stroke="#6a6a6a" stroke-width="0.45"/>
<rect x="598.7" y="538.91" width="2.66" height="3.49" fill="#cccccc" stroke="#6a6a6a" stroke-width="0.45"/>
<rect x="601.36" y="537.66" width="2.66" height="4.74" fill="#cccccc" stroke="#6a6a6a" stroke-width="0.45"/>
<rect x="604.02" y="538.56" width="2.66" height="3.84" fill="#cccccc" stroke="#6a6a6a" stroke-width="0.45"/>
<rect x="606.68" y="539.81" width="2.66" height="2.59" fill="#cccccc" stroke="#6a6a6a" stroke-width="0.45"/>
<rect x="609.34" y="540.61" width="2.66" height="1.79" fill="#cccccc" stroke="#6a6a6a" stroke-width="0.45"/>
<rect x="612" y="541.06" width="2.66" height="1.34" fill="#cccccc" stroke="#6a6a6a" stroke-width="0.45"/>
<rect x="614.66" y="541.24" width="2.66" height="1.16" fill="#cccccc" stroke="#6a6a6a" stroke-width="0.45"/>
<rect x="617.32" y="541.51" width="2.66" height="0.89" fill="#cccccc" stroke="#6a6a6a" stroke-width="0.45"/>
<rect x="619.98" y="541.68" width="2.66" height="0.72" fill="#cccccc" stroke="#6a6a6a" stroke-width="0.45"/>
<rect x="622.64" y="541.86" width="2.66" height="0.54" fill="#cccccc" stroke="#6a6a6a" stroke-width="0.45"/>
<rect x="625.3" y="541.95" width="2.66" height="0.45" fill="#cccccc" stroke="#6a6a6a" stroke-width="0.45"/>
<rect x="627.96" y="542.22" width="2.66" height="0.18" fill="#cccccc" stroke="#6a6a6a" stroke-width="0.45"/>
<rect x="630.62" y="542.22" width="2.66" height="0.18" fill="#cccccc" stroke="#6a6a6a" stroke-width="0.45"/>
<rect x="633.28" y="542.22" width="2.66" height="0.18" fill="#cccccc" stroke="#6a6a6a" stroke-width="0.45"/>
<rect x="635.94" y="542.22" width="2.66" height="0.18" fill="#cccccc" stroke="#6a6a6a" stroke-width="0.45"/>
<rect x="638.6" y="542.22" width="2.66" height="0.18" fill="#cccccc" stroke="#6a6a6a" stroke-width="0.45"/>
<rect x="641.26" y="542.22" width="2.66" height="0.18" fill="#cccccc" stroke="#6a6a6a" stroke-width="0.45"/>
<rect x="643.92" y="542.22" width="2.66" height="0.18" fill="#cccccc" stroke="#6a6a6a" stroke-width="0.45"/>
<rect x="646.58" y="542.22" width="2.66" height="0.18" fill="#cccccc" stroke="#6a6a6a" stroke-width="0.45"/>
<rect x="649.24" y="542.22" width="2.66" height="0.18" fill="#cccccc" stroke="#6a6a6a" stroke-width="0.45"/>
<rect x="651.9" y="542.22" width="2.66" height="0.18" fill="#cccccc" stroke="#6a6a6a" stroke-width="0.45"/>
<rect x="654.56" y="542.22" width="2.66" height="0.18" fill="#cccccc" stroke="#6a6a6a" stroke-width="0.45"/>
<rect x="657.22" y="542.22" width="2.66" height="0.18" fill="#cccccc" stroke="#6a6a6a" stroke-width="0.45"/>
<rect x="659.88" y="542.22" width="2.66" height="0.18" fill="#cccccc" stroke="#6a6a6a" stroke-width="0.45"/>
<rect x="662.54" y="542.22" width="2.66" height="0.18" fill="#cccccc" stroke="#6a6a6a" stroke-width="0.45"/>
<rect x="665.2" y="542.22" width="2.66" height="0.18" fill="#cccccc" stroke="#6a6a6a" stroke-width="0.45"/>
<rect x="667.86" y="542.22" width="2.66" height="0.18" fill="#cccccc" stroke="#6a6a6a" stroke-width="0.45"/>
<rect x="670.52" y="542.22" width="2.66" height="0.18" fill="#cccccc" stroke="#6a6a6a" stroke-width="0.45"/>
<rect x="673.18" y="542.22" width="2.66" height="0.18" fill="#cccccc" stroke="#6a6a6a" stroke-width="0.45"/>
<rect x="675.84" y="542.22" width="2.66" height="0.18" fill="#cccccc" stroke="#6a6a6a" stroke-width="0.45"/>
<line x1="545.5" y1="497.7" x2="545.5" y2="542.4" stroke="#262626" stroke-width="1" />
<line x1="545.5" y1="542.4" x2="678.5" y2="542.4" stroke="#262626" stroke-width="1" />
<line x1="542" y1="542.4" x2="545.5" y2="542.4" stroke="#262626" stroke-width="1" />
<text x="539" y="545.8" font-size="9.6" text-anchor="end" fill="#262626" >0</text>
<line x1="542" y1="520.05" x2="545.5" y2="520.05" stroke="#262626" stroke-width="1" />
<text x="539" y="523.45" font-size="9.6" text-anchor="end" fill="#262626" >2.5</text>
<line x1="542" y1="497.7" x2="545.5" y2="497.7" stroke="#262626" stroke-width="1" />
<text x="539" y="501.1" font-size="9.6" text-anchor="end" fill="#262626" >5</text>
<line x1="545.5" y1="542.4" x2="545.5" y2="545.9" stroke="#262626" stroke-width="1" />
<line x1="572.1" y1="542.4" x2="572.1" y2="545.9" stroke="#262626" stroke-width="1" />
<line x1="598.7" y1="542.4" x2="598.7" y2="545.9" stroke="#262626" stroke-width="1" />
<line x1="625.3" y1="542.4" x2="625.3" y2="545.9" stroke="#262626" stroke-width="1" />
<line x1="651.9" y1="542.4" x2="651.9" y2="545.9" stroke="#262626" stroke-width="1" />
<line x1="678.5" y1="542.4" x2="678.5" y2="545.9" stroke="#262626" stroke-width="1" />
<polyline points="545.5,542.4 550.82,542.4 556.14,542.4 561.46,542.4 561.46,542.4 562,542.4 562.54,542.4 563.07,542.4 563.61,542.36 564.15,542.19 564.69,541.73 565.23,540.78 565.76,539.22 566.3,537.03 566.84,534.25 567.38,531.03 567.92,527.51 568.45,523.86 568.99,520.23 569.53,516.75 570.07,513.51 570.61,510.57 571.14,508 571.68,505.8 572.22,503.98 572.76,502.53 573.3,501.44 573.83,500.69 574.37,500.24 574.91,500.07 575.45,500.14 575.99,500.43 576.52,500.91 577.06,501.56 577.6,502.33 578.14,503.22 578.68,504.21 579.21,505.26 579.75,506.37 580.29,507.53 580.83,508.71 581.37,509.91 581.9,511.12 582.44,512.33 582.98,513.53 583.52,514.71 584.06,515.88 584.59,517.03 585.13,518.14 585.67,519.23 586.21,520.29 586.74,521.31 587.28,522.31 587.82,523.26 588.36,524.18 588.9,525.07 589.43,525.92 589.97,526.74 590.51,527.52 591.05,528.27 591.59,528.99 592.12,529.67 592.66,530.32 593.2,530.95 593.74,531.54 594.28,532.11 594.81,532.65 595.35,533.16 595.89,533.64 596.43,534.11 596.97,534.55 597.5,534.97 598.04,535.36 598.58,535.74 599.12,536.1 599.66,536.43 600.19,536.76 600.73,537.06 601.27,537.35 601.81,537.62 602.35,537.88 602.88,538.13 603.42,538.36 603.96,538.58 604.5,538.79 605.04,538.98 605.57,539.17 606.11,539.35 606.65,539.51 607.19,539.67 607.73,539.82 608.26,539.96 608.8,540.09 609.34,540.22 611.11,540.59 612.89,540.9 614.66,541.15 616.43,541.36 618.21,541.54 619.98,541.69 621.75,541.81 623.53,541.91 625.3,541.99 627.07,542.06 628.85,542.12 630.62,542.17 632.39,542.2 634.17,542.24 635.94,542.26 637.71,542.29 639.49,542.31 641.26,542.32 643.03,542.34 644.81,542.35 646.58,542.36 648.35,542.36 650.13,542.37 651.9,542.37 653.67,542.38 655.45,542.38 657.22,542.38 658.99,542.39 660.77,542.39 662.54,542.39 664.31,542.39 666.09,542.39 667.86,542.39 669.63,542.4 671.41,542.4 673.18,542.4 674.95,542.4 676.73,542.4 678.5,542.4" fill="none" stroke="#000" stroke-width="2.2" stroke-linejoin="round" />
<text x="32" y="489.4" font-size="12" font-weight="bold" text-anchor="start" fill="#000" >Case (i)</text>
<rect x="63.58" y="612.84" width="2.66" height="4.36" fill="#cccccc" stroke="#6a6a6a" stroke-width="0.45"/>
<rect x="66.24" y="604.77" width="2.66" height="12.43" fill="#cccccc" stroke="#6a6a6a" stroke-width="0.45"/>
<rect x="68.9" y="602.69" width="2.66" height="14.51" fill="#cccccc" stroke="#6a6a6a" stroke-width="0.45"/>
<rect x="71.56" y="601.87" width="2.66" height="15.33" fill="#cccccc" stroke="#6a6a6a" stroke-width="0.45"/>
<rect x="74.22" y="602.16" width="2.66" height="15.04" fill="#cccccc" stroke="#6a6a6a" stroke-width="0.45"/>
<rect x="76.88" y="604.54" width="2.66" height="12.66" fill="#cccccc" stroke="#6a6a6a" stroke-width="0.45"/>
<rect x="79.54" y="606.06" width="2.66" height="11.14" fill="#cccccc" stroke="#6a6a6a" stroke-width="0.45"/>
<rect x="82.2" y="608.45" width="2.66" height="8.75" fill="#cccccc" stroke="#6a6a6a" stroke-width="0.45"/>
<rect x="84.86" y="608.21" width="2.66" height="8.99" fill="#cccccc" stroke="#6a6a6a" stroke-width="0.45"/>
<rect x="87.52" y="609.65" width="2.66" height="7.55" fill="#cccccc" stroke="#6a6a6a" stroke-width="0.45"/>
<rect x="90.18" y="610.55" width="2.66" height="6.65" fill="#cccccc" stroke="#6a6a6a" stroke-width="0.45"/>
<rect x="92.84" y="612.23" width="2.66" height="4.97" fill="#cccccc" stroke="#6a6a6a" stroke-width="0.45"/>
<rect x="95.5" y="611.6" width="2.66" height="5.6" fill="#cccccc" stroke="#6a6a6a" stroke-width="0.45"/>
<rect x="98.16" y="612.81" width="2.66" height="4.39" fill="#cccccc" stroke="#6a6a6a" stroke-width="0.45"/>
<rect x="100.82" y="613.52" width="2.66" height="3.68" fill="#cccccc" stroke="#6a6a6a" stroke-width="0.45"/>
<rect x="103.48" y="613.31" width="2.66" height="3.89" fill="#cccccc" stroke="#6a6a6a" stroke-width="0.45"/>
<rect x="106.14" y="614.26" width="2.66" height="2.94" fill="#cccccc" stroke="#6a6a6a" stroke-width="0.45"/>
<rect x="108.8" y="614.9" width="2.66" height="2.3" fill="#cccccc" stroke="#6a6a6a" stroke-width="0.45"/>
<rect x="111.46" y="614.97" width="2.66" height="2.23" fill="#cccccc" stroke="#6a6a6a" stroke-width="0.45"/>
<rect x="114.12" y="615.53" width="2.66" height="1.67" fill="#cccccc" stroke="#6a6a6a" stroke-width="0.45"/>
<rect x="116.78" y="615.23" width="2.66" height="1.97" fill="#cccccc" stroke="#6a6a6a" stroke-width="0.45"/>
<rect x="119.44" y="615.63" width="2.66" height="1.57" fill="#cccccc" stroke="#6a6a6a" stroke-width="0.45"/>
<rect x="122.1" y="615.84" width="2.66" height="1.36" fill="#cccccc" stroke="#6a6a6a" stroke-width="0.45"/>
<rect x="124.76" y="615.8" width="2.66" height="1.4" fill="#cccccc" stroke="#6a6a6a" stroke-width="0.45"/>
<rect x="127.42" y="616.2" width="2.66" height="1" fill="#cccccc" stroke="#6a6a6a" stroke-width="0.45"/>
<rect x="130.08" y="616.12" width="2.66" height="1.08" fill="#cccccc" stroke="#6a6a6a" stroke-width="0.45"/>
<rect x="132.74" y="616.43" width="2.66" height="0.77" fill="#cccccc" stroke="#6a6a6a" stroke-width="0.45"/>
<rect x="135.4" y="616.41" width="2.66" height="0.79" fill="#cccccc" stroke="#6a6a6a" stroke-width="0.45"/>
<rect x="138.06" y="616.52" width="2.66" height="0.68" fill="#cccccc" stroke="#6a6a6a" stroke-width="0.45"/>
<rect x="140.72" y="616.45" width="2.66" height="0.75" fill="#cccccc" stroke="#6a6a6a" stroke-width="0.45"/>
<rect x="143.38" y="616.51" width="2.66" height="0.69" fill="#cccccc" stroke="#6a6a6a" stroke-width="0.45"/>
<rect x="146.04" y="616.67" width="2.66" height="0.53" fill="#cccccc" stroke="#6a6a6a" stroke-width="0.45"/>
<rect x="148.7" y="616.67" width="2.66" height="0.53" fill="#cccccc" stroke="#6a6a6a" stroke-width="0.45"/>
<rect x="151.36" y="616.76" width="2.66" height="0.44" fill="#cccccc" stroke="#6a6a6a" stroke-width="0.45"/>
<rect x="154.02" y="616.78" width="2.66" height="0.42" fill="#cccccc" stroke="#6a6a6a" stroke-width="0.45"/>
<rect x="156.68" y="616.85" width="2.66" height="0.35" fill="#cccccc" stroke="#6a6a6a" stroke-width="0.45"/>
<rect x="159.34" y="616.91" width="2.66" height="0.29" fill="#cccccc" stroke="#6a6a6a" stroke-width="0.45"/>
<rect x="162" y="616.94" width="2.66" height="0.26" fill="#cccccc" stroke="#6a6a6a" stroke-width="0.45"/>
<rect x="164.66" y="616.92" width="2.66" height="0.28" fill="#cccccc" stroke="#6a6a6a" stroke-width="0.45"/>
<rect x="167.32" y="616.91" width="2.66" height="0.29" fill="#cccccc" stroke="#6a6a6a" stroke-width="0.45"/>
<rect x="169.98" y="616.97" width="2.66" height="0.23" fill="#cccccc" stroke="#6a6a6a" stroke-width="0.45"/>
<rect x="172.64" y="617" width="2.66" height="0.2" fill="#cccccc" stroke="#6a6a6a" stroke-width="0.45"/>
<line x1="42.3" y1="572.5" x2="42.3" y2="617.2" stroke="#262626" stroke-width="1" />
<line x1="42.3" y1="617.2" x2="175.3" y2="617.2" stroke="#262626" stroke-width="1" />
<line x1="38.8" y1="617.2" x2="42.3" y2="617.2" stroke="#262626" stroke-width="1" />
<text x="35.8" y="620.6" font-size="9.6" text-anchor="end" fill="#262626" >0</text>
<line x1="38.8" y1="594.85" x2="42.3" y2="594.85" stroke="#262626" stroke-width="1" />
<text x="35.8" y="598.25" font-size="9.6" text-anchor="end" fill="#262626" >2.5</text>
<line x1="38.8" y1="572.5" x2="42.3" y2="572.5" stroke="#262626" stroke-width="1" />
<text x="35.8" y="575.9" font-size="9.6" text-anchor="end" fill="#262626" >5</text>
<line x1="42.3" y1="617.2" x2="42.3" y2="620.7" stroke="#262626" stroke-width="1" />
<line x1="68.9" y1="617.2" x2="68.9" y2="620.7" stroke="#262626" stroke-width="1" />
<line x1="95.5" y1="617.2" x2="95.5" y2="620.7" stroke="#262626" stroke-width="1" />
<line x1="122.1" y1="617.2" x2="122.1" y2="620.7" stroke="#262626" stroke-width="1" />
<line x1="148.7" y1="617.2" x2="148.7" y2="620.7" stroke="#262626" stroke-width="1" />
<line x1="175.3" y1="617.2" x2="175.3" y2="620.7" stroke="#262626" stroke-width="1" />
<polyline points="42.3,617.2 47.62,617.2 52.94,617.2 58.26,617.2 58.26,617.2 58.8,617.2 59.34,617.2 59.87,617.2 60.41,617.2 60.95,617.2 61.49,617.2 62.03,617.2 62.56,617.18 63.1,616.99 63.64,616.38 64.18,615.25 64.72,613.71 65.25,611.95 65.79,610.13 66.33,608.4 66.87,606.84 67.41,605.48 67.94,604.33 68.48,603.39 69.02,602.66 69.56,602.1 70.1,601.69 70.63,601.42 71.17,601.26 71.71,601.2 72.25,601.23 72.79,601.31 73.32,601.46 73.86,601.65 74.4,601.88 74.94,602.13 75.48,602.41 76.01,602.71 76.55,603.01 77.09,603.33 77.63,603.66 78.17,603.98 78.7,604.31 79.24,604.64 79.78,604.96 80.32,605.29 80.86,605.6 81.39,605.92 81.93,606.22 82.47,606.52 83.01,606.82 83.54,607.11 84.08,607.39 84.62,607.66 85.16,607.93 85.7,608.19 86.23,608.44 86.77,608.69 87.31,608.93 87.85,609.16 88.39,609.38 88.92,609.6 89.46,609.81 90,610.02 90.54,610.22 91.08,610.41 91.61,610.6 92.15,610.78 92.69,610.96 93.23,611.13 93.77,611.3 94.3,611.46 94.84,611.61 95.38,611.77 95.92,611.91 96.46,612.05 96.99,612.19 97.53,612.33 98.07,612.46 98.61,612.58 99.15,612.7 99.68,612.82 100.22,612.94 100.76,613.05 101.3,613.16 101.84,613.26 102.37,613.36 102.91,613.46 103.45,613.56 103.99,613.65 104.53,613.74 105.06,613.83 105.6,613.91 106.14,614 107.91,614.25 109.69,614.49 111.46,614.7 113.23,614.89 115.01,615.07 116.78,615.23 118.55,615.38 120.33,615.52 122.1,615.64 123.87,615.75 125.65,615.86 127.42,615.96 129.19,616.04 130.97,616.13 132.74,616.2 134.51,616.27 136.29,616.33 138.06,616.39 139.83,616.45 141.61,616.5 143.38,616.55 145.15,616.59 146.93,616.63 148.7,616.67 150.47,616.7 152.25,616.73 154.02,616.76 155.79,616.79 157.57,616.82 159.34,616.84 161.11,616.87 162.89,616.89 164.66,616.91 166.43,616.92 168.21,616.94 169.98,616.96 171.75,616.97 173.53,616.99 175.3,617" fill="none" stroke="#000" stroke-width="2.2" stroke-linejoin="round" />
<rect x="231.08" y="612.12" width="2.66" height="5.08" fill="#cccccc" stroke="#6a6a6a" stroke-width="0.45"/>
<rect x="233.74" y="603.94" width="2.66" height="13.26" fill="#cccccc" stroke="#6a6a6a" stroke-width="0.45"/>
<rect x="236.4" y="603.16" width="2.66" height="14.04" fill="#cccccc" stroke="#6a6a6a" stroke-width="0.45"/>
<rect x="239.06" y="599.06" width="2.66" height="18.14" fill="#cccccc" stroke="#6a6a6a" stroke-width="0.45"/>
<rect x="241.72" y="603.88" width="2.66" height="13.32" fill="#cccccc" stroke="#6a6a6a" stroke-width="0.45"/>
<rect x="244.38" y="604.8" width="2.66" height="12.4" fill="#cccccc" stroke="#6a6a6a" stroke-width="0.45"/>
<rect x="247.04" y="606.04" width="2.66" height="11.16" fill="#cccccc" stroke="#6a6a6a" stroke-width="0.45"/>
<rect x="249.7" y="607.81" width="2.66" height="9.39" fill="#cccccc" stroke="#6a6a6a" stroke-width="0.45"/>
<rect x="252.36" y="607.9" width="2.66" height="9.3" fill="#cccccc" stroke="#6a6a6a" stroke-width="0.45"/>
<rect x="255.02" y="609.79" width="2.66" height="7.41" fill="#cccccc" stroke="#6a6a6a" stroke-width="0.45"/>
<rect x="257.68" y="610.68" width="2.66" height="6.52" fill="#cccccc" stroke="#6a6a6a" stroke-width="0.45"/>
<rect x="260.34" y="611.6" width="2.66" height="5.6" fill="#cccccc" stroke="#6a6a6a" stroke-width="0.45"/>
<rect x="263" y="611.7" width="2.66" height="5.5" fill="#cccccc" stroke="#6a6a6a" stroke-width="0.45"/>
<rect x="265.66" y="613.08" width="2.66" height="4.12" fill="#cccccc" stroke="#6a6a6a" stroke-width="0.45"/>
<rect x="268.32" y="613.46" width="2.66" height="3.74" fill="#cccccc" stroke="#6a6a6a" stroke-width="0.45"/>
<rect x="270.98" y="613.77" width="2.66" height="3.43" fill="#cccccc" stroke="#6a6a6a" stroke-width="0.45"/>
<rect x="273.64" y="614.67" width="2.66" height="2.53" fill="#cccccc" stroke="#6a6a6a" stroke-width="0.45"/>
<rect x="276.3" y="614.73" width="2.66" height="2.47" fill="#cccccc" stroke="#6a6a6a" stroke-width="0.45"/>
<rect x="278.96" y="614.84" width="2.66" height="2.36" fill="#cccccc" stroke="#6a6a6a" stroke-width="0.45"/>
<rect x="281.62" y="615.01" width="2.66" height="2.19" fill="#cccccc" stroke="#6a6a6a" stroke-width="0.45"/>
<rect x="284.28" y="615.4" width="2.66" height="1.8" fill="#cccccc" stroke="#6a6a6a" stroke-width="0.45"/>
<rect x="286.94" y="615.71" width="2.66" height="1.49" fill="#cccccc" stroke="#6a6a6a" stroke-width="0.45"/>
<rect x="289.6" y="615.64" width="2.66" height="1.56" fill="#cccccc" stroke="#6a6a6a" stroke-width="0.45"/>
<rect x="292.26" y="615.98" width="2.66" height="1.22" fill="#cccccc" stroke="#6a6a6a" stroke-width="0.45"/>
<rect x="294.92" y="616.09" width="2.66" height="1.11" fill="#cccccc" stroke="#6a6a6a" stroke-width="0.45"/>
<rect x="297.58" y="616.2" width="2.66" height="1" fill="#cccccc" stroke="#6a6a6a" stroke-width="0.45"/>
<rect x="300.24" y="616.32" width="2.66" height="0.88" fill="#cccccc" stroke="#6a6a6a" stroke-width="0.45"/>
<rect x="302.9" y="616.44" width="2.66" height="0.76" fill="#cccccc" stroke="#6a6a6a" stroke-width="0.45"/>
<rect x="305.56" y="616.47" width="2.66" height="0.73" fill="#cccccc" stroke="#6a6a6a" stroke-width="0.45"/>
<rect x="308.22" y="616.63" width="2.66" height="0.57" fill="#cccccc" stroke="#6a6a6a" stroke-width="0.45"/>
<rect x="310.88" y="616.65" width="2.66" height="0.55" fill="#cccccc" stroke="#6a6a6a" stroke-width="0.45"/>
<rect x="313.54" y="616.71" width="2.66" height="0.49" fill="#cccccc" stroke="#6a6a6a" stroke-width="0.45"/>
<rect x="316.2" y="616.77" width="2.66" height="0.43" fill="#cccccc" stroke="#6a6a6a" stroke-width="0.45"/>
<rect x="318.86" y="616.78" width="2.66" height="0.42" fill="#cccccc" stroke="#6a6a6a" stroke-width="0.45"/>
<rect x="321.52" y="616.82" width="2.66" height="0.38" fill="#cccccc" stroke="#6a6a6a" stroke-width="0.45"/>
<rect x="324.18" y="616.86" width="2.66" height="0.34" fill="#cccccc" stroke="#6a6a6a" stroke-width="0.45"/>
<rect x="326.84" y="616.9" width="2.66" height="0.3" fill="#cccccc" stroke="#6a6a6a" stroke-width="0.45"/>
<rect x="329.5" y="616.91" width="2.66" height="0.29" fill="#cccccc" stroke="#6a6a6a" stroke-width="0.45"/>
<rect x="332.16" y="616.92" width="2.66" height="0.28" fill="#cccccc" stroke="#6a6a6a" stroke-width="0.45"/>
<rect x="334.82" y="616.96" width="2.66" height="0.24" fill="#cccccc" stroke="#6a6a6a" stroke-width="0.45"/>
<rect x="337.48" y="617.05" width="2.66" height="0.15" fill="#cccccc" stroke="#6a6a6a" stroke-width="0.45"/>
<rect x="340.14" y="617" width="2.66" height="0.2" fill="#cccccc" stroke="#6a6a6a" stroke-width="0.45"/>
<line x1="209.8" y1="572.5" x2="209.8" y2="617.2" stroke="#262626" stroke-width="1" />
<line x1="209.8" y1="617.2" x2="342.8" y2="617.2" stroke="#262626" stroke-width="1" />
<line x1="206.3" y1="617.2" x2="209.8" y2="617.2" stroke="#262626" stroke-width="1" />
<text x="203.3" y="620.6" font-size="9.6" text-anchor="end" fill="#262626" >0</text>
<line x1="206.3" y1="594.85" x2="209.8" y2="594.85" stroke="#262626" stroke-width="1" />
<text x="203.3" y="598.25" font-size="9.6" text-anchor="end" fill="#262626" >2.5</text>
<line x1="206.3" y1="572.5" x2="209.8" y2="572.5" stroke="#262626" stroke-width="1" />
<text x="203.3" y="575.9" font-size="9.6" text-anchor="end" fill="#262626" >5</text>
<line x1="209.8" y1="617.2" x2="209.8" y2="620.7" stroke="#262626" stroke-width="1" />
<line x1="236.4" y1="617.2" x2="236.4" y2="620.7" stroke="#262626" stroke-width="1" />
<line x1="263" y1="617.2" x2="263" y2="620.7" stroke="#262626" stroke-width="1" />
<line x1="289.6" y1="617.2" x2="289.6" y2="620.7" stroke="#262626" stroke-width="1" />
<line x1="316.2" y1="617.2" x2="316.2" y2="620.7" stroke="#262626" stroke-width="1" />
<line x1="342.8" y1="617.2" x2="342.8" y2="620.7" stroke="#262626" stroke-width="1" />
<polyline points="209.8,617.2 215.12,617.2 220.44,617.2 225.76,617.2 225.76,617.2 226.3,617.2 226.84,617.2 227.37,617.2 227.91,617.2 228.45,617.2 228.99,617.2 229.53,617.2 230.06,617.1 230.6,616.69 231.14,615.77 231.68,614.35 232.22,612.58 232.75,610.65 233.29,608.73 233.83,606.93 234.37,605.32 234.91,603.92 235.44,602.74 235.98,601.79 236.52,601.03 237.06,600.46 237.6,600.04 238.13,599.77 238.67,599.61 239.21,599.56 239.75,599.59 240.29,599.69 240.82,599.86 241.36,600.06 241.9,600.31 242.44,600.59 242.98,600.9 243.51,601.22 244.05,601.56 244.59,601.91 245.13,602.26 245.67,602.62 246.2,602.98 246.74,603.34 247.28,603.7 247.82,604.06 248.36,604.41 248.89,604.75 249.43,605.09 249.97,605.43 250.51,605.75 251.04,606.07 251.58,606.38 252.12,606.69 252.66,606.98 253.2,607.27 253.73,607.55 254.27,607.83 254.81,608.09 255.35,608.35 255.89,608.6 256.42,608.84 256.96,609.08 257.5,609.31 258.04,609.53 258.58,609.75 259.11,609.96 259.65,610.16 260.19,610.36 260.73,610.55 261.27,610.73 261.8,610.91 262.34,611.09 262.88,611.26 263.42,611.42 263.96,611.58 264.49,611.73 265.03,611.88 265.57,612.03 266.11,612.17 266.65,612.3 267.18,612.43 267.72,612.56 268.26,612.69 268.8,612.81 269.34,612.92 269.87,613.04 270.41,613.15 270.95,613.25 271.49,613.36 272.03,613.46 272.56,613.55 273.1,613.65 273.64,613.74 275.41,614.03 277.19,614.28 278.96,614.52 280.73,614.73 282.51,614.93 284.28,615.11 286.05,615.27 287.83,615.42 289.6,615.55 291.37,615.68 293.15,615.79 294.92,615.9 296.69,615.99 298.47,616.08 300.24,616.16 302.01,616.24 303.79,616.31 305.56,616.37 307.33,616.43 309.11,616.48 310.88,616.53 312.65,616.58 314.43,616.62 316.2,616.66 317.97,616.7 319.75,616.73 321.52,616.76 323.29,616.79 325.07,616.82 326.84,616.85 328.61,616.87 330.39,616.89 332.16,616.91 333.93,616.93 335.71,616.95 337.48,616.96 339.25,616.98 341.03,616.99 342.8,617.01" fill="none" stroke="#000" stroke-width="2.2" stroke-linejoin="round" />
<rect x="396.12" y="616.31" width="2.66" height="0.89" fill="#cccccc" stroke="#6a6a6a" stroke-width="0.45"/>
<rect x="398.78" y="603.34" width="2.66" height="13.86" fill="#cccccc" stroke="#6a6a6a" stroke-width="0.45"/>
<rect x="401.44" y="590.74" width="2.66" height="26.46" fill="#cccccc" stroke="#6a6a6a" stroke-width="0.45"/>
<rect x="404.1" y="589.31" width="2.66" height="27.89" fill="#cccccc" stroke="#6a6a6a" stroke-width="0.45"/>
<rect x="406.76" y="595.12" width="2.66" height="22.08" fill="#cccccc" stroke="#6a6a6a" stroke-width="0.45"/>
<rect x="409.42" y="599.59" width="2.66" height="17.61" fill="#cccccc" stroke="#6a6a6a" stroke-width="0.45"/>
<rect x="412.08" y="603.34" width="2.66" height="13.86" fill="#cccccc" stroke="#6a6a6a" stroke-width="0.45"/>
<rect x="414.74" y="606.47" width="2.66" height="10.73" fill="#cccccc" stroke="#6a6a6a" stroke-width="0.45"/>
<rect x="417.4" y="610.23" width="2.66" height="6.97" fill="#cccccc" stroke="#6a6a6a" stroke-width="0.45"/>
<rect x="420.06" y="612.19" width="2.66" height="5.01" fill="#cccccc" stroke="#6a6a6a" stroke-width="0.45"/>
<rect x="422.72" y="613.62" width="2.66" height="3.58" fill="#cccccc" stroke="#6a6a6a" stroke-width="0.45"/>
<rect x="425.38" y="614.52" width="2.66" height="2.68" fill="#cccccc" stroke="#6a6a6a" stroke-width="0.45"/>
<rect x="428.04" y="614.97" width="2.66" height="2.24" fill="#cccccc" stroke="#6a6a6a" stroke-width="0.45"/>
<rect x="430.7" y="615.41" width="2.66" height="1.79" fill="#cccccc" stroke="#6a6a6a" stroke-width="0.45"/>
<rect x="433.36" y="615.77" width="2.66" height="1.43" fill="#cccccc" stroke="#6a6a6a" stroke-width="0.45"/>
<rect x="436.02" y="616.04" width="2.66" height="1.16" fill="#cccccc" stroke="#6a6a6a" stroke-width="0.45"/>
<rect x="438.68" y="616.31" width="2.66" height="0.89" fill="#cccccc" stroke="#6a6a6a" stroke-width="0.45"/>
<rect x="441.34" y="616.48" width="2.66" height="0.72" fill="#cccccc" stroke="#6a6a6a" stroke-width="0.45"/>
<rect x="444" y="616.66" width="2.66" height="0.54" fill="#cccccc" stroke="#6a6a6a" stroke-width="0.45"/>
<rect x="446.66" y="616.75" width="2.66" height="0.45" fill="#cccccc" stroke="#6a6a6a" stroke-width="0.45"/>
<rect x="449.32" y="616.84" width="2.66" height="0.36" fill="#cccccc" stroke="#6a6a6a" stroke-width="0.45"/>
<rect x="451.98" y="616.93" width="2.66" height="0.27" fill="#cccccc" stroke="#6a6a6a" stroke-width="0.45"/>
<rect x="454.64" y="617.02" width="2.66" height="0.18" fill="#cccccc" stroke="#6a6a6a" stroke-width="0.45"/>
<rect x="457.3" y="617.02" width="2.66" height="0.18" fill="#cccccc" stroke="#6a6a6a" stroke-width="0.45"/>
<rect x="459.96" y="617.02" width="2.66" height="0.18" fill="#cccccc" stroke="#6a6a6a" stroke-width="0.45"/>
<rect x="462.62" y="617.02" width="2.66" height="0.18" fill="#cccccc" stroke="#6a6a6a" stroke-width="0.45"/>
<rect x="465.28" y="617.02" width="2.66" height="0.18" fill="#cccccc" stroke="#6a6a6a" stroke-width="0.45"/>
<rect x="467.94" y="617.02" width="2.66" height="0.18" fill="#cccccc" stroke="#6a6a6a" stroke-width="0.45"/>
<rect x="470.6" y="617.02" width="2.66" height="0.18" fill="#cccccc" stroke="#6a6a6a" stroke-width="0.45"/>
<rect x="473.26" y="617.02" width="2.66" height="0.18" fill="#cccccc" stroke="#6a6a6a" stroke-width="0.45"/>
<rect x="475.92" y="617.02" width="2.66" height="0.18" fill="#cccccc" stroke="#6a6a6a" stroke-width="0.45"/>
<rect x="478.58" y="617.02" width="2.66" height="0.18" fill="#cccccc" stroke="#6a6a6a" stroke-width="0.45"/>
<rect x="481.24" y="617.02" width="2.66" height="0.18" fill="#cccccc" stroke="#6a6a6a" stroke-width="0.45"/>
<rect x="483.9" y="617.02" width="2.66" height="0.18" fill="#cccccc" stroke="#6a6a6a" stroke-width="0.45"/>
<rect x="486.56" y="617.02" width="2.66" height="0.18" fill="#cccccc" stroke="#6a6a6a" stroke-width="0.45"/>
<rect x="489.22" y="617.02" width="2.66" height="0.18" fill="#cccccc" stroke="#6a6a6a" stroke-width="0.45"/>
<rect x="491.88" y="617.02" width="2.66" height="0.18" fill="#cccccc" stroke="#6a6a6a" stroke-width="0.45"/>
<rect x="494.54" y="617.02" width="2.66" height="0.18" fill="#cccccc" stroke="#6a6a6a" stroke-width="0.45"/>
<rect x="497.2" y="617.02" width="2.66" height="0.18" fill="#cccccc" stroke="#6a6a6a" stroke-width="0.45"/>
<rect x="499.86" y="617.02" width="2.66" height="0.18" fill="#cccccc" stroke="#6a6a6a" stroke-width="0.45"/>
<rect x="502.52" y="617.02" width="2.66" height="0.18" fill="#cccccc" stroke="#6a6a6a" stroke-width="0.45"/>
<rect x="505.18" y="617.02" width="2.66" height="0.18" fill="#cccccc" stroke="#6a6a6a" stroke-width="0.45"/>
<rect x="507.84" y="617.02" width="2.66" height="0.18" fill="#cccccc" stroke="#6a6a6a" stroke-width="0.45"/>
<line x1="377.5" y1="572.5" x2="377.5" y2="617.2" stroke="#262626" stroke-width="1" />
<line x1="377.5" y1="617.2" x2="510.5" y2="617.2" stroke="#262626" stroke-width="1" />
<line x1="374" y1="617.2" x2="377.5" y2="617.2" stroke="#262626" stroke-width="1" />
<text x="371" y="620.6" font-size="9.6" text-anchor="end" fill="#262626" >0</text>
<line x1="374" y1="594.85" x2="377.5" y2="594.85" stroke="#262626" stroke-width="1" />
<text x="371" y="598.25" font-size="9.6" text-anchor="end" fill="#262626" >2.5</text>
<line x1="374" y1="572.5" x2="377.5" y2="572.5" stroke="#262626" stroke-width="1" />
<text x="371" y="575.9" font-size="9.6" text-anchor="end" fill="#262626" >5</text>
<line x1="377.5" y1="617.2" x2="377.5" y2="620.7" stroke="#262626" stroke-width="1" />
<line x1="404.1" y1="617.2" x2="404.1" y2="620.7" stroke="#262626" stroke-width="1" />
<line x1="430.7" y1="617.2" x2="430.7" y2="620.7" stroke="#262626" stroke-width="1" />
<line x1="457.3" y1="617.2" x2="457.3" y2="620.7" stroke="#262626" stroke-width="1" />
<line x1="483.9" y1="617.2" x2="483.9" y2="620.7" stroke="#262626" stroke-width="1" />
<line x1="510.5" y1="617.2" x2="510.5" y2="620.7" stroke="#262626" stroke-width="1" />
<polyline points="377.5,617.2 382.82,617.2 388.14,617.2 393.46,617.2 393.46,617.2 394,617.2 394.54,617.2 395.07,617.2 395.61,617.2 396.15,617.2 396.69,617.18 397.23,617.05 397.76,616.65 398.3,615.86 398.84,614.63 399.38,613.01 399.92,611.12 400.45,609.08 400.99,607.02 401.53,605.04 402.07,603.21 402.61,601.58 403.14,600.18 403.68,599.01 404.22,598.08 404.76,597.36 405.3,596.85 405.83,596.53 406.37,596.36 406.91,596.35 407.45,596.46 407.99,596.67 408.52,596.97 409.06,597.35 409.6,597.79 410.14,598.28 410.68,598.8 411.21,599.35 411.75,599.92 412.29,600.5 412.83,601.1 413.37,601.69 413.9,602.28 414.44,602.87 414.98,603.45 415.52,604.01 416.06,604.57 416.59,605.11 417.13,605.64 417.67,606.15 418.21,606.64 418.74,607.12 419.28,607.58 419.82,608.02 420.36,608.45 420.9,608.86 421.43,609.25 421.97,609.63 422.51,609.99 423.05,610.33 423.59,610.66 424.12,610.98 424.66,611.28 425.2,611.57 425.74,611.84 426.28,612.1 426.81,612.35 427.35,612.59 427.89,612.82 428.43,613.03 428.97,613.24 429.5,613.43 430.04,613.62 430.58,613.8 431.12,613.97 431.66,614.13 432.19,614.28 432.73,614.42 433.27,614.56 433.81,614.69 434.35,614.82 434.88,614.93 435.42,615.05 435.96,615.15 436.5,615.25 437.04,615.35 437.57,615.44 438.11,615.53 438.65,615.61 439.19,615.69 439.73,615.77 440.26,615.84 440.8,615.9 441.34,615.97 443.11,616.16 444.89,616.32 446.66,616.45 448.43,616.57 450.21,616.66 451.98,616.74 453.75,616.81 455.53,616.87 457.3,616.92 459.07,616.96 460.85,617 462.62,617.03 464.39,617.05 466.17,617.08 467.94,617.09 469.71,617.11 471.49,617.12 473.26,617.14 475.03,617.14 476.81,617.15 478.58,617.16 480.35,617.17 482.13,617.17 483.9,617.17 485.67,617.18 487.45,617.18 489.22,617.18 490.99,617.19 492.77,617.19 494.54,617.19 496.31,617.19 498.09,617.19 499.86,617.19 501.63,617.19 503.41,617.2 505.18,617.2 506.95,617.2 508.73,617.2 510.5,617.2" fill="none" stroke="#000" stroke-width="2.2" stroke-linejoin="round" />
<rect x="564.12" y="613.45" width="2.66" height="3.75" fill="#cccccc" stroke="#6a6a6a" stroke-width="0.45"/>
<rect x="566.78" y="607.19" width="2.66" height="10.01" fill="#cccccc" stroke="#6a6a6a" stroke-width="0.45"/>
<rect x="569.44" y="603.7" width="2.66" height="13.5" fill="#cccccc" stroke="#6a6a6a" stroke-width="0.45"/>
<rect x="572.1" y="594.85" width="2.66" height="22.35" fill="#cccccc" stroke="#6a6a6a" stroke-width="0.45"/>
<rect x="574.76" y="598.87" width="2.66" height="18.33" fill="#cccccc" stroke="#6a6a6a" stroke-width="0.45"/>
<rect x="577.42" y="600.84" width="2.66" height="16.36" fill="#cccccc" stroke="#6a6a6a" stroke-width="0.45"/>
<rect x="580.08" y="604.51" width="2.66" height="12.69" fill="#cccccc" stroke="#6a6a6a" stroke-width="0.45"/>
<rect x="582.74" y="602.9" width="2.66" height="14.3" fill="#cccccc" stroke="#6a6a6a" stroke-width="0.45"/>
<rect x="585.4" y="603.25" width="2.66" height="13.95" fill="#cccccc" stroke="#6a6a6a" stroke-width="0.45"/>
<rect x="588.06" y="608.53" width="2.66" height="8.67" fill="#cccccc" stroke="#6a6a6a" stroke-width="0.45"/>
<rect x="590.72" y="610.85" width="2.66" height="6.35" fill="#cccccc" stroke="#6a6a6a" stroke-width="0.45"/>
<rect x="593.38" y="612.82" width="2.66" height="4.38" fill="#cccccc" stroke="#6a6a6a" stroke-width="0.45"/>
<rect x="596.04" y="613.98" width="2.66" height="3.22" fill="#cccccc" stroke="#6a6a6a" stroke-width="0.45"/>
<rect x="598.7" y="613.71" width="2.66" height="3.49" fill="#cccccc" stroke="#6a6a6a" stroke-width="0.45"/>
<rect x="601.36" y="612.46" width="2.66" height="4.74" fill="#cccccc" stroke="#6a6a6a" stroke-width="0.45"/>
<rect x="604.02" y="613.36" width="2.66" height="3.84" fill="#cccccc" stroke="#6a6a6a" stroke-width="0.45"/>
<rect x="606.68" y="614.61" width="2.66" height="2.59" fill="#cccccc" stroke="#6a6a6a" stroke-width="0.45"/>
<rect x="609.34" y="615.41" width="2.66" height="1.79" fill="#cccccc" stroke="#6a6a6a" stroke-width="0.45"/>
<rect x="612" y="615.86" width="2.66" height="1.34" fill="#cccccc" stroke="#6a6a6a" stroke-width="0.45"/>
<rect x="614.66" y="616.04" width="2.66" height="1.16" fill="#cccccc" stroke="#6a6a6a" stroke-width="0.45"/>
<rect x="617.32" y="616.31" width="2.66" height="0.89" fill="#cccccc" stroke="#6a6a6a" stroke-width="0.45"/>
<rect x="619.98" y="616.48" width="2.66" height="0.72" fill="#cccccc" stroke="#6a6a6a" stroke-width="0.45"/>
<rect x="622.64" y="616.66" width="2.66" height="0.54" fill="#cccccc" stroke="#6a6a6a" stroke-width="0.45"/>
<rect x="625.3" y="616.75" width="2.66" height="0.45" fill="#cccccc" stroke="#6a6a6a" stroke-width="0.45"/>
<rect x="627.96" y="617.02" width="2.66" height="0.18" fill="#cccccc" stroke="#6a6a6a" stroke-width="0.45"/>
<rect x="630.62" y="617.02" width="2.66" height="0.18" fill="#cccccc" stroke="#6a6a6a" stroke-width="0.45"/>
<rect x="633.28" y="617.02" width="2.66" height="0.18" fill="#cccccc" stroke="#6a6a6a" stroke-width="0.45"/>
<rect x="635.94" y="617.02" width="2.66" height="0.18" fill="#cccccc" stroke="#6a6a6a" stroke-width="0.45"/>
<rect x="638.6" y="617.02" width="2.66" height="0.18" fill="#cccccc" stroke="#6a6a6a" stroke-width="0.45"/>
<rect x="641.26" y="617.02" width="2.66" height="0.18" fill="#cccccc" stroke="#6a6a6a" stroke-width="0.45"/>
<rect x="643.92" y="617.02" width="2.66" height="0.18" fill="#cccccc" stroke="#6a6a6a" stroke-width="0.45"/>
<rect x="646.58" y="617.02" width="2.66" height="0.18" fill="#cccccc" stroke="#6a6a6a" stroke-width="0.45"/>
<rect x="649.24" y="617.02" width="2.66" height="0.18" fill="#cccccc" stroke="#6a6a6a" stroke-width="0.45"/>
<rect x="651.9" y="617.02" width="2.66" height="0.18" fill="#cccccc" stroke="#6a6a6a" stroke-width="0.45"/>
<rect x="654.56" y="617.02" width="2.66" height="0.18" fill="#cccccc" stroke="#6a6a6a" stroke-width="0.45"/>
<rect x="657.22" y="617.02" width="2.66" height="0.18" fill="#cccccc" stroke="#6a6a6a" stroke-width="0.45"/>
<rect x="659.88" y="617.02" width="2.66" height="0.18" fill="#cccccc" stroke="#6a6a6a" stroke-width="0.45"/>
<rect x="662.54" y="617.02" width="2.66" height="0.18" fill="#cccccc" stroke="#6a6a6a" stroke-width="0.45"/>
<rect x="665.2" y="617.02" width="2.66" height="0.18" fill="#cccccc" stroke="#6a6a6a" stroke-width="0.45"/>
<rect x="667.86" y="617.02" width="2.66" height="0.18" fill="#cccccc" stroke="#6a6a6a" stroke-width="0.45"/>
<rect x="670.52" y="617.02" width="2.66" height="0.18" fill="#cccccc" stroke="#6a6a6a" stroke-width="0.45"/>
<rect x="673.18" y="617.02" width="2.66" height="0.18" fill="#cccccc" stroke="#6a6a6a" stroke-width="0.45"/>
<rect x="675.84" y="617.02" width="2.66" height="0.18" fill="#cccccc" stroke="#6a6a6a" stroke-width="0.45"/>
<line x1="545.5" y1="572.5" x2="545.5" y2="617.2" stroke="#262626" stroke-width="1" />
<line x1="545.5" y1="617.2" x2="678.5" y2="617.2" stroke="#262626" stroke-width="1" />
<line x1="542" y1="617.2" x2="545.5" y2="617.2" stroke="#262626" stroke-width="1" />
<text x="539" y="620.6" font-size="9.6" text-anchor="end" fill="#262626" >0</text>
<line x1="542" y1="594.85" x2="545.5" y2="594.85" stroke="#262626" stroke-width="1" />
<text x="539" y="598.25" font-size="9.6" text-anchor="end" fill="#262626" >2.5</text>
<line x1="542" y1="572.5" x2="545.5" y2="572.5" stroke="#262626" stroke-width="1" />
<text x="539" y="575.9" font-size="9.6" text-anchor="end" fill="#262626" >5</text>
<line x1="545.5" y1="617.2" x2="545.5" y2="620.7" stroke="#262626" stroke-width="1" />
<line x1="572.1" y1="617.2" x2="572.1" y2="620.7" stroke="#262626" stroke-width="1" />
<line x1="598.7" y1="617.2" x2="598.7" y2="620.7" stroke="#262626" stroke-width="1" />
<line x1="625.3" y1="617.2" x2="625.3" y2="620.7" stroke="#262626" stroke-width="1" />
<line x1="651.9" y1="617.2" x2="651.9" y2="620.7" stroke="#262626" stroke-width="1" />
<line x1="678.5" y1="617.2" x2="678.5" y2="620.7" stroke="#262626" stroke-width="1" />
<polyline points="545.5,617.2 550.82,617.2 556.14,617.2 561.46,617.2 561.46,617.2 562,617.2 562.54,617.2 563.07,617.2 563.61,617.16 564.15,617.01 564.69,616.58 565.23,615.7 565.76,614.26 566.3,612.23 566.84,609.66 567.38,606.68 567.92,603.42 568.45,600.05 568.99,596.69 569.53,593.47 570.07,590.47 570.61,587.75 571.14,585.37 571.68,583.33 572.22,581.65 572.76,580.31 573.3,579.3 573.83,578.61 574.37,578.19 574.91,578.03 575.45,578.1 575.99,578.37 576.52,578.81 577.06,579.41 577.6,580.13 578.14,580.95 578.68,581.86 579.21,582.84 579.75,583.87 580.29,584.94 580.83,586.03 581.37,587.14 581.9,588.26 582.44,589.38 582.98,590.49 583.52,591.58 584.06,592.66 584.59,593.72 585.13,594.76 585.67,595.76 586.21,596.74 586.74,597.69 587.28,598.61 587.82,599.49 588.36,600.34 588.9,601.16 589.43,601.95 589.97,602.71 590.51,603.43 591.05,604.13 591.59,604.79 592.12,605.42 592.66,606.03 593.2,606.6 593.74,607.15 594.28,607.68 594.81,608.17 595.35,608.65 595.89,609.1 596.43,609.53 596.97,609.93 597.5,610.32 598.04,610.69 598.58,611.04 599.12,611.37 599.66,611.68 600.19,611.98 600.73,612.26 601.27,612.53 601.81,612.78 602.35,613.02 602.88,613.25 603.42,613.46 603.96,613.66 604.5,613.86 605.04,614.04 605.57,614.21 606.11,614.37 606.65,614.53 607.19,614.67 607.73,614.81 608.26,614.94 608.8,615.07 609.34,615.18 611.11,615.53 612.89,615.81 614.66,616.05 616.43,616.24 618.21,616.4 619.98,616.54 621.75,616.65 623.53,616.74 625.3,616.82 627.07,616.89 628.85,616.94 630.62,616.98 632.39,617.02 634.17,617.05 635.94,617.08 637.71,617.1 639.49,617.11 641.26,617.13 643.03,617.14 644.81,617.15 646.58,617.16 648.35,617.17 650.13,617.17 651.9,617.18 653.67,617.18 655.45,617.18 657.22,617.19 658.99,617.19 660.77,617.19 662.54,617.19 664.31,617.19 666.09,617.19 667.86,617.2 669.63,617.2 671.41,617.2 673.18,617.2 674.95,617.2 676.73,617.2 678.5,617.2" fill="none" stroke="#000" stroke-width="2.2" stroke-linejoin="round" />
<text x="32" y="564.2" font-size="12" font-weight="bold" text-anchor="start" fill="#000" >Case (ii)</text>
<rect x="63.58" y="687.34" width="2.66" height="4.36" fill="#cccccc" stroke="#6a6a6a" stroke-width="0.45"/>
<rect x="66.24" y="679.27" width="2.66" height="12.43" fill="#cccccc" stroke="#6a6a6a" stroke-width="0.45"/>
<rect x="68.9" y="677.19" width="2.66" height="14.51" fill="#cccccc" stroke="#6a6a6a" stroke-width="0.45"/>
<rect x="71.56" y="676.37" width="2.66" height="15.33" fill="#cccccc" stroke="#6a6a6a" stroke-width="0.45"/>
<rect x="74.22" y="676.66" width="2.66" height="15.04" fill="#cccccc" stroke="#6a6a6a" stroke-width="0.45"/>
<rect x="76.88" y="679.04" width="2.66" height="12.66" fill="#cccccc" stroke="#6a6a6a" stroke-width="0.45"/>
<rect x="79.54" y="680.56" width="2.66" height="11.14" fill="#cccccc" stroke="#6a6a6a" stroke-width="0.45"/>
<rect x="82.2" y="682.95" width="2.66" height="8.75" fill="#cccccc" stroke="#6a6a6a" stroke-width="0.45"/>
<rect x="84.86" y="682.71" width="2.66" height="8.99" fill="#cccccc" stroke="#6a6a6a" stroke-width="0.45"/>
<rect x="87.52" y="684.15" width="2.66" height="7.55" fill="#cccccc" stroke="#6a6a6a" stroke-width="0.45"/>
<rect x="90.18" y="685.05" width="2.66" height="6.65" fill="#cccccc" stroke="#6a6a6a" stroke-width="0.45"/>
<rect x="92.84" y="686.73" width="2.66" height="4.97" fill="#cccccc" stroke="#6a6a6a" stroke-width="0.45"/>
<rect x="95.5" y="686.1" width="2.66" height="5.6" fill="#cccccc" stroke="#6a6a6a" stroke-width="0.45"/>
<rect x="98.16" y="687.31" width="2.66" height="4.39" fill="#cccccc" stroke="#6a6a6a" stroke-width="0.45"/>
<rect x="100.82" y="688.02" width="2.66" height="3.68" fill="#cccccc" stroke="#6a6a6a" stroke-width="0.45"/>
<rect x="103.48" y="687.81" width="2.66" height="3.89" fill="#cccccc" stroke="#6a6a6a" stroke-width="0.45"/>
<rect x="106.14" y="688.76" width="2.66" height="2.94" fill="#cccccc" stroke="#6a6a6a" stroke-width="0.45"/>
<rect x="108.8" y="689.4" width="2.66" height="2.3" fill="#cccccc" stroke="#6a6a6a" stroke-width="0.45"/>
<rect x="111.46" y="689.47" width="2.66" height="2.23" fill="#cccccc" stroke="#6a6a6a" stroke-width="0.45"/>
<rect x="114.12" y="690.03" width="2.66" height="1.67" fill="#cccccc" stroke="#6a6a6a" stroke-width="0.45"/>
<rect x="116.78" y="689.73" width="2.66" height="1.97" fill="#cccccc" stroke="#6a6a6a" stroke-width="0.45"/>
<rect x="119.44" y="690.13" width="2.66" height="1.57" fill="#cccccc" stroke="#6a6a6a" stroke-width="0.45"/>
<rect x="122.1" y="690.34" width="2.66" height="1.36" fill="#cccccc" stroke="#6a6a6a" stroke-width="0.45"/>
<rect x="124.76" y="690.3" width="2.66" height="1.4" fill="#cccccc" stroke="#6a6a6a" stroke-width="0.45"/>
<rect x="127.42" y="690.7" width="2.66" height="1" fill="#cccccc" stroke="#6a6a6a" stroke-width="0.45"/>
<rect x="130.08" y="690.62" width="2.66" height="1.08" fill="#cccccc" stroke="#6a6a6a" stroke-width="0.45"/>
<rect x="132.74" y="690.93" width="2.66" height="0.77" fill="#cccccc" stroke="#6a6a6a" stroke-width="0.45"/>
<rect x="135.4" y="690.91" width="2.66" height="0.79" fill="#cccccc" stroke="#6a6a6a" stroke-width="0.45"/>
<rect x="138.06" y="691.02" width="2.66" height="0.68" fill="#cccccc" stroke="#6a6a6a" stroke-width="0.45"/>
<rect x="140.72" y="690.95" width="2.66" height="0.75" fill="#cccccc" stroke="#6a6a6a" stroke-width="0.45"/>
<rect x="143.38" y="691.01" width="2.66" height="0.69" fill="#cccccc" stroke="#6a6a6a" stroke-width="0.45"/>
<rect x="146.04" y="691.17" width="2.66" height="0.53" fill="#cccccc" stroke="#6a6a6a" stroke-width="0.45"/>
<rect x="148.7" y="691.17" width="2.66" height="0.53" fill="#cccccc" stroke="#6a6a6a" stroke-width="0.45"/>
<rect x="151.36" y="691.26" width="2.66" height="0.44" fill="#cccccc" stroke="#6a6a6a" stroke-width="0.45"/>
<rect x="154.02" y="691.28" width="2.66" height="0.42" fill="#cccccc" stroke="#6a6a6a" stroke-width="0.45"/>
<rect x="156.68" y="691.35" width="2.66" height="0.35" fill="#cccccc" stroke="#6a6a6a" stroke-width="0.45"/>
<rect x="159.34" y="691.41" width="2.66" height="0.29" fill="#cccccc" stroke="#6a6a6a" stroke-width="0.45"/>
<rect x="162" y="691.44" width="2.66" height="0.26" fill="#cccccc" stroke="#6a6a6a" stroke-width="0.45"/>
<rect x="164.66" y="691.42" width="2.66" height="0.28" fill="#cccccc" stroke="#6a6a6a" stroke-width="0.45"/>
<rect x="167.32" y="691.41" width="2.66" height="0.29" fill="#cccccc" stroke="#6a6a6a" stroke-width="0.45"/>
<rect x="169.98" y="691.47" width="2.66" height="0.23" fill="#cccccc" stroke="#6a6a6a" stroke-width="0.45"/>
<rect x="172.64" y="691.5" width="2.66" height="0.2" fill="#cccccc" stroke="#6a6a6a" stroke-width="0.45"/>
<line x1="42.3" y1="647" x2="42.3" y2="691.7" stroke="#262626" stroke-width="1" />
<line x1="42.3" y1="691.7" x2="175.3" y2="691.7" stroke="#262626" stroke-width="1" />
<line x1="38.8" y1="691.7" x2="42.3" y2="691.7" stroke="#262626" stroke-width="1" />
<text x="35.8" y="695.1" font-size="9.6" text-anchor="end" fill="#262626" >0</text>
<line x1="38.8" y1="669.35" x2="42.3" y2="669.35" stroke="#262626" stroke-width="1" />
<text x="35.8" y="672.75" font-size="9.6" text-anchor="end" fill="#262626" >2.5</text>
<line x1="38.8" y1="647" x2="42.3" y2="647" stroke="#262626" stroke-width="1" />
<text x="35.8" y="650.4" font-size="9.6" text-anchor="end" fill="#262626" >5</text>
<line x1="42.3" y1="691.7" x2="42.3" y2="695.2" stroke="#262626" stroke-width="1" />
<line x1="68.9" y1="691.7" x2="68.9" y2="695.2" stroke="#262626" stroke-width="1" />
<line x1="95.5" y1="691.7" x2="95.5" y2="695.2" stroke="#262626" stroke-width="1" />
<line x1="122.1" y1="691.7" x2="122.1" y2="695.2" stroke="#262626" stroke-width="1" />
<line x1="148.7" y1="691.7" x2="148.7" y2="695.2" stroke="#262626" stroke-width="1" />
<line x1="175.3" y1="691.7" x2="175.3" y2="695.2" stroke="#262626" stroke-width="1" />
<polyline points="42.3,691.7 47.62,691.7 52.94,691.7 58.26,691.7 58.26,691.7 58.8,691.7 59.34,691.7 59.87,691.7 60.41,691.7 60.95,691.7 61.49,691.7 62.03,691.7 62.56,691.68 63.1,691.49 63.64,690.88 64.18,689.75 64.72,688.21 65.25,686.45 65.79,684.63 66.33,682.9 66.87,681.34 67.41,679.98 67.94,678.83 68.48,677.89 69.02,677.16 69.56,676.6 70.1,676.19 70.63,675.92 71.17,675.76 71.71,675.7 72.25,675.73 72.79,675.81 73.32,675.96 73.86,676.15 74.4,676.38 74.94,676.63 75.48,676.91 76.01,677.21 76.55,677.51 77.09,677.83 77.63,678.16 78.17,678.48 78.7,678.81 79.24,679.14 79.78,679.46 80.32,679.79 80.86,680.1 81.39,680.42 81.93,680.72 82.47,681.02 83.01,681.32 83.54,681.61 84.08,681.89 84.62,682.16 85.16,682.43 85.7,682.69 86.23,682.94 86.77,683.19 87.31,683.43 87.85,683.66 88.39,683.88 88.92,684.1 89.46,684.31 90,684.52 90.54,684.72 91.08,684.91 91.61,685.1 92.15,685.28 92.69,685.46 93.23,685.63 93.77,685.8 94.3,685.96 94.84,686.11 95.38,686.27 95.92,686.41 96.46,686.55 96.99,686.69 97.53,686.83 98.07,686.96 98.61,687.08 99.15,687.2 99.68,687.32 100.22,687.44 100.76,687.55 101.3,687.66 101.84,687.76 102.37,687.86 102.91,687.96 103.45,688.06 103.99,688.15 104.53,688.24 105.06,688.33 105.6,688.41 106.14,688.5 107.91,688.75 109.69,688.99 111.46,689.2 113.23,689.39 115.01,689.57 116.78,689.73 118.55,689.88 120.33,690.02 122.1,690.14 123.87,690.25 125.65,690.36 127.42,690.46 129.19,690.54 130.97,690.63 132.74,690.7 134.51,690.77 136.29,690.83 138.06,690.89 139.83,690.95 141.61,691 143.38,691.05 145.15,691.09 146.93,691.13 148.7,691.17 150.47,691.2 152.25,691.23 154.02,691.26 155.79,691.29 157.57,691.32 159.34,691.34 161.11,691.37 162.89,691.39 164.66,691.41 166.43,691.42 168.21,691.44 169.98,691.46 171.75,691.47 173.53,691.49 175.3,691.5" fill="none" stroke="#000" stroke-width="2.2" stroke-linejoin="round" />
<rect x="231.08" y="686.62" width="2.66" height="5.08" fill="#cccccc" stroke="#6a6a6a" stroke-width="0.45"/>
<rect x="233.74" y="678.44" width="2.66" height="13.26" fill="#cccccc" stroke="#6a6a6a" stroke-width="0.45"/>
<rect x="236.4" y="677.66" width="2.66" height="14.04" fill="#cccccc" stroke="#6a6a6a" stroke-width="0.45"/>
<rect x="239.06" y="673.56" width="2.66" height="18.14" fill="#cccccc" stroke="#6a6a6a" stroke-width="0.45"/>
<rect x="241.72" y="678.38" width="2.66" height="13.32" fill="#cccccc" stroke="#6a6a6a" stroke-width="0.45"/>
<rect x="244.38" y="679.3" width="2.66" height="12.4" fill="#cccccc" stroke="#6a6a6a" stroke-width="0.45"/>
<rect x="247.04" y="680.54" width="2.66" height="11.16" fill="#cccccc" stroke="#6a6a6a" stroke-width="0.45"/>
<rect x="249.7" y="682.31" width="2.66" height="9.39" fill="#cccccc" stroke="#6a6a6a" stroke-width="0.45"/>
<rect x="252.36" y="682.4" width="2.66" height="9.3" fill="#cccccc" stroke="#6a6a6a" stroke-width="0.45"/>
<rect x="255.02" y="684.29" width="2.66" height="7.41" fill="#cccccc" stroke="#6a6a6a" stroke-width="0.45"/>
<rect x="257.68" y="685.18" width="2.66" height="6.52" fill="#cccccc" stroke="#6a6a6a" stroke-width="0.45"/>
<rect x="260.34" y="686.1" width="2.66" height="5.6" fill="#cccccc" stroke="#6a6a6a" stroke-width="0.45"/>
<rect x="263" y="686.2" width="2.66" height="5.5" fill="#cccccc" stroke="#6a6a6a" stroke-width="0.45"/>
<rect x="265.66" y="687.58" width="2.66" height="4.12" fill="#cccccc" stroke="#6a6a6a" stroke-width="0.45"/>
<rect x="268.32" y="687.96" width="2.66" height="3.74" fill="#cccccc" stroke="#6a6a6a" stroke-width="0.45"/>
<rect x="270.98" y="688.27" width="2.66" height="3.43" fill="#cccccc" stroke="#6a6a6a" stroke-width="0.45"/>
<rect x="273.64" y="689.17" width="2.66" height="2.53" fill="#cccccc" stroke="#6a6a6a" stroke-width="0.45"/>
<rect x="276.3" y="689.23" width="2.66" height="2.47" fill="#cccccc" stroke="#6a6a6a" stroke-width="0.45"/>
<rect x="278.96" y="689.34" width="2.66" height="2.36" fill="#cccccc" stroke="#6a6a6a" stroke-width="0.45"/>
<rect x="281.62" y="689.51" width="2.66" height="2.19" fill="#cccccc" stroke="#6a6a6a" stroke-width="0.45"/>
<rect x="284.28" y="689.9" width="2.66" height="1.8" fill="#cccccc" stroke="#6a6a6a" stroke-width="0.45"/>
<rect x="286.94" y="690.21" width="2.66" height="1.49" fill="#cccccc" stroke="#6a6a6a" stroke-width="0.45"/>
<rect x="289.6" y="690.14" width="2.66" height="1.56" fill="#cccccc" stroke="#6a6a6a" stroke-width="0.45"/>
<rect x="292.26" y="690.48" width="2.66" height="1.22" fill="#cccccc" stroke="#6a6a6a" stroke-width="0.45"/>
<rect x="294.92" y="690.59" width="2.66" height="1.11" fill="#cccccc" stroke="#6a6a6a" stroke-width="0.45"/>
<rect x="297.58" y="690.7" width="2.66" height="1" fill="#cccccc" stroke="#6a6a6a" stroke-width="0.45"/>
<rect x="300.24" y="690.82" width="2.66" height="0.88" fill="#cccccc" stroke="#6a6a6a" stroke-width="0.45"/>
<rect x="302.9" y="690.94" width="2.66" height="0.76" fill="#cccccc" stroke="#6a6a6a" stroke-width="0.45"/>
<rect x="305.56" y="690.97" width="2.66" height="0.73" fill="#cccccc" stroke="#6a6a6a" stroke-width="0.45"/>
<rect x="308.22" y="691.13" width="2.66" height="0.57" fill="#cccccc" stroke="#6a6a6a" stroke-width="0.45"/>
<rect x="310.88" y="691.15" width="2.66" height="0.55" fill="#cccccc" stroke="#6a6a6a" stroke-width="0.45"/>
<rect x="313.54" y="691.21" width="2.66" height="0.49" fill="#cccccc" stroke="#6a6a6a" stroke-width="0.45"/>
<rect x="316.2" y="691.27" width="2.66" height="0.43" fill="#cccccc" stroke="#6a6a6a" stroke-width="0.45"/>
<rect x="318.86" y="691.28" width="2.66" height="0.42" fill="#cccccc" stroke="#6a6a6a" stroke-width="0.45"/>
<rect x="321.52" y="691.32" width="2.66" height="0.38" fill="#cccccc" stroke="#6a6a6a" stroke-width="0.45"/>
<rect x="324.18" y="691.36" width="2.66" height="0.34" fill="#cccccc" stroke="#6a6a6a" stroke-width="0.45"/>
<rect x="326.84" y="691.4" width="2.66" height="0.3" fill="#cccccc" stroke="#6a6a6a" stroke-width="0.45"/>
<rect x="329.5" y="691.41" width="2.66" height="0.29" fill="#cccccc" stroke="#6a6a6a" stroke-width="0.45"/>
<rect x="332.16" y="691.42" width="2.66" height="0.28" fill="#cccccc" stroke="#6a6a6a" stroke-width="0.45"/>
<rect x="334.82" y="691.46" width="2.66" height="0.24" fill="#cccccc" stroke="#6a6a6a" stroke-width="0.45"/>
<rect x="337.48" y="691.55" width="2.66" height="0.15" fill="#cccccc" stroke="#6a6a6a" stroke-width="0.45"/>
<rect x="340.14" y="691.5" width="2.66" height="0.2" fill="#cccccc" stroke="#6a6a6a" stroke-width="0.45"/>
<line x1="209.8" y1="647" x2="209.8" y2="691.7" stroke="#262626" stroke-width="1" />
<line x1="209.8" y1="691.7" x2="342.8" y2="691.7" stroke="#262626" stroke-width="1" />
<line x1="206.3" y1="691.7" x2="209.8" y2="691.7" stroke="#262626" stroke-width="1" />
<text x="203.3" y="695.1" font-size="9.6" text-anchor="end" fill="#262626" >0</text>
<line x1="206.3" y1="669.35" x2="209.8" y2="669.35" stroke="#262626" stroke-width="1" />
<text x="203.3" y="672.75" font-size="9.6" text-anchor="end" fill="#262626" >2.5</text>
<line x1="206.3" y1="647" x2="209.8" y2="647" stroke="#262626" stroke-width="1" />
<text x="203.3" y="650.4" font-size="9.6" text-anchor="end" fill="#262626" >5</text>
<line x1="209.8" y1="691.7" x2="209.8" y2="695.2" stroke="#262626" stroke-width="1" />
<line x1="236.4" y1="691.7" x2="236.4" y2="695.2" stroke="#262626" stroke-width="1" />
<line x1="263" y1="691.7" x2="263" y2="695.2" stroke="#262626" stroke-width="1" />
<line x1="289.6" y1="691.7" x2="289.6" y2="695.2" stroke="#262626" stroke-width="1" />
<line x1="316.2" y1="691.7" x2="316.2" y2="695.2" stroke="#262626" stroke-width="1" />
<line x1="342.8" y1="691.7" x2="342.8" y2="695.2" stroke="#262626" stroke-width="1" />
<polyline points="209.8,691.7 215.12,691.7 220.44,691.7 225.76,691.7 225.76,691.7 226.3,691.7 226.84,691.7 227.37,691.7 227.91,691.7 228.45,691.7 228.99,691.7 229.53,691.7 230.06,691.6 230.6,691.19 231.14,690.27 231.68,688.85 232.22,687.08 232.75,685.15 233.29,683.23 233.83,681.43 234.37,679.82 234.91,678.42 235.44,677.24 235.98,676.29 236.52,675.53 237.06,674.96 237.6,674.54 238.13,674.27 238.67,674.11 239.21,674.06 239.75,674.09 240.29,674.19 240.82,674.36 241.36,674.56 241.9,674.81 242.44,675.09 242.98,675.4 243.51,675.72 244.05,676.06 244.59,676.41 245.13,676.76 245.67,677.12 246.2,677.48 246.74,677.84 247.28,678.2 247.82,678.56 248.36,678.91 248.89,679.25 249.43,679.59 249.97,679.93 250.51,680.25 251.04,680.57 251.58,680.88 252.12,681.19 252.66,681.48 253.2,681.77 253.73,682.05 254.27,682.33 254.81,682.59 255.35,682.85 255.89,683.1 256.42,683.34 256.96,683.58 257.5,683.81 258.04,684.03 258.58,684.25 259.11,684.46 259.65,684.66 260.19,684.86 260.73,685.05 261.27,685.23 261.8,685.41 262.34,685.59 262.88,685.76 263.42,685.92 263.96,686.08 264.49,686.23 265.03,686.38 265.57,686.53 266.11,686.67 266.65,686.8 267.18,686.93 267.72,687.06 268.26,687.19 268.8,687.31 269.34,687.42 269.87,687.54 270.41,687.65 270.95,687.75 271.49,687.86 272.03,687.96 272.56,688.05 273.1,688.15 273.64,688.24 275.41,688.53 277.19,688.78 278.96,689.02 280.73,689.23 282.51,689.43 284.28,689.61 286.05,689.77 287.83,689.92 289.6,690.05 291.37,690.18 293.15,690.29 294.92,690.4 296.69,690.49 298.47,690.58 300.24,690.66 302.01,690.74 303.79,690.81 305.56,690.87 307.33,690.93 309.11,690.98 310.88,691.03 312.65,691.08 314.43,691.12 316.2,691.16 317.97,691.2 319.75,691.23 321.52,691.26 323.29,691.29 325.07,691.32 326.84,691.35 328.61,691.37 330.39,691.39 332.16,691.41 333.93,691.43 335.71,691.45 337.48,691.46 339.25,691.48 341.03,691.49 342.8,691.51" fill="none" stroke="#000" stroke-width="2.2" stroke-linejoin="round" />
<rect x="396.12" y="690.81" width="2.66" height="0.89" fill="#cccccc" stroke="#6a6a6a" stroke-width="0.45"/>
<rect x="398.78" y="677.84" width="2.66" height="13.86" fill="#cccccc" stroke="#6a6a6a" stroke-width="0.45"/>
<rect x="401.44" y="665.24" width="2.66" height="26.46" fill="#cccccc" stroke="#6a6a6a" stroke-width="0.45"/>
<rect x="404.1" y="663.81" width="2.66" height="27.89" fill="#cccccc" stroke="#6a6a6a" stroke-width="0.45"/>
<rect x="406.76" y="669.62" width="2.66" height="22.08" fill="#cccccc" stroke="#6a6a6a" stroke-width="0.45"/>
<rect x="409.42" y="674.09" width="2.66" height="17.61" fill="#cccccc" stroke="#6a6a6a" stroke-width="0.45"/>
<rect x="412.08" y="677.84" width="2.66" height="13.86" fill="#cccccc" stroke="#6a6a6a" stroke-width="0.45"/>
<rect x="414.74" y="680.97" width="2.66" height="10.73" fill="#cccccc" stroke="#6a6a6a" stroke-width="0.45"/>
<rect x="417.4" y="684.73" width="2.66" height="6.97" fill="#cccccc" stroke="#6a6a6a" stroke-width="0.45"/>
<rect x="420.06" y="686.69" width="2.66" height="5.01" fill="#cccccc" stroke="#6a6a6a" stroke-width="0.45"/>
<rect x="422.72" y="688.12" width="2.66" height="3.58" fill="#cccccc" stroke="#6a6a6a" stroke-width="0.45"/>
<rect x="425.38" y="689.02" width="2.66" height="2.68" fill="#cccccc" stroke="#6a6a6a" stroke-width="0.45"/>
<rect x="428.04" y="689.47" width="2.66" height="2.24" fill="#cccccc" stroke="#6a6a6a" stroke-width="0.45"/>
<rect x="430.7" y="689.91" width="2.66" height="1.79" fill="#cccccc" stroke="#6a6a6a" stroke-width="0.45"/>
<rect x="433.36" y="690.27" width="2.66" height="1.43" fill="#cccccc" stroke="#6a6a6a" stroke-width="0.45"/>
<rect x="436.02" y="690.54" width="2.66" height="1.16" fill="#cccccc" stroke="#6a6a6a" stroke-width="0.45"/>
<rect x="438.68" y="690.81" width="2.66" height="0.89" fill="#cccccc" stroke="#6a6a6a" stroke-width="0.45"/>
<rect x="441.34" y="690.98" width="2.66" height="0.72" fill="#cccccc" stroke="#6a6a6a" stroke-width="0.45"/>
<rect x="444" y="691.16" width="2.66" height="0.54" fill="#cccccc" stroke="#6a6a6a" stroke-width="0.45"/>
<rect x="446.66" y="691.25" width="2.66" height="0.45" fill="#cccccc" stroke="#6a6a6a" stroke-width="0.45"/>
<rect x="449.32" y="691.34" width="2.66" height="0.36" fill="#cccccc" stroke="#6a6a6a" stroke-width="0.45"/>
<rect x="451.98" y="691.43" width="2.66" height="0.27" fill="#cccccc" stroke="#6a6a6a" stroke-width="0.45"/>
<rect x="454.64" y="691.52" width="2.66" height="0.18" fill="#cccccc" stroke="#6a6a6a" stroke-width="0.45"/>
<rect x="457.3" y="691.52" width="2.66" height="0.18" fill="#cccccc" stroke="#6a6a6a" stroke-width="0.45"/>
<rect x="459.96" y="691.52" width="2.66" height="0.18" fill="#cccccc" stroke="#6a6a6a" stroke-width="0.45"/>
<rect x="462.62" y="691.52" width="2.66" height="0.18" fill="#cccccc" stroke="#6a6a6a" stroke-width="0.45"/>
<rect x="465.28" y="691.52" width="2.66" height="0.18" fill="#cccccc" stroke="#6a6a6a" stroke-width="0.45"/>
<rect x="467.94" y="691.52" width="2.66" height="0.18" fill="#cccccc" stroke="#6a6a6a" stroke-width="0.45"/>
<rect x="470.6" y="691.52" width="2.66" height="0.18" fill="#cccccc" stroke="#6a6a6a" stroke-width="0.45"/>
<rect x="473.26" y="691.52" width="2.66" height="0.18" fill="#cccccc" stroke="#6a6a6a" stroke-width="0.45"/>
<rect x="475.92" y="691.52" width="2.66" height="0.18" fill="#cccccc" stroke="#6a6a6a" stroke-width="0.45"/>
<rect x="478.58" y="691.52" width="2.66" height="0.18" fill="#cccccc" stroke="#6a6a6a" stroke-width="0.45"/>
<rect x="481.24" y="691.52" width="2.66" height="0.18" fill="#cccccc" stroke="#6a6a6a" stroke-width="0.45"/>
<rect x="483.9" y="691.52" width="2.66" height="0.18" fill="#cccccc" stroke="#6a6a6a" stroke-width="0.45"/>
<rect x="486.56" y="691.52" width="2.66" height="0.18" fill="#cccccc" stroke="#6a6a6a" stroke-width="0.45"/>
<rect x="489.22" y="691.52" width="2.66" height="0.18" fill="#cccccc" stroke="#6a6a6a" stroke-width="0.45"/>
<rect x="491.88" y="691.52" width="2.66" height="0.18" fill="#cccccc" stroke="#6a6a6a" stroke-width="0.45"/>
<rect x="494.54" y="691.52" width="2.66" height="0.18" fill="#cccccc" stroke="#6a6a6a" stroke-width="0.45"/>
<rect x="497.2" y="691.52" width="2.66" height="0.18" fill="#cccccc" stroke="#6a6a6a" stroke-width="0.45"/>
<rect x="499.86" y="691.52" width="2.66" height="0.18" fill="#cccccc" stroke="#6a6a6a" stroke-width="0.45"/>
<rect x="502.52" y="691.52" width="2.66" height="0.18" fill="#cccccc" stroke="#6a6a6a" stroke-width="0.45"/>
<rect x="505.18" y="691.52" width="2.66" height="0.18" fill="#cccccc" stroke="#6a6a6a" stroke-width="0.45"/>
<rect x="507.84" y="691.52" width="2.66" height="0.18" fill="#cccccc" stroke="#6a6a6a" stroke-width="0.45"/>
<line x1="377.5" y1="647" x2="377.5" y2="691.7" stroke="#262626" stroke-width="1" />
<line x1="377.5" y1="691.7" x2="510.5" y2="691.7" stroke="#262626" stroke-width="1" />
<line x1="374" y1="691.7" x2="377.5" y2="691.7" stroke="#262626" stroke-width="1" />
<text x="371" y="695.1" font-size="9.6" text-anchor="end" fill="#262626" >0</text>
<line x1="374" y1="669.35" x2="377.5" y2="669.35" stroke="#262626" stroke-width="1" />
<text x="371" y="672.75" font-size="9.6" text-anchor="end" fill="#262626" >2.5</text>
<line x1="374" y1="647" x2="377.5" y2="647" stroke="#262626" stroke-width="1" />
<text x="371" y="650.4" font-size="9.6" text-anchor="end" fill="#262626" >5</text>
<line x1="377.5" y1="691.7" x2="377.5" y2="695.2" stroke="#262626" stroke-width="1" />
<line x1="404.1" y1="691.7" x2="404.1" y2="695.2" stroke="#262626" stroke-width="1" />
<line x1="430.7" y1="691.7" x2="430.7" y2="695.2" stroke="#262626" stroke-width="1" />
<line x1="457.3" y1="691.7" x2="457.3" y2="695.2" stroke="#262626" stroke-width="1" />
<line x1="483.9" y1="691.7" x2="483.9" y2="695.2" stroke="#262626" stroke-width="1" />
<line x1="510.5" y1="691.7" x2="510.5" y2="695.2" stroke="#262626" stroke-width="1" />
<polyline points="377.5,691.7 382.82,691.7 388.14,691.7 393.46,691.7 393.46,691.7 394,691.7 394.54,691.7 395.07,691.7 395.61,691.7 396.15,691.7 396.69,691.68 397.23,691.55 397.76,691.15 398.3,690.36 398.84,689.13 399.38,687.51 399.92,685.62 400.45,683.58 400.99,681.52 401.53,679.54 402.07,677.71 402.61,676.08 403.14,674.68 403.68,673.51 404.22,672.58 404.76,671.86 405.3,671.35 405.83,671.03 406.37,670.86 406.91,670.85 407.45,670.96 407.99,671.17 408.52,671.47 409.06,671.85 409.6,672.29 410.14,672.78 410.68,673.3 411.21,673.85 411.75,674.42 412.29,675 412.83,675.6 413.37,676.19 413.9,676.78 414.44,677.37 414.98,677.95 415.52,678.51 416.06,679.07 416.59,679.61 417.13,680.14 417.67,680.65 418.21,681.14 418.74,681.62 419.28,682.08 419.82,682.52 420.36,682.95 420.9,683.36 421.43,683.75 421.97,684.13 422.51,684.49 423.05,684.83 423.59,685.16 424.12,685.48 424.66,685.78 425.2,686.07 425.74,686.34 426.28,686.6 426.81,686.85 427.35,687.09 427.89,687.32 428.43,687.53 428.97,687.74 429.5,687.93 430.04,688.12 430.58,688.3 431.12,688.47 431.66,688.63 432.19,688.78 432.73,688.92 433.27,689.06 433.81,689.19 434.35,689.32 434.88,689.43 435.42,689.55 435.96,689.65 436.5,689.75 437.04,689.85 437.57,689.94 438.11,690.03 438.65,690.11 439.19,690.19 439.73,690.27 440.26,690.34 440.8,690.4 441.34,690.47 443.11,690.66 444.89,690.82 446.66,690.95 448.43,691.07 450.21,691.16 451.98,691.24 453.75,691.31 455.53,691.37 457.3,691.42 459.07,691.46 460.85,691.5 462.62,691.53 464.39,691.55 466.17,691.58 467.94,691.59 469.71,691.61 471.49,691.62 473.26,691.64 475.03,691.64 476.81,691.65 478.58,691.66 480.35,691.67 482.13,691.67 483.9,691.67 485.67,691.68 487.45,691.68 489.22,691.68 490.99,691.69 492.77,691.69 494.54,691.69 496.31,691.69 498.09,691.69 499.86,691.69 501.63,691.69 503.41,691.7 505.18,691.7 506.95,691.7 508.73,691.7 510.5,691.7" fill="none" stroke="#000" stroke-width="2.2" stroke-linejoin="round" />
<rect x="564.12" y="687.95" width="2.66" height="3.75" fill="#cccccc" stroke="#6a6a6a" stroke-width="0.45"/>
<rect x="566.78" y="681.69" width="2.66" height="10.01" fill="#cccccc" stroke="#6a6a6a" stroke-width="0.45"/>
<rect x="569.44" y="678.2" width="2.66" height="13.5" fill="#cccccc" stroke="#6a6a6a" stroke-width="0.45"/>
<rect x="572.1" y="669.35" width="2.66" height="22.35" fill="#cccccc" stroke="#6a6a6a" stroke-width="0.45"/>
<rect x="574.76" y="673.37" width="2.66" height="18.33" fill="#cccccc" stroke="#6a6a6a" stroke-width="0.45"/>
<rect x="577.42" y="675.34" width="2.66" height="16.36" fill="#cccccc" stroke="#6a6a6a" stroke-width="0.45"/>
<rect x="580.08" y="679.01" width="2.66" height="12.69" fill="#cccccc" stroke="#6a6a6a" stroke-width="0.45"/>
<rect x="582.74" y="677.4" width="2.66" height="14.3" fill="#cccccc" stroke="#6a6a6a" stroke-width="0.45"/>
<rect x="585.4" y="677.75" width="2.66" height="13.95" fill="#cccccc" stroke="#6a6a6a" stroke-width="0.45"/>
<rect x="588.06" y="683.03" width="2.66" height="8.67" fill="#cccccc" stroke="#6a6a6a" stroke-width="0.45"/>
<rect x="590.72" y="685.35" width="2.66" height="6.35" fill="#cccccc" stroke="#6a6a6a" stroke-width="0.45"/>
<rect x="593.38" y="687.32" width="2.66" height="4.38" fill="#cccccc" stroke="#6a6a6a" stroke-width="0.45"/>
<rect x="596.04" y="688.48" width="2.66" height="3.22" fill="#cccccc" stroke="#6a6a6a" stroke-width="0.45"/>
<rect x="598.7" y="688.21" width="2.66" height="3.49" fill="#cccccc" stroke="#6a6a6a" stroke-width="0.45"/>
<rect x="601.36" y="686.96" width="2.66" height="4.74" fill="#cccccc" stroke="#6a6a6a" stroke-width="0.45"/>
<rect x="604.02" y="687.86" width="2.66" height="3.84" fill="#cccccc" stroke="#6a6a6a" stroke-width="0.45"/>
<rect x="606.68" y="689.11" width="2.66" height="2.59" fill="#cccccc" stroke="#6a6a6a" stroke-width="0.45"/>
<rect x="609.34" y="689.91" width="2.66" height="1.79" fill="#cccccc" stroke="#6a6a6a" stroke-width="0.45"/>
<rect x="612" y="690.36" width="2.66" height="1.34" fill="#cccccc" stroke="#6a6a6a" stroke-width="0.45"/>
<rect x="614.66" y="690.54" width="2.66" height="1.16" fill="#cccccc" stroke="#6a6a6a" stroke-width="0.45"/>
<rect x="617.32" y="690.81" width="2.66" height="0.89" fill="#cccccc" stroke="#6a6a6a" stroke-width="0.45"/>
<rect x="619.98" y="690.98" width="2.66" height="0.72" fill="#cccccc" stroke="#6a6a6a" stroke-width="0.45"/>
<rect x="622.64" y="691.16" width="2.66" height="0.54" fill="#cccccc" stroke="#6a6a6a" stroke-width="0.45"/>
<rect x="625.3" y="691.25" width="2.66" height="0.45" fill="#cccccc" stroke="#6a6a6a" stroke-width="0.45"/>
<rect x="627.96" y="691.52" width="2.66" height="0.18" fill="#cccccc" stroke="#6a6a6a" stroke-width="0.45"/>
<rect x="630.62" y="691.52" width="2.66" height="0.18" fill="#cccccc" stroke="#6a6a6a" stroke-width="0.45"/>
<rect x="633.28" y="691.52" width="2.66" height="0.18" fill="#cccccc" stroke="#6a6a6a" stroke-width="0.45"/>
<rect x="635.94" y="691.52" width="2.66" height="0.18" fill="#cccccc" stroke="#6a6a6a" stroke-width="0.45"/>
<rect x="638.6" y="691.52" width="2.66" height="0.18" fill="#cccccc" stroke="#6a6a6a" stroke-width="0.45"/>
<rect x="641.26" y="691.52" width="2.66" height="0.18" fill="#cccccc" stroke="#6a6a6a" stroke-width="0.45"/>
<rect x="643.92" y="691.52" width="2.66" height="0.18" fill="#cccccc" stroke="#6a6a6a" stroke-width="0.45"/>
<rect x="646.58" y="691.52" width="2.66" height="0.18" fill="#cccccc" stroke="#6a6a6a" stroke-width="0.45"/>
<rect x="649.24" y="691.52" width="2.66" height="0.18" fill="#cccccc" stroke="#6a6a6a" stroke-width="0.45"/>
<rect x="651.9" y="691.52" width="2.66" height="0.18" fill="#cccccc" stroke="#6a6a6a" stroke-width="0.45"/>
<rect x="654.56" y="691.52" width="2.66" height="0.18" fill="#cccccc" stroke="#6a6a6a" stroke-width="0.45"/>
<rect x="657.22" y="691.52" width="2.66" height="0.18" fill="#cccccc" stroke="#6a6a6a" stroke-width="0.45"/>
<rect x="659.88" y="691.52" width="2.66" height="0.18" fill="#cccccc" stroke="#6a6a6a" stroke-width="0.45"/>
<rect x="662.54" y="691.52" width="2.66" height="0.18" fill="#cccccc" stroke="#6a6a6a" stroke-width="0.45"/>
<rect x="665.2" y="691.52" width="2.66" height="0.18" fill="#cccccc" stroke="#6a6a6a" stroke-width="0.45"/>
<rect x="667.86" y="691.52" width="2.66" height="0.18" fill="#cccccc" stroke="#6a6a6a" stroke-width="0.45"/>
<rect x="670.52" y="691.52" width="2.66" height="0.18" fill="#cccccc" stroke="#6a6a6a" stroke-width="0.45"/>
<rect x="673.18" y="691.52" width="2.66" height="0.18" fill="#cccccc" stroke="#6a6a6a" stroke-width="0.45"/>
<rect x="675.84" y="691.52" width="2.66" height="0.18" fill="#cccccc" stroke="#6a6a6a" stroke-width="0.45"/>
<line x1="545.5" y1="647" x2="545.5" y2="691.7" stroke="#262626" stroke-width="1" />
<line x1="545.5" y1="691.7" x2="678.5" y2="691.7" stroke="#262626" stroke-width="1" />
<line x1="542" y1="691.7" x2="545.5" y2="691.7" stroke="#262626" stroke-width="1" />
<text x="539" y="695.1" font-size="9.6" text-anchor="end" fill="#262626" >0</text>
<line x1="542" y1="669.35" x2="545.5" y2="669.35" stroke="#262626" stroke-width="1" />
<text x="539" y="672.75" font-size="9.6" text-anchor="end" fill="#262626" >2.5</text>
<line x1="542" y1="647" x2="545.5" y2="647" stroke="#262626" stroke-width="1" />
<text x="539" y="650.4" font-size="9.6" text-anchor="end" fill="#262626" >5</text>
<line x1="545.5" y1="691.7" x2="545.5" y2="695.2" stroke="#262626" stroke-width="1" />
<line x1="572.1" y1="691.7" x2="572.1" y2="695.2" stroke="#262626" stroke-width="1" />
<line x1="598.7" y1="691.7" x2="598.7" y2="695.2" stroke="#262626" stroke-width="1" />
<line x1="625.3" y1="691.7" x2="625.3" y2="695.2" stroke="#262626" stroke-width="1" />
<line x1="651.9" y1="691.7" x2="651.9" y2="695.2" stroke="#262626" stroke-width="1" />
<line x1="678.5" y1="691.7" x2="678.5" y2="695.2" stroke="#262626" stroke-width="1" />
<polyline points="545.5,691.7 550.82,691.7 556.14,691.7 561.46,691.7 561.46,691.7 562,691.7 562.54,691.7 563.07,691.7 563.61,691.66 564.15,691.51 564.69,691.09 565.23,690.23 565.76,688.81 566.3,686.82 566.84,684.29 567.38,681.36 567.92,678.16 568.45,674.85 568.99,671.55 569.53,668.38 570.07,665.43 570.61,662.77 571.14,660.42 571.68,658.42 572.22,656.77 572.76,655.45 573.3,654.47 573.83,653.78 574.37,653.37 574.91,653.22 575.45,653.28 575.99,653.55 576.52,653.99 577.06,654.57 577.6,655.28 578.14,656.08 578.68,656.98 579.21,657.94 579.75,658.95 580.29,660 580.83,661.07 581.37,662.17 581.9,663.26 582.44,664.36 582.98,665.45 583.52,666.53 584.06,667.59 584.59,668.63 585.13,669.65 585.67,670.64 586.21,671.6 586.74,672.53 587.28,673.43 587.82,674.3 588.36,675.14 588.9,675.95 589.43,676.72 589.97,677.46 590.51,678.17 591.05,678.85 591.59,679.51 592.12,680.13 592.66,680.72 593.2,681.29 593.74,681.83 594.28,682.34 594.81,682.83 595.35,683.3 595.89,683.74 596.43,684.16 596.97,684.56 597.5,684.94 598.04,685.3 598.58,685.64 599.12,685.97 599.66,686.28 600.19,686.57 600.73,686.85 601.27,687.11 601.81,687.36 602.35,687.59 602.88,687.81 603.42,688.03 603.96,688.23 604.5,688.41 605.04,688.59 605.57,688.76 606.11,688.92 606.65,689.07 607.19,689.22 607.73,689.35 608.26,689.48 608.8,689.6 609.34,689.72 611.11,690.05 612.89,690.33 614.66,690.57 616.43,690.76 618.21,690.92 619.98,691.05 621.75,691.16 623.53,691.25 625.3,691.33 627.07,691.39 628.85,691.44 630.62,691.49 632.39,691.52 634.17,691.55 635.94,691.58 637.71,691.6 639.49,691.62 641.26,691.63 643.03,691.64 644.81,691.65 646.58,691.66 648.35,691.67 650.13,691.67 651.9,691.68 653.67,691.68 655.45,691.68 657.22,691.69 658.99,691.69 660.77,691.69 662.54,691.69 664.31,691.69 666.09,691.69 667.86,691.7 669.63,691.7 671.41,691.7 673.18,691.7 674.95,691.7 676.73,691.7 678.5,691.7" fill="none" stroke="#000" stroke-width="2.2" stroke-linejoin="round" />
<text x="32" y="638.7" font-size="12" font-weight="bold" text-anchor="start" fill="#000" >Case (iii)</text>
<rect x="63.58" y="761.84" width="2.66" height="4.36" fill="#cccccc" stroke="#6a6a6a" stroke-width="0.45"/>
<rect x="66.24" y="753.77" width="2.66" height="12.43" fill="#cccccc" stroke="#6a6a6a" stroke-width="0.45"/>
<rect x="68.9" y="751.69" width="2.66" height="14.51" fill="#cccccc" stroke="#6a6a6a" stroke-width="0.45"/>
<rect x="71.56" y="750.87" width="2.66" height="15.33" fill="#cccccc" stroke="#6a6a6a" stroke-width="0.45"/>
<rect x="74.22" y="751.16" width="2.66" height="15.04" fill="#cccccc" stroke="#6a6a6a" stroke-width="0.45"/>
<rect x="76.88" y="753.54" width="2.66" height="12.66" fill="#cccccc" stroke="#6a6a6a" stroke-width="0.45"/>
<rect x="79.54" y="755.06" width="2.66" height="11.14" fill="#cccccc" stroke="#6a6a6a" stroke-width="0.45"/>
<rect x="82.2" y="757.45" width="2.66" height="8.75" fill="#cccccc" stroke="#6a6a6a" stroke-width="0.45"/>
<rect x="84.86" y="757.21" width="2.66" height="8.99" fill="#cccccc" stroke="#6a6a6a" stroke-width="0.45"/>
<rect x="87.52" y="758.65" width="2.66" height="7.55" fill="#cccccc" stroke="#6a6a6a" stroke-width="0.45"/>
<rect x="90.18" y="759.55" width="2.66" height="6.65" fill="#cccccc" stroke="#6a6a6a" stroke-width="0.45"/>
<rect x="92.84" y="761.23" width="2.66" height="4.97" fill="#cccccc" stroke="#6a6a6a" stroke-width="0.45"/>
<rect x="95.5" y="760.6" width="2.66" height="5.6" fill="#cccccc" stroke="#6a6a6a" stroke-width="0.45"/>
<rect x="98.16" y="761.81" width="2.66" height="4.39" fill="#cccccc" stroke="#6a6a6a" stroke-width="0.45"/>
<rect x="100.82" y="762.52" width="2.66" height="3.68" fill="#cccccc" stroke="#6a6a6a" stroke-width="0.45"/>
<rect x="103.48" y="762.31" width="2.66" height="3.89" fill="#cccccc" stroke="#6a6a6a" stroke-width="0.45"/>
<rect x="106.14" y="763.26" width="2.66" height="2.94" fill="#cccccc" stroke="#6a6a6a" stroke-width="0.45"/>
<rect x="108.8" y="763.9" width="2.66" height="2.3" fill="#cccccc" stroke="#6a6a6a" stroke-width="0.45"/>
<rect x="111.46" y="763.97" width="2.66" height="2.23" fill="#cccccc" stroke="#6a6a6a" stroke-width="0.45"/>
<rect x="114.12" y="764.53" width="2.66" height="1.67" fill="#cccccc" stroke="#6a6a6a" stroke-width="0.45"/>
<rect x="116.78" y="764.23" width="2.66" height="1.97" fill="#cccccc" stroke="#6a6a6a" stroke-width="0.45"/>
<rect x="119.44" y="764.63" width="2.66" height="1.57" fill="#cccccc" stroke="#6a6a6a" stroke-width="0.45"/>
<rect x="122.1" y="764.84" width="2.66" height="1.36" fill="#cccccc" stroke="#6a6a6a" stroke-width="0.45"/>
<rect x="124.76" y="764.8" width="2.66" height="1.4" fill="#cccccc" stroke="#6a6a6a" stroke-width="0.45"/>
<rect x="127.42" y="765.2" width="2.66" height="1" fill="#cccccc" stroke="#6a6a6a" stroke-width="0.45"/>
<rect x="130.08" y="765.12" width="2.66" height="1.08" fill="#cccccc" stroke="#6a6a6a" stroke-width="0.45"/>
<rect x="132.74" y="765.43" width="2.66" height="0.77" fill="#cccccc" stroke="#6a6a6a" stroke-width="0.45"/>
<rect x="135.4" y="765.41" width="2.66" height="0.79" fill="#cccccc" stroke="#6a6a6a" stroke-width="0.45"/>
<rect x="138.06" y="765.52" width="2.66" height="0.68" fill="#cccccc" stroke="#6a6a6a" stroke-width="0.45"/>
<rect x="140.72" y="765.45" width="2.66" height="0.75" fill="#cccccc" stroke="#6a6a6a" stroke-width="0.45"/>
<rect x="143.38" y="765.51" width="2.66" height="0.69" fill="#cccccc" stroke="#6a6a6a" stroke-width="0.45"/>
<rect x="146.04" y="765.67" width="2.66" height="0.53" fill="#cccccc" stroke="#6a6a6a" stroke-width="0.45"/>
<rect x="148.7" y="765.67" width="2.66" height="0.53" fill="#cccccc" stroke="#6a6a6a" stroke-width="0.45"/>
<rect x="151.36" y="765.76" width="2.66" height="0.44" fill="#cccccc" stroke="#6a6a6a" stroke-width="0.45"/>
<rect x="154.02" y="765.78" width="2.66" height="0.42" fill="#cccccc" stroke="#6a6a6a" stroke-width="0.45"/>
<rect x="156.68" y="765.85" width="2.66" height="0.35" fill="#cccccc" stroke="#6a6a6a" stroke-width="0.45"/>
<rect x="159.34" y="765.91" width="2.66" height="0.29" fill="#cccccc" stroke="#6a6a6a" stroke-width="0.45"/>
<rect x="162" y="765.94" width="2.66" height="0.26" fill="#cccccc" stroke="#6a6a6a" stroke-width="0.45"/>
<rect x="164.66" y="765.92" width="2.66" height="0.28" fill="#cccccc" stroke="#6a6a6a" stroke-width="0.45"/>
<rect x="167.32" y="765.91" width="2.66" height="0.29" fill="#cccccc" stroke="#6a6a6a" stroke-width="0.45"/>
<rect x="169.98" y="765.97" width="2.66" height="0.23" fill="#cccccc" stroke="#6a6a6a" stroke-width="0.45"/>
<rect x="172.64" y="766" width="2.66" height="0.2" fill="#cccccc" stroke="#6a6a6a" stroke-width="0.45"/>
<line x1="42.3" y1="721.5" x2="42.3" y2="766.2" stroke="#262626" stroke-width="1" />
<line x1="42.3" y1="766.2" x2="175.3" y2="766.2" stroke="#262626" stroke-width="1" />
<line x1="38.8" y1="766.2" x2="42.3" y2="766.2" stroke="#262626" stroke-width="1" />
<text x="35.8" y="769.6" font-size="9.6" text-anchor="end" fill="#262626" >0</text>
<line x1="38.8" y1="743.85" x2="42.3" y2="743.85" stroke="#262626" stroke-width="1" />
<text x="35.8" y="747.25" font-size="9.6" text-anchor="end" fill="#262626" >2.5</text>
<line x1="38.8" y1="721.5" x2="42.3" y2="721.5" stroke="#262626" stroke-width="1" />
<text x="35.8" y="724.9" font-size="9.6" text-anchor="end" fill="#262626" >5</text>
<line x1="42.3" y1="766.2" x2="42.3" y2="769.7" stroke="#262626" stroke-width="1" />
<text x="42.3" y="781.4" font-size="9.6" text-anchor="middle" fill="#262626" >0</text>
<line x1="68.9" y1="766.2" x2="68.9" y2="769.7" stroke="#262626" stroke-width="1" />
<text x="68.9" y="781.4" font-size="9.6" text-anchor="middle" fill="#262626" >0.5</text>
<line x1="95.5" y1="766.2" x2="95.5" y2="769.7" stroke="#262626" stroke-width="1" />
<text x="95.5" y="781.4" font-size="9.6" text-anchor="middle" fill="#262626" >1</text>
<line x1="122.1" y1="766.2" x2="122.1" y2="769.7" stroke="#262626" stroke-width="1" />
<text x="122.1" y="781.4" font-size="9.6" text-anchor="middle" fill="#262626" >1.5</text>
<line x1="148.7" y1="766.2" x2="148.7" y2="769.7" stroke="#262626" stroke-width="1" />
<text x="148.7" y="781.4" font-size="9.6" text-anchor="middle" fill="#262626" >2</text>
<line x1="175.3" y1="766.2" x2="175.3" y2="769.7" stroke="#262626" stroke-width="1" />
<text x="175.3" y="781.4" font-size="9.6" text-anchor="middle" fill="#262626" >2.5</text>
<polyline points="42.3,766.2 47.62,766.2 52.94,766.2 58.26,766.2 58.26,766.2 58.8,766.2 59.34,766.2 59.87,766.2 60.41,766.2 60.95,766.2 61.49,766.2 62.03,766.2 62.56,766.18 63.1,765.99 63.64,765.38 64.18,764.25 64.72,762.71 65.25,760.95 65.79,759.13 66.33,757.4 66.87,755.84 67.41,754.48 67.94,753.33 68.48,752.39 69.02,751.66 69.56,751.1 70.1,750.69 70.63,750.42 71.17,750.26 71.71,750.2 72.25,750.23 72.79,750.31 73.32,750.46 73.86,750.65 74.4,750.88 74.94,751.13 75.48,751.41 76.01,751.71 76.55,752.01 77.09,752.33 77.63,752.66 78.17,752.98 78.7,753.31 79.24,753.64 79.78,753.96 80.32,754.29 80.86,754.6 81.39,754.92 81.93,755.22 82.47,755.52 83.01,755.82 83.54,756.11 84.08,756.39 84.62,756.66 85.16,756.93 85.7,757.19 86.23,757.44 86.77,757.69 87.31,757.93 87.85,758.16 88.39,758.38 88.92,758.6 89.46,758.81 90,759.02 90.54,759.22 91.08,759.41 91.61,759.6 92.15,759.78 92.69,759.96 93.23,760.13 93.77,760.3 94.3,760.46 94.84,760.61 95.38,760.77 95.92,760.91 96.46,761.05 96.99,761.19 97.53,761.33 98.07,761.46 98.61,761.58 99.15,761.7 99.68,761.82 100.22,761.94 100.76,762.05 101.3,762.16 101.84,762.26 102.37,762.36 102.91,762.46 103.45,762.56 103.99,762.65 104.53,762.74 105.06,762.83 105.6,762.91 106.14,763 107.91,763.25 109.69,763.49 111.46,763.7 113.23,763.89 115.01,764.07 116.78,764.23 118.55,764.38 120.33,764.52 122.1,764.64 123.87,764.75 125.65,764.86 127.42,764.96 129.19,765.04 130.97,765.13 132.74,765.2 134.51,765.27 136.29,765.33 138.06,765.39 139.83,765.45 141.61,765.5 143.38,765.55 145.15,765.59 146.93,765.63 148.7,765.67 150.47,765.7 152.25,765.73 154.02,765.76 155.79,765.79 157.57,765.82 159.34,765.84 161.11,765.87 162.89,765.89 164.66,765.91 166.43,765.92 168.21,765.94 169.98,765.96 171.75,765.97 173.53,765.99 175.3,766" fill="none" stroke="#000" stroke-width="2.2" stroke-linejoin="round" />
<rect x="231.08" y="761.12" width="2.66" height="5.08" fill="#cccccc" stroke="#6a6a6a" stroke-width="0.45"/>
<rect x="233.74" y="752.94" width="2.66" height="13.26" fill="#cccccc" stroke="#6a6a6a" stroke-width="0.45"/>
<rect x="236.4" y="752.16" width="2.66" height="14.04" fill="#cccccc" stroke="#6a6a6a" stroke-width="0.45"/>
<rect x="239.06" y="748.06" width="2.66" height="18.14" fill="#cccccc" stroke="#6a6a6a" stroke-width="0.45"/>
<rect x="241.72" y="752.88" width="2.66" height="13.32" fill="#cccccc" stroke="#6a6a6a" stroke-width="0.45"/>
<rect x="244.38" y="753.8" width="2.66" height="12.4" fill="#cccccc" stroke="#6a6a6a" stroke-width="0.45"/>
<rect x="247.04" y="755.04" width="2.66" height="11.16" fill="#cccccc" stroke="#6a6a6a" stroke-width="0.45"/>
<rect x="249.7" y="756.81" width="2.66" height="9.39" fill="#cccccc" stroke="#6a6a6a" stroke-width="0.45"/>
<rect x="252.36" y="756.9" width="2.66" height="9.3" fill="#cccccc" stroke="#6a6a6a" stroke-width="0.45"/>
<rect x="255.02" y="758.79" width="2.66" height="7.41" fill="#cccccc" stroke="#6a6a6a" stroke-width="0.45"/>
<rect x="257.68" y="759.68" width="2.66" height="6.52" fill="#cccccc" stroke="#6a6a6a" stroke-width="0.45"/>
<rect x="260.34" y="760.6" width="2.66" height="5.6" fill="#cccccc" stroke="#6a6a6a" stroke-width="0.45"/>
<rect x="263" y="760.7" width="2.66" height="5.5" fill="#cccccc" stroke="#6a6a6a" stroke-width="0.45"/>
<rect x="265.66" y="762.08" width="2.66" height="4.12" fill="#cccccc" stroke="#6a6a6a" stroke-width="0.45"/>
<rect x="268.32" y="762.46" width="2.66" height="3.74" fill="#cccccc" stroke="#6a6a6a" stroke-width="0.45"/>
<rect x="270.98" y="762.77" width="2.66" height="3.43" fill="#cccccc" stroke="#6a6a6a" stroke-width="0.45"/>
<rect x="273.64" y="763.67" width="2.66" height="2.53" fill="#cccccc" stroke="#6a6a6a" stroke-width="0.45"/>
<rect x="276.3" y="763.73" width="2.66" height="2.47" fill="#cccccc" stroke="#6a6a6a" stroke-width="0.45"/>
<rect x="278.96" y="763.84" width="2.66" height="2.36" fill="#cccccc" stroke="#6a6a6a" stroke-width="0.45"/>
<rect x="281.62" y="764.01" width="2.66" height="2.19" fill="#cccccc" stroke="#6a6a6a" stroke-width="0.45"/>
<rect x="284.28" y="764.4" width="2.66" height="1.8" fill="#cccccc" stroke="#6a6a6a" stroke-width="0.45"/>
<rect x="286.94" y="764.71" width="2.66" height="1.49" fill="#cccccc" stroke="#6a6a6a" stroke-width="0.45"/>
<rect x="289.6" y="764.64" width="2.66" height="1.56" fill="#cccccc" stroke="#6a6a6a" stroke-width="0.45"/>
<rect x="292.26" y="764.98" width="2.66" height="1.22" fill="#cccccc" stroke="#6a6a6a" stroke-width="0.45"/>
<rect x="294.92" y="765.09" width="2.66" height="1.11" fill="#cccccc" stroke="#6a6a6a" stroke-width="0.45"/>
<rect x="297.58" y="765.2" width="2.66" height="1" fill="#cccccc" stroke="#6a6a6a" stroke-width="0.45"/>
<rect x="300.24" y="765.32" width="2.66" height="0.88" fill="#cccccc" stroke="#6a6a6a" stroke-width="0.45"/>
<rect x="302.9" y="765.44" width="2.66" height="0.76" fill="#cccccc" stroke="#6a6a6a" stroke-width="0.45"/>
<rect x="305.56" y="765.47" width="2.66" height="0.73" fill="#cccccc" stroke="#6a6a6a" stroke-width="0.45"/>
<rect x="308.22" y="765.63" width="2.66" height="0.57" fill="#cccccc" stroke="#6a6a6a" stroke-width="0.45"/>
<rect x="310.88" y="765.65" width="2.66" height="0.55" fill="#cccccc" stroke="#6a6a6a" stroke-width="0.45"/>
<rect x="313.54" y="765.71" width="2.66" height="0.49" fill="#cccccc" stroke="#6a6a6a" stroke-width="0.45"/>
<rect x="316.2" y="765.77" width="2.66" height="0.43" fill="#cccccc" stroke="#6a6a6a" stroke-width="0.45"/>
<rect x="318.86" y="765.78" width="2.66" height="0.42" fill="#cccccc" stroke="#6a6a6a" stroke-width="0.45"/>
<rect x="321.52" y="765.82" width="2.66" height="0.38" fill="#cccccc" stroke="#6a6a6a" stroke-width="0.45"/>
<rect x="324.18" y="765.86" width="2.66" height="0.34" fill="#cccccc" stroke="#6a6a6a" stroke-width="0.45"/>
<rect x="326.84" y="765.9" width="2.66" height="0.3" fill="#cccccc" stroke="#6a6a6a" stroke-width="0.45"/>
<rect x="329.5" y="765.91" width="2.66" height="0.29" fill="#cccccc" stroke="#6a6a6a" stroke-width="0.45"/>
<rect x="332.16" y="765.92" width="2.66" height="0.28" fill="#cccccc" stroke="#6a6a6a" stroke-width="0.45"/>
<rect x="334.82" y="765.96" width="2.66" height="0.24" fill="#cccccc" stroke="#6a6a6a" stroke-width="0.45"/>
<rect x="337.48" y="766.05" width="2.66" height="0.15" fill="#cccccc" stroke="#6a6a6a" stroke-width="0.45"/>
<rect x="340.14" y="766" width="2.66" height="0.2" fill="#cccccc" stroke="#6a6a6a" stroke-width="0.45"/>
<line x1="209.8" y1="721.5" x2="209.8" y2="766.2" stroke="#262626" stroke-width="1" />
<line x1="209.8" y1="766.2" x2="342.8" y2="766.2" stroke="#262626" stroke-width="1" />
<line x1="206.3" y1="766.2" x2="209.8" y2="766.2" stroke="#262626" stroke-width="1" />
<text x="203.3" y="769.6" font-size="9.6" text-anchor="end" fill="#262626" >0</text>
<line x1="206.3" y1="743.85" x2="209.8" y2="743.85" stroke="#262626" stroke-width="1" />
<text x="203.3" y="747.25" font-size="9.6" text-anchor="end" fill="#262626" >2.5</text>
<line x1="206.3" y1="721.5" x2="209.8" y2="721.5" stroke="#262626" stroke-width="1" />
<text x="203.3" y="724.9" font-size="9.6" text-anchor="end" fill="#262626" >5</text>
<line x1="209.8" y1="766.2" x2="209.8" y2="769.7" stroke="#262626" stroke-width="1" />
<text x="209.8" y="781.4" font-size="9.6" text-anchor="middle" fill="#262626" >0</text>
<line x1="236.4" y1="766.2" x2="236.4" y2="769.7" stroke="#262626" stroke-width="1" />
<text x="236.4" y="781.4" font-size="9.6" text-anchor="middle" fill="#262626" >0.5</text>
<line x1="263" y1="766.2" x2="263" y2="769.7" stroke="#262626" stroke-width="1" />
<text x="263" y="781.4" font-size="9.6" text-anchor="middle" fill="#262626" >1</text>
<line x1="289.6" y1="766.2" x2="289.6" y2="769.7" stroke="#262626" stroke-width="1" />
<text x="289.6" y="781.4" font-size="9.6" text-anchor="middle" fill="#262626" >1.5</text>
<line x1="316.2" y1="766.2" x2="316.2" y2="769.7" stroke="#262626" stroke-width="1" />
<text x="316.2" y="781.4" font-size="9.6" text-anchor="middle" fill="#262626" >2</text>
<line x1="342.8" y1="766.2" x2="342.8" y2="769.7" stroke="#262626" stroke-width="1" />
<text x="342.8" y="781.4" font-size="9.6" text-anchor="middle" fill="#262626" >2.5</text>
<polyline points="209.8,766.2 215.12,766.2 220.44,766.2 225.76,766.2 225.76,766.2 226.3,766.2 226.84,766.2 227.37,766.2 227.91,766.2 228.45,766.2 228.99,766.2 229.53,766.2 230.06,766.1 230.6,765.69 231.14,764.77 231.68,763.35 232.22,761.58 232.75,759.65 233.29,757.73 233.83,755.93 234.37,754.32 234.91,752.92 235.44,751.74 235.98,750.79 236.52,750.03 237.06,749.46 237.6,749.04 238.13,748.77 238.67,748.61 239.21,748.56 239.75,748.59 240.29,748.69 240.82,748.86 241.36,749.06 241.9,749.31 242.44,749.59 242.98,749.9 243.51,750.22 244.05,750.56 244.59,750.91 245.13,751.26 245.67,751.62 246.2,751.98 246.74,752.34 247.28,752.7 247.82,753.06 248.36,753.41 248.89,753.75 249.43,754.09 249.97,754.43 250.51,754.75 251.04,755.07 251.58,755.38 252.12,755.69 252.66,755.98 253.2,756.27 253.73,756.55 254.27,756.83 254.81,757.09 255.35,757.35 255.89,757.6 256.42,757.84 256.96,758.08 257.5,758.31 258.04,758.53 258.58,758.75 259.11,758.96 259.65,759.16 260.19,759.36 260.73,759.55 261.27,759.73 261.8,759.91 262.34,760.09 262.88,760.26 263.42,760.42 263.96,760.58 264.49,760.73 265.03,760.88 265.57,761.03 266.11,761.17 266.65,761.3 267.18,761.43 267.72,761.56 268.26,761.69 268.8,761.81 269.34,761.92 269.87,762.04 270.41,762.15 270.95,762.25 271.49,762.36 272.03,762.46 272.56,762.55 273.1,762.65 273.64,762.74 275.41,763.03 277.19,763.28 278.96,763.52 280.73,763.73 282.51,763.93 284.28,764.11 286.05,764.27 287.83,764.42 289.6,764.55 291.37,764.68 293.15,764.79 294.92,764.9 296.69,764.99 298.47,765.08 300.24,765.16 302.01,765.24 303.79,765.31 305.56,765.37 307.33,765.43 309.11,765.48 310.88,765.53 312.65,765.58 314.43,765.62 316.2,765.66 317.97,765.7 319.75,765.73 321.52,765.76 323.29,765.79 325.07,765.82 326.84,765.85 328.61,765.87 330.39,765.89 332.16,765.91 333.93,765.93 335.71,765.95 337.48,765.96 339.25,765.98 341.03,765.99 342.8,766.01" fill="none" stroke="#000" stroke-width="2.2" stroke-linejoin="round" />
<rect x="396.12" y="765.31" width="2.66" height="0.89" fill="#cccccc" stroke="#6a6a6a" stroke-width="0.45"/>
<rect x="398.78" y="752.34" width="2.66" height="13.86" fill="#cccccc" stroke="#6a6a6a" stroke-width="0.45"/>
<rect x="401.44" y="739.74" width="2.66" height="26.46" fill="#cccccc" stroke="#6a6a6a" stroke-width="0.45"/>
<rect x="404.1" y="738.31" width="2.66" height="27.89" fill="#cccccc" stroke="#6a6a6a" stroke-width="0.45"/>
<rect x="406.76" y="744.12" width="2.66" height="22.08" fill="#cccccc" stroke="#6a6a6a" stroke-width="0.45"/>
<rect x="409.42" y="748.59" width="2.66" height="17.61" fill="#cccccc" stroke="#6a6a6a" stroke-width="0.45"/>
<rect x="412.08" y="752.34" width="2.66" height="13.86" fill="#cccccc" stroke="#6a6a6a" stroke-width="0.45"/>
<rect x="414.74" y="755.47" width="2.66" height="10.73" fill="#cccccc" stroke="#6a6a6a" stroke-width="0.45"/>
<rect x="417.4" y="759.23" width="2.66" height="6.97" fill="#cccccc" stroke="#6a6a6a" stroke-width="0.45"/>
<rect x="420.06" y="761.19" width="2.66" height="5.01" fill="#cccccc" stroke="#6a6a6a" stroke-width="0.45"/>
<rect x="422.72" y="762.62" width="2.66" height="3.58" fill="#cccccc" stroke="#6a6a6a" stroke-width="0.45"/>
<rect x="425.38" y="763.52" width="2.66" height="2.68" fill="#cccccc" stroke="#6a6a6a" stroke-width="0.45"/>
<rect x="428.04" y="763.97" width="2.66" height="2.24" fill="#cccccc" stroke="#6a6a6a" stroke-width="0.45"/>
<rect x="430.7" y="764.41" width="2.66" height="1.79" fill="#cccccc" stroke="#6a6a6a" stroke-width="0.45"/>
<rect x="433.36" y="764.77" width="2.66" height="1.43" fill="#cccccc" stroke="#6a6a6a" stroke-width="0.45"/>
<rect x="436.02" y="765.04" width="2.66" height="1.16" fill="#cccccc" stroke="#6a6a6a" stroke-width="0.45"/>
<rect x="438.68" y="765.31" width="2.66" height="0.89" fill="#cccccc" stroke="#6a6a6a" stroke-width="0.45"/>
<rect x="441.34" y="765.48" width="2.66" height="0.72" fill="#cccccc" stroke="#6a6a6a" stroke-width="0.45"/>
<rect x="444" y="765.66" width="2.66" height="0.54" fill="#cccccc" stroke="#6a6a6a" stroke-width="0.45"/>
<rect x="446.66" y="765.75" width="2.66" height="0.45" fill="#cccccc" stroke="#6a6a6a" stroke-width="0.45"/>
<rect x="449.32" y="765.84" width="2.66" height="0.36" fill="#cccccc" stroke="#6a6a6a" stroke-width="0.45"/>
<rect x="451.98" y="765.93" width="2.66" height="0.27" fill="#cccccc" stroke="#6a6a6a" stroke-width="0.45"/>
<rect x="454.64" y="766.02" width="2.66" height="0.18" fill="#cccccc" stroke="#6a6a6a" stroke-width="0.45"/>
<rect x="457.3" y="766.02" width="2.66" height="0.18" fill="#cccccc" stroke="#6a6a6a" stroke-width="0.45"/>
<rect x="459.96" y="766.02" width="2.66" height="0.18" fill="#cccccc" stroke="#6a6a6a" stroke-width="0.45"/>
<rect x="462.62" y="766.02" width="2.66" height="0.18" fill="#cccccc" stroke="#6a6a6a" stroke-width="0.45"/>
<rect x="465.28" y="766.02" width="2.66" height="0.18" fill="#cccccc" stroke="#6a6a6a" stroke-width="0.45"/>
<rect x="467.94" y="766.02" width="2.66" height="0.18" fill="#cccccc" stroke="#6a6a6a" stroke-width="0.45"/>
<rect x="470.6" y="766.02" width="2.66" height="0.18" fill="#cccccc" stroke="#6a6a6a" stroke-width="0.45"/>
<rect x="473.26" y="766.02" width="2.66" height="0.18" fill="#cccccc" stroke="#6a6a6a" stroke-width="0.45"/>
<rect x="475.92" y="766.02" width="2.66" height="0.18" fill="#cccccc" stroke="#6a6a6a" stroke-width="0.45"/>
<rect x="478.58" y="766.02" width="2.66" height="0.18" fill="#cccccc" stroke="#6a6a6a" stroke-width="0.45"/>
<rect x="481.24" y="766.02" width="2.66" height="0.18" fill="#cccccc" stroke="#6a6a6a" stroke-width="0.45"/>
<rect x="483.9" y="766.02" width="2.66" height="0.18" fill="#cccccc" stroke="#6a6a6a" stroke-width="0.45"/>
<rect x="486.56" y="766.02" width="2.66" height="0.18" fill="#cccccc" stroke="#6a6a6a" stroke-width="0.45"/>
<rect x="489.22" y="766.02" width="2.66" height="0.18" fill="#cccccc" stroke="#6a6a6a" stroke-width="0.45"/>
<rect x="491.88" y="766.02" width="2.66" height="0.18" fill="#cccccc" stroke="#6a6a6a" stroke-width="0.45"/>
<rect x="494.54" y="766.02" width="2.66" height="0.18" fill="#cccccc" stroke="#6a6a6a" stroke-width="0.45"/>
<rect x="497.2" y="766.02" width="2.66" height="0.18" fill="#cccccc" stroke="#6a6a6a" stroke-width="0.45"/>
<rect x="499.86" y="766.02" width="2.66" height="0.18" fill="#cccccc" stroke="#6a6a6a" stroke-width="0.45"/>
<rect x="502.52" y="766.02" width="2.66" height="0.18" fill="#cccccc" stroke="#6a6a6a" stroke-width="0.45"/>
<rect x="505.18" y="766.02" width="2.66" height="0.18" fill="#cccccc" stroke="#6a6a6a" stroke-width="0.45"/>
<rect x="507.84" y="766.02" width="2.66" height="0.18" fill="#cccccc" stroke="#6a6a6a" stroke-width="0.45"/>
<line x1="377.5" y1="721.5" x2="377.5" y2="766.2" stroke="#262626" stroke-width="1" />
<line x1="377.5" y1="766.2" x2="510.5" y2="766.2" stroke="#262626" stroke-width="1" />
<line x1="374" y1="766.2" x2="377.5" y2="766.2" stroke="#262626" stroke-width="1" />
<text x="371" y="769.6" font-size="9.6" text-anchor="end" fill="#262626" >0</text>
<line x1="374" y1="743.85" x2="377.5" y2="743.85" stroke="#262626" stroke-width="1" />
<text x="371" y="747.25" font-size="9.6" text-anchor="end" fill="#262626" >2.5</text>
<line x1="374" y1="721.5" x2="377.5" y2="721.5" stroke="#262626" stroke-width="1" />
<text x="371" y="724.9" font-size="9.6" text-anchor="end" fill="#262626" >5</text>
<line x1="377.5" y1="766.2" x2="377.5" y2="769.7" stroke="#262626" stroke-width="1" />
<text x="377.5" y="781.4" font-size="9.6" text-anchor="middle" fill="#262626" >0</text>
<line x1="404.1" y1="766.2" x2="404.1" y2="769.7" stroke="#262626" stroke-width="1" />
<text x="404.1" y="781.4" font-size="9.6" text-anchor="middle" fill="#262626" >0.5</text>
<line x1="430.7" y1="766.2" x2="430.7" y2="769.7" stroke="#262626" stroke-width="1" />
<text x="430.7" y="781.4" font-size="9.6" text-anchor="middle" fill="#262626" >1</text>
<line x1="457.3" y1="766.2" x2="457.3" y2="769.7" stroke="#262626" stroke-width="1" />
<text x="457.3" y="781.4" font-size="9.6" text-anchor="middle" fill="#262626" >1.5</text>
<line x1="483.9" y1="766.2" x2="483.9" y2="769.7" stroke="#262626" stroke-width="1" />
<text x="483.9" y="781.4" font-size="9.6" text-anchor="middle" fill="#262626" >2</text>
<line x1="510.5" y1="766.2" x2="510.5" y2="769.7" stroke="#262626" stroke-width="1" />
<text x="510.5" y="781.4" font-size="9.6" text-anchor="middle" fill="#262626" >2.5</text>
<polyline points="377.5,766.2 382.82,766.2 388.14,766.2 393.46,766.2 393.46,766.2 394,766.2 394.54,766.2 395.07,766.2 395.61,766.2 396.15,766.2 396.69,766.18 397.23,766.05 397.76,765.65 398.3,764.86 398.84,763.63 399.38,762.01 399.92,760.12 400.45,758.08 400.99,756.02 401.53,754.04 402.07,752.21 402.61,750.58 403.14,749.18 403.68,748.01 404.22,747.08 404.76,746.36 405.3,745.85 405.83,745.53 406.37,745.36 406.91,745.35 407.45,745.46 407.99,745.67 408.52,745.97 409.06,746.35 409.6,746.79 410.14,747.28 410.68,747.8 411.21,748.35 411.75,748.92 412.29,749.5 412.83,750.1 413.37,750.69 413.9,751.28 414.44,751.87 414.98,752.45 415.52,753.01 416.06,753.57 416.59,754.11 417.13,754.64 417.67,755.15 418.21,755.64 418.74,756.12 419.28,756.58 419.82,757.02 420.36,757.45 420.9,757.86 421.43,758.25 421.97,758.63 422.51,758.99 423.05,759.33 423.59,759.66 424.12,759.98 424.66,760.28 425.2,760.57 425.74,760.84 426.28,761.1 426.81,761.35 427.35,761.59 427.89,761.82 428.43,762.03 428.97,762.24 429.5,762.43 430.04,762.62 430.58,762.8 431.12,762.97 431.66,763.13 432.19,763.28 432.73,763.42 433.27,763.56 433.81,763.69 434.35,763.82 434.88,763.93 435.42,764.05 435.96,764.15 436.5,764.25 437.04,764.35 437.57,764.44 438.11,764.53 438.65,764.61 439.19,764.69 439.73,764.77 440.26,764.84 440.8,764.9 441.34,764.97 443.11,765.16 444.89,765.32 446.66,765.45 448.43,765.57 450.21,765.66 451.98,765.74 453.75,765.81 455.53,765.87 457.3,765.92 459.07,765.96 460.85,766 462.62,766.03 464.39,766.05 466.17,766.08 467.94,766.09 469.71,766.11 471.49,766.12 473.26,766.14 475.03,766.14 476.81,766.15 478.58,766.16 480.35,766.17 482.13,766.17 483.9,766.17 485.67,766.18 487.45,766.18 489.22,766.18 490.99,766.19 492.77,766.19 494.54,766.19 496.31,766.19 498.09,766.19 499.86,766.19 501.63,766.19 503.41,766.2 505.18,766.2 506.95,766.2 508.73,766.2 510.5,766.2" fill="none" stroke="#000" stroke-width="2.2" stroke-linejoin="round" />
<rect x="564.12" y="762.45" width="2.66" height="3.75" fill="#cccccc" stroke="#6a6a6a" stroke-width="0.45"/>
<rect x="566.78" y="756.19" width="2.66" height="10.01" fill="#cccccc" stroke="#6a6a6a" stroke-width="0.45"/>
<rect x="569.44" y="752.7" width="2.66" height="13.5" fill="#cccccc" stroke="#6a6a6a" stroke-width="0.45"/>
<rect x="572.1" y="743.85" width="2.66" height="22.35" fill="#cccccc" stroke="#6a6a6a" stroke-width="0.45"/>
<rect x="574.76" y="747.87" width="2.66" height="18.33" fill="#cccccc" stroke="#6a6a6a" stroke-width="0.45"/>
<rect x="577.42" y="749.84" width="2.66" height="16.36" fill="#cccccc" stroke="#6a6a6a" stroke-width="0.45"/>
<rect x="580.08" y="753.51" width="2.66" height="12.69" fill="#cccccc" stroke="#6a6a6a" stroke-width="0.45"/>
<rect x="582.74" y="751.9" width="2.66" height="14.3" fill="#cccccc" stroke="#6a6a6a" stroke-width="0.45"/>
<rect x="585.4" y="752.25" width="2.66" height="13.95" fill="#cccccc" stroke="#6a6a6a" stroke-width="0.45"/>
<rect x="588.06" y="757.53" width="2.66" height="8.67" fill="#cccccc" stroke="#6a6a6a" stroke-width="0.45"/>
<rect x="590.72" y="759.85" width="2.66" height="6.35" fill="#cccccc" stroke="#6a6a6a" stroke-width="0.45"/>
<rect x="593.38" y="761.82" width="2.66" height="4.38" fill="#cccccc" stroke="#6a6a6a" stroke-width="0.45"/>
<rect x="596.04" y="762.98" width="2.66" height="3.22" fill="#cccccc" stroke="#6a6a6a" stroke-width="0.45"/>
<rect x="598.7" y="762.71" width="2.66" height="3.49" fill="#cccccc" stroke="#6a6a6a" stroke-width="0.45"/>
<rect x="601.36" y="761.46" width="2.66" height="4.74" fill="#cccccc" stroke="#6a6a6a" stroke-width="0.45"/>
<rect x="604.02" y="762.36" width="2.66" height="3.84" fill="#cccccc" stroke="#6a6a6a" stroke-width="0.45"/>
<rect x="606.68" y="763.61" width="2.66" height="2.59" fill="#cccccc" stroke="#6a6a6a" stroke-width="0.45"/>
<rect x="609.34" y="764.41" width="2.66" height="1.79" fill="#cccccc" stroke="#6a6a6a" stroke-width="0.45"/>
<rect x="612" y="764.86" width="2.66" height="1.34" fill="#cccccc" stroke="#6a6a6a" stroke-width="0.45"/>
<rect x="614.66" y="765.04" width="2.66" height="1.16" fill="#cccccc" stroke="#6a6a6a" stroke-width="0.45"/>
<rect x="617.32" y="765.31" width="2.66" height="0.89" fill="#cccccc" stroke="#6a6a6a" stroke-width="0.45"/>
<rect x="619.98" y="765.48" width="2.66" height="0.72" fill="#cccccc" stroke="#6a6a6a" stroke-width="0.45"/>
<rect x="622.64" y="765.66" width="2.66" height="0.54" fill="#cccccc" stroke="#6a6a6a" stroke-width="0.45"/>
<rect x="625.3" y="765.75" width="2.66" height="0.45" fill="#cccccc" stroke="#6a6a6a" stroke-width="0.45"/>
<rect x="627.96" y="766.02" width="2.66" height="0.18" fill="#cccccc" stroke="#6a6a6a" stroke-width="0.45"/>
<rect x="630.62" y="766.02" width="2.66" height="0.18" fill="#cccccc" stroke="#6a6a6a" stroke-width="0.45"/>
<rect x="633.28" y="766.02" width="2.66" height="0.18" fill="#cccccc" stroke="#6a6a6a" stroke-width="0.45"/>
<rect x="635.94" y="766.02" width="2.66" height="0.18" fill="#cccccc" stroke="#6a6a6a" stroke-width="0.45"/>
<rect x="638.6" y="766.02" width="2.66" height="0.18" fill="#cccccc" stroke="#6a6a6a" stroke-width="0.45"/>
<rect x="641.26" y="766.02" width="2.66" height="0.18" fill="#cccccc" stroke="#6a6a6a" stroke-width="0.45"/>
<rect x="643.92" y="766.02" width="2.66" height="0.18" fill="#cccccc" stroke="#6a6a6a" stroke-width="0.45"/>
<rect x="646.58" y="766.02" width="2.66" height="0.18" fill="#cccccc" stroke="#6a6a6a" stroke-width="0.45"/>
<rect x="649.24" y="766.02" width="2.66" height="0.18" fill="#cccccc" stroke="#6a6a6a" stroke-width="0.45"/>
<rect x="651.9" y="766.02" width="2.66" height="0.18" fill="#cccccc" stroke="#6a6a6a" stroke-width="0.45"/>
<rect x="654.56" y="766.02" width="2.66" height="0.18" fill="#cccccc" stroke="#6a6a6a" stroke-width="0.45"/>
<rect x="657.22" y="766.02" width="2.66" height="0.18" fill="#cccccc" stroke="#6a6a6a" stroke-width="0.45"/>
<rect x="659.88" y="766.02" width="2.66" height="0.18" fill="#cccccc" stroke="#6a6a6a" stroke-width="0.45"/>
<rect x="662.54" y="766.02" width="2.66" height="0.18" fill="#cccccc" stroke="#6a6a6a" stroke-width="0.45"/>
<rect x="665.2" y="766.02" width="2.66" height="0.18" fill="#cccccc" stroke="#6a6a6a" stroke-width="0.45"/>
<rect x="667.86" y="766.02" width="2.66" height="0.18" fill="#cccccc" stroke="#6a6a6a" stroke-width="0.45"/>
<rect x="670.52" y="766.02" width="2.66" height="0.18" fill="#cccccc" stroke="#6a6a6a" stroke-width="0.45"/>
<rect x="673.18" y="766.02" width="2.66" height="0.18" fill="#cccccc" stroke="#6a6a6a" stroke-width="0.45"/>
<rect x="675.84" y="766.02" width="2.66" height="0.18" fill="#cccccc" stroke="#6a6a6a" stroke-width="0.45"/>
<line x1="545.5" y1="721.5" x2="545.5" y2="766.2" stroke="#262626" stroke-width="1" />
<line x1="545.5" y1="766.2" x2="678.5" y2="766.2" stroke="#262626" stroke-width="1" />
<line x1="542" y1="766.2" x2="545.5" y2="766.2" stroke="#262626" stroke-width="1" />
<text x="539" y="769.6" font-size="9.6" text-anchor="end" fill="#262626" >0</text>
<line x1="542" y1="743.85" x2="545.5" y2="743.85" stroke="#262626" stroke-width="1" />
<text x="539" y="747.25" font-size="9.6" text-anchor="end" fill="#262626" >2.5</text>
<line x1="542" y1="721.5" x2="545.5" y2="721.5" stroke="#262626" stroke-width="1" />
<text x="539" y="724.9" font-size="9.6" text-anchor="end" fill="#262626" >5</text>
<line x1="545.5" y1="766.2" x2="545.5" y2="769.7" stroke="#262626" stroke-width="1" />
<text x="545.5" y="781.4" font-size="9.6" text-anchor="middle" fill="#262626" >0</text>
<line x1="572.1" y1="766.2" x2="572.1" y2="769.7" stroke="#262626" stroke-width="1" />
<text x="572.1" y="781.4" font-size="9.6" text-anchor="middle" fill="#262626" >0.5</text>
<line x1="598.7" y1="766.2" x2="598.7" y2="769.7" stroke="#262626" stroke-width="1" />
<text x="598.7" y="781.4" font-size="9.6" text-anchor="middle" fill="#262626" >1</text>
<line x1="625.3" y1="766.2" x2="625.3" y2="769.7" stroke="#262626" stroke-width="1" />
<text x="625.3" y="781.4" font-size="9.6" text-anchor="middle" fill="#262626" >1.5</text>
<line x1="651.9" y1="766.2" x2="651.9" y2="769.7" stroke="#262626" stroke-width="1" />
<text x="651.9" y="781.4" font-size="9.6" text-anchor="middle" fill="#262626" >2</text>
<line x1="678.5" y1="766.2" x2="678.5" y2="769.7" stroke="#262626" stroke-width="1" />
<text x="678.5" y="781.4" font-size="9.6" text-anchor="middle" fill="#262626" >2.5</text>
<polyline points="545.5,766.2 550.82,766.2 556.14,766.2 561.46,766.2 561.46,766.2 562,766.2 562.54,766.2 563.07,766.2 563.61,766.16 564.15,766 564.69,765.53 565.23,764.59 565.76,763.04 566.3,760.86 566.84,758.09 567.38,754.89 567.92,751.38 568.45,747.75 568.99,744.14 569.53,740.68 570.07,737.45 570.61,734.54 571.14,731.97 571.68,729.78 572.22,727.97 572.76,726.53 573.3,725.45 573.83,724.7 574.37,724.25 574.91,724.08 575.45,724.16 575.99,724.45 576.52,724.92 577.06,725.56 577.6,726.34 578.14,727.22 578.68,728.2 579.21,729.25 579.75,730.36 580.29,731.5 580.83,732.68 581.37,733.88 581.9,735.08 582.44,736.28 582.98,737.47 583.52,738.65 584.06,739.82 584.59,740.95 585.13,742.07 585.67,743.15 586.21,744.2 586.74,745.22 587.28,746.21 587.82,747.16 588.36,748.08 588.9,748.96 589.43,749.8 589.97,750.62 590.51,751.4 591.05,752.14 591.59,752.85 592.12,753.53 592.66,754.18 593.2,754.8 593.74,755.4 594.28,755.96 594.81,756.49 595.35,757 595.89,757.49 596.43,757.95 596.97,758.39 597.5,758.8 598.04,759.2 598.58,759.57 599.12,759.93 599.66,760.26 600.19,760.58 600.73,760.89 601.27,761.17 601.81,761.45 602.35,761.7 602.88,761.95 603.42,762.18 603.96,762.4 604.5,762.6 605.04,762.8 605.57,762.99 606.11,763.16 606.65,763.33 607.19,763.48 607.73,763.63 608.26,763.77 608.8,763.91 609.34,764.03 611.11,764.4 612.89,764.7 614.66,764.96 616.43,765.17 618.21,765.34 619.98,765.49 621.75,765.61 623.53,765.71 625.3,765.79 627.07,765.86 628.85,765.92 630.62,765.97 632.39,766.01 634.17,766.04 635.94,766.07 637.71,766.09 639.49,766.11 641.26,766.12 643.03,766.14 644.81,766.15 646.58,766.16 648.35,766.16 650.13,766.17 651.9,766.17 653.67,766.18 655.45,766.18 657.22,766.19 658.99,766.19 660.77,766.19 662.54,766.19 664.31,766.19 666.09,766.19 667.86,766.19 669.63,766.2 671.41,766.2 673.18,766.2 674.95,766.2 676.73,766.2 678.5,766.2" fill="none" stroke="#000" stroke-width="2.2" stroke-linejoin="round" />
<text x="32" y="713.2" font-size="12" font-weight="bold" text-anchor="start" fill="#000" >Case (iv)</text>
<text x="0.8" y="481" font-size="18.2" font-weight="bold" text-anchor="start" fill="#000" >C)</text>
<text x="108.3" y="478.2" font-size="10.3" font-weight="bold" text-anchor="middle" fill="#000" >2% coh. correct</text>
<text x="275.8" y="478.2" font-size="10.3" font-weight="bold" text-anchor="middle" fill="#000" >2% coh. error</text>
<text x="443.5" y="478.2" font-size="10.3" font-weight="bold" text-anchor="middle" fill="#000" >12% coh. correct</text>
<text x="611.5" y="478.2" font-size="10.3" font-weight="bold" text-anchor="middle" fill="#000" >12% coh. error</text>
<text x="17.5" y="631.9" font-size="12.3" font-weight="bold" text-anchor="middle" fill="#000" transform="rotate(-90 17.5 631.9)" >PDF</text>
<text x="360.2" y="800.5" font-size="12.5" font-weight="bold" text-anchor="middle" fill="#000" >RT (s)</text>
<rect x="627.7" y="501.4" width="47.1" height="23.8" fill="#fff" stroke="#262626" stroke-width="1"/>
<rect x="629.4" y="504.3" width="14.8" height="8.1" fill="#cccccc" stroke="#8a8a8a" stroke-width="0.6"/>
<line x1="629.3" y1="518.6" x2="644.1" y2="518.6" stroke="#000" stroke-width="2.2" />
<text x="645.4" y="511.3" font-size="8.3" text-anchor="start" fill="#000" >Human</text>
<text x="645.4" y="521.8" font-size="8.3" text-anchor="start" fill="#000" >Model</text>
<line x1="82.8" y1="825.5" x2="82.8" y2="1028" stroke="#262626" stroke-width="1" />
<line x1="82.8" y1="1028" x2="320.5" y2="1028" stroke="#262626" stroke-width="1" />
<line x1="320.5" y1="825.5" x2="320.5" y2="1028" stroke="#2a2ac8" stroke-width="1" />
<line x1="78.6" y1="1014.5" x2="82.8" y2="1014.5" stroke="#262626" stroke-width="1" />
<text x="75.2" y="1017.4" font-size="8.0" text-anchor="end" fill="#262626" >0.0466</text>
<line x1="78.6" y1="996.24" x2="82.8" y2="996.24" stroke="#262626" stroke-width="1" />
<text x="75.2" y="999.14" font-size="8.0" text-anchor="end" fill="#262626" >0.0468</text>
<line x1="78.6" y1="977.98" x2="82.8" y2="977.98" stroke="#262626" stroke-width="1" />
<text x="75.2" y="980.88" font-size="8.0" text-anchor="end" fill="#262626" >0.047</text>
<line x1="78.6" y1="959.72" x2="82.8" y2="959.72" stroke="#262626" stroke-width="1" />
<text x="75.2" y="962.62" font-size="8.0" text-anchor="end" fill="#262626" >0.0472</text>
<line x1="78.6" y1="941.46" x2="82.8" y2="941.46" stroke="#262626" stroke-width="1" />
<text x="75.2" y="944.36" font-size="8.0" text-anchor="end" fill="#262626" >0.0474</text>
<line x1="78.6" y1="923.2" x2="82.8" y2="923.2" stroke="#262626" stroke-width="1" />
<text x="75.2" y="926.1" font-size="8.0" text-anchor="end" fill="#262626" >0.0476</text>
<line x1="78.6" y1="904.94" x2="82.8" y2="904.94" stroke="#262626" stroke-width="1" />
<text x="75.2" y="907.84" font-size="8.0" text-anchor="end" fill="#262626" >0.0478</text>
<line x1="78.6" y1="886.68" x2="82.8" y2="886.68" stroke="#262626" stroke-width="1" />
<text x="75.2" y="889.58" font-size="8.0" text-anchor="end" fill="#262626" >0.048</text>
<line x1="78.6" y1="868.42" x2="82.8" y2="868.42" stroke="#262626" stroke-width="1" />
<text x="75.2" y="871.32" font-size="8.0" text-anchor="end" fill="#262626" >0.0482</text>
<line x1="78.6" y1="850.16" x2="82.8" y2="850.16" stroke="#262626" stroke-width="1" />
<text x="75.2" y="853.06" font-size="8.0" text-anchor="end" fill="#262626" >0.0484</text>
<line x1="78.6" y1="831.9" x2="82.8" y2="831.9" stroke="#262626" stroke-width="1" />
<text x="75.2" y="834.8" font-size="8.0" text-anchor="end" fill="#262626" >0.0486</text>
<line x1="320.5" y1="1006.6" x2="325.1" y2="1006.6" stroke="#2a2ac8" stroke-width="1.1" />
<text x="327.5" y="1009.5" font-size="8.0" text-anchor="start" fill="#2a2ac8" >3.2</text>
<line x1="320.5" y1="976.8" x2="325.1" y2="976.8" stroke="#2a2ac8" stroke-width="1.1" />
<text x="327.5" y="979.7" font-size="8.0" text-anchor="start" fill="#2a2ac8" >3.22</text>
<line x1="320.5" y1="947" x2="325.1" y2="947" stroke="#2a2ac8" stroke-width="1.1" />
<text x="327.5" y="949.9" font-size="8.0" text-anchor="start" fill="#2a2ac8" >3.24</text>
<line x1="320.5" y1="917.2" x2="325.1" y2="917.2" stroke="#2a2ac8" stroke-width="1.1" />
<text x="327.5" y="920.1" font-size="8.0" text-anchor="start" fill="#2a2ac8" >3.26</text>
<line x1="320.5" y1="887.4" x2="325.1" y2="887.4" stroke="#2a2ac8" stroke-width="1.1" />
<text x="327.5" y="890.3" font-size="8.0" text-anchor="start" fill="#2a2ac8" >3.28</text>
<line x1="320.5" y1="857.6" x2="325.1" y2="857.6" stroke="#2a2ac8" stroke-width="1.1" />
<text x="327.5" y="860.5" font-size="8.0" text-anchor="start" fill="#2a2ac8" >3.3</text>
<line x1="320.5" y1="827.8" x2="325.1" y2="827.8" stroke="#2a2ac8" stroke-width="1.1" />
<text x="327.5" y="830.7" font-size="8.0" text-anchor="start" fill="#2a2ac8" >3.32</text>
<text x="321.2" y="822.5" font-size="8.0" text-anchor="start" fill="#2a2ac8" >×</text>
<text x="326.8" y="822.5" font-size="8.4" text-anchor="start" fill="#2a2ac8" >10</text>
<text x="335.4" y="818.6" font-size="6.8" text-anchor="start" fill="#2a2ac8" >4</text>
<line x1="112.4" y1="1028" x2="112.4" y2="1031.8" stroke="#262626" stroke-width="1" />
<text x="112.4" y="1043.9" font-size="8.0" text-anchor="middle" fill="#262626" >Case (i)</text>
<line x1="171.9" y1="1028" x2="171.9" y2="1031.8" stroke="#262626" stroke-width="1" />
<text x="171.9" y="1043.9" font-size="8.0" text-anchor="middle" fill="#262626" >Case (ii)</text>
<line x1="231.4" y1="1028" x2="231.4" y2="1031.8" stroke="#262626" stroke-width="1" />
<text x="231.4" y="1043.9" font-size="8.0" text-anchor="middle" fill="#262626" >Case (iii)</text>
<line x1="290.5" y1="1028" x2="290.5" y2="1031.8" stroke="#262626" stroke-width="1" />
<text x="290.5" y="1043.9" font-size="8.0" text-anchor="middle" fill="#262626" >Case (iv)</text>
<text x="201.3" y="1056.2" font-size="8.8" font-weight="bold" text-anchor="middle" fill="#000" >Model</text>
<text x="47.5" y="927.3" font-size="8.7" font-weight="bold" text-anchor="middle" fill="#000" transform="rotate(-90 47.5 927.3)" >Squared error</text>
<text x="354.4" y="927" font-size="8.8" font-weight="bold" text-anchor="middle" fill="#2a2ac8" transform="rotate(-90 354.4 927)" >AIC</text>
<text x="21.2" y="818.4" font-size="18" font-weight="bold" text-anchor="start" fill="#000" >D)</text>
<line x1="112.4" y1="875.9" x2="112.4" y2="934.3" stroke="#111" stroke-width="0.9" stroke-dasharray="2.5,2" />
<line x1="112.4" y1="973.7" x2="112.4" y2="1001.2" stroke="#111" stroke-width="0.9" stroke-dasharray="2.5,2" />
<line x1="104.6" y1="875.9" x2="120.2" y2="875.9" stroke="#111" stroke-width="1" />
<line x1="104.6" y1="1001.2" x2="120.2" y2="1001.2" stroke="#111" stroke-width="1" />
<rect x="97.5" y="934.3" width="29.8" height="39.4" fill="none" stroke="#111" stroke-width="1"/>
<line x1="97.5" y1="953.7" x2="127.3" y2="953.7" stroke="#111" stroke-width="1" />
<line x1="109.1" y1="918" x2="115.7" y2="918" stroke="#111" stroke-width="1" />
<line x1="112.4" y1="914.7" x2="112.4" y2="921.3" stroke="#111" stroke-width="1" />
<line x1="109.1" y1="926.5" x2="115.7" y2="926.5" stroke="#111" stroke-width="1" />
<line x1="112.4" y1="923.2" x2="112.4" y2="929.8" stroke="#111" stroke-width="1" />
<line x1="171.9" y1="874.5" x2="171.9" y2="918.3" stroke="#111" stroke-width="0.9" stroke-dasharray="2.5,2" />
<line x1="171.9" y1="968.2" x2="171.9" y2="1007.1" stroke="#111" stroke-width="0.9" stroke-dasharray="2.5,2" />
<line x1="164.1" y1="874.5" x2="179.7" y2="874.5" stroke="#111" stroke-width="1" />
<line x1="164.1" y1="1007.1" x2="179.7" y2="1007.1" stroke="#111" stroke-width="1" />
<rect x="157" y="918.3" width="29.8" height="49.9" fill="none" stroke="#111" stroke-width="1"/>
<line x1="157" y1="951.4" x2="186.8" y2="951.4" stroke="#111" stroke-width="1" />
<line x1="168.6" y1="960.8" x2="175.2" y2="960.8" stroke="#111" stroke-width="1" />
<line x1="171.9" y1="957.5" x2="171.9" y2="964.1" stroke="#111" stroke-width="1" />
<line x1="168.6" y1="963.3" x2="175.2" y2="963.3" stroke="#111" stroke-width="1" />
<line x1="171.9" y1="960" x2="171.9" y2="966.6" stroke="#111" stroke-width="1" />
<line x1="231.4" y1="906.2" x2="231.4" y2="920.4" stroke="#111" stroke-width="0.9" stroke-dasharray="2.5,2" />
<line x1="231.4" y1="953" x2="231.4" y2="988.4" stroke="#111" stroke-width="0.9" stroke-dasharray="2.5,2" />
<line x1="223.6" y1="906.2" x2="239.2" y2="906.2" stroke="#111" stroke-width="1" />
<line x1="223.6" y1="988.4" x2="239.2" y2="988.4" stroke="#111" stroke-width="1" />
<rect x="216.5" y="920.4" width="29.8" height="32.6" fill="none" stroke="#111" stroke-width="1"/>
<line x1="216.5" y1="940.4" x2="246.3" y2="940.4" stroke="#111" stroke-width="1" />
<line x1="228.1" y1="969.8" x2="234.7" y2="969.8" stroke="#111" stroke-width="1" />
<line x1="231.4" y1="966.5" x2="231.4" y2="973.1" stroke="#111" stroke-width="1" />
<line x1="228.1" y1="834.6" x2="234.7" y2="834.6" stroke="#111" stroke-width="1" />
<line x1="231.4" y1="831.3" x2="231.4" y2="837.9" stroke="#111" stroke-width="1" />
<line x1="290.5" y1="924.4" x2="290.5" y2="951.2" stroke="#111" stroke-width="0.9" stroke-dasharray="2.5,2" />
<line x1="290.5" y1="972.7" x2="290.5" y2="992.2" stroke="#111" stroke-width="0.9" stroke-dasharray="2.5,2" />
<line x1="282.7" y1="924.4" x2="298.3" y2="924.4" stroke="#111" stroke-width="1" />
<line x1="282.7" y1="992.2" x2="298.3" y2="992.2" stroke="#111" stroke-width="1" />
<rect x="275.6" y="951.2" width="29.8" height="21.5" fill="none" stroke="#111" stroke-width="1"/>
<line x1="275.6" y1="963.3" x2="305.4" y2="963.3" stroke="#111" stroke-width="1" />
<line x1="287.2" y1="1019" x2="293.8" y2="1019" stroke="#111" stroke-width="1" />
<line x1="290.5" y1="1015.7" x2="290.5" y2="1022.3" stroke="#111" stroke-width="1" />
<line x1="112.4" y1="977.2" x2="112.4" y2="986.9" stroke="#2a2ac8" stroke-width="0.9" />
<line x1="112.4" y1="1004.8" x2="112.4" y2="1009.9" stroke="#2a2ac8" stroke-width="0.9" />
<line x1="104.6" y1="977.2" x2="120.2" y2="977.2" stroke="#2a2ac8" stroke-width="1" />
<line x1="104.6" y1="1009.9" x2="120.2" y2="1009.9" stroke="#2a2ac8" stroke-width="1" />
<rect x="97.5" y="986.9" width="29.8" height="17.9" fill="none" stroke="#2a2ac8" stroke-width="1"/>
<line x1="97.5" y1="996.1" x2="127.3" y2="996.1" stroke="#2a2ac8" stroke-width="1" />
<line x1="171.9" y1="978.8" x2="171.9" y2="984.8" stroke="#2a2ac8" stroke-width="0.9" />
<line x1="171.9" y1="997.2" x2="171.9" y2="1002.4" stroke="#2a2ac8" stroke-width="0.9" />
<line x1="164.1" y1="978.8" x2="179.7" y2="978.8" stroke="#2a2ac8" stroke-width="1" />
<line x1="164.1" y1="1002.4" x2="179.7" y2="1002.4" stroke="#2a2ac8" stroke-width="1" />
<rect x="157" y="984.8" width="29.8" height="12.4" fill="none" stroke="#2a2ac8" stroke-width="1"/>
<line x1="157" y1="990" x2="186.8" y2="990" stroke="#2a2ac8" stroke-width="1" />
<line x1="231.4" y1="988.9" x2="231.4" y2="994.5" stroke="#2a2ac8" stroke-width="0.9" />
<line x1="231.4" y1="1005" x2="231.4" y2="1019" stroke="#2a2ac8" stroke-width="0.9" />
<line x1="223.6" y1="988.9" x2="239.2" y2="988.9" stroke="#2a2ac8" stroke-width="1" />
<line x1="223.6" y1="1019" x2="239.2" y2="1019" stroke="#2a2ac8" stroke-width="1" />
<rect x="216.5" y="994.5" width="29.8" height="10.5" fill="none" stroke="#2a2ac8" stroke-width="1"/>
<line x1="216.5" y1="1003.2" x2="246.3" y2="1003.2" stroke="#2a2ac8" stroke-width="1" />
<line x1="290.5" y1="838.5" x2="290.5" y2="843.4" stroke="#2a2ac8" stroke-width="0.9" />
<line x1="290.5" y1="849.4" x2="290.5" y2="853.8" stroke="#2a2ac8" stroke-width="0.9" />
<line x1="282.7" y1="838.5" x2="298.3" y2="838.5" stroke="#2a2ac8" stroke-width="1" />
<line x1="282.7" y1="853.8" x2="298.3" y2="853.8" stroke="#2a2ac8" stroke-width="1" />
<rect x="275.6" y="843.4" width="29.8" height="6" fill="none" stroke="#2a2ac8" stroke-width="1"/>
<line x1="275.6" y1="846.4" x2="305.4" y2="846.4" stroke="#2a2ac8" stroke-width="1" />
<line x1="287.2" y1="834.6" x2="293.8" y2="834.6" stroke="#111" stroke-width="1" />
<line x1="290.5" y1="831.3" x2="290.5" y2="837.9" stroke="#111" stroke-width="1" />
<line x1="229.1" y1="816.4" x2="289.7" y2="816.4" stroke="#4a4ad8" stroke-width="1" />
<line x1="229.1" y1="824.9" x2="289.7" y2="824.9" stroke="#8a8a8a" stroke-width="1.3" />
<polygon points="229.1,812.3 233,816.4 229.1,820.5 225.2,816.4" fill="#4040d0" stroke="#4040d0" stroke-width="0.5" stroke-linejoin="round" />
<polygon points="229.1,820.8 233,824.9 229.1,829 225.2,824.9" fill="#000" stroke="#000" stroke-width="0.5" stroke-linejoin="round" />
<polygon points="289.7,812.3 293.6,816.4 289.7,820.5 285.8,816.4" fill="#4040d0" stroke="#4040d0" stroke-width="0.5" stroke-linejoin="round" />
<polygon points="289.7,820.8 293.6,824.9 289.7,829 285.8,824.9" fill="#000" stroke="#000" stroke-width="0.5" stroke-linejoin="round" />
<text x="259.7" y="819.6" font-size="17" font-weight="bold" text-anchor="middle" fill="#000" >**</text>
<line x1="404.6" y1="827.6" x2="404.6" y2="1027.5" stroke="#6e6e6e" stroke-width="1.2" />
<line x1="404.6" y1="1027.5" x2="650" y2="1027.5" stroke="#6e6e6e" stroke-width="1.6" />
<line x1="400.6" y1="1027.3" x2="404.6" y2="1027.3" stroke="#6e6e6e" stroke-width="1" />
<text x="397.2" y="1030.3" font-size="8.6" text-anchor="end" fill="#444" >0</text>
<line x1="400.6" y1="994.23" x2="404.6" y2="994.23" stroke="#6e6e6e" stroke-width="1" />
<text x="397.2" y="997.23" font-size="8.6" text-anchor="end" fill="#444" >10</text>
<line x1="400.6" y1="961.16" x2="404.6" y2="961.16" stroke="#6e6e6e" stroke-width="1" />
<text x="397.2" y="964.16" font-size="8.6" text-anchor="end" fill="#444" >20</text>
<line x1="400.6" y1="928.09" x2="404.6" y2="928.09" stroke="#6e6e6e" stroke-width="1" />
<text x="397.2" y="931.09" font-size="8.6" text-anchor="end" fill="#444" >30</text>
<line x1="400.6" y1="895.02" x2="404.6" y2="895.02" stroke="#6e6e6e" stroke-width="1" />
<text x="397.2" y="898.02" font-size="8.6" text-anchor="end" fill="#444" >40</text>
<line x1="400.6" y1="861.95" x2="404.6" y2="861.95" stroke="#6e6e6e" stroke-width="1" />
<text x="397.2" y="864.95" font-size="8.6" text-anchor="end" fill="#444" >50</text>
<line x1="400.6" y1="828.88" x2="404.6" y2="828.88" stroke="#6e6e6e" stroke-width="1" />
<text x="397.2" y="831.88" font-size="8.6" text-anchor="end" fill="#444" >60</text>
<line x1="434.5" y1="1027.5" x2="434.5" y2="1032" stroke="#333" stroke-width="1" />
<line x1="465.25" y1="1027.5" x2="465.25" y2="1032" stroke="#333" stroke-width="1" />
<line x1="496" y1="1027.5" x2="496" y2="1032" stroke="#333" stroke-width="1" />
<line x1="526.75" y1="1027.5" x2="526.75" y2="1032" stroke="#333" stroke-width="1" />
<line x1="557.5" y1="1027.5" x2="557.5" y2="1032" stroke="#333" stroke-width="1" />
<line x1="588.25" y1="1027.5" x2="588.25" y2="1032" stroke="#333" stroke-width="1" />
<line x1="619" y1="1027.5" x2="619" y2="1032" stroke="#333" stroke-width="1" />
<text x="434.5" y="1044.3" font-size="9.2" text-anchor="middle" fill="#444" >k</text>
<text x="460.5" y="1044.3" font-size="9.2" fill="#444" text-anchor="start"><tspan>S</tspan><tspan font-size="6.8" dy="3.6">y</tspan></text>
<text x="491.2" y="1044.3" font-size="9.2" fill="#444" text-anchor="start"><tspan>S</tspan><tspan font-size="6.8" dy="3.6">x</tspan></text>
<text x="526.75" y="1044.3" font-size="9.2" text-anchor="middle" fill="#444" >d</text>
<text x="553.3" y="1044.3" font-size="9.2" fill="#444" text-anchor="start"><tspan font-style="italic">σ</tspan><tspan font-size="6.8" dy="3.6">0</tspan></text>
<text x="575.6" y="1044.3" font-size="9.2" fill="#444" text-anchor="start"><tspan>t</tspan><tspan font-size="6.3" dy="3.6">residual</tspan></text>
<text x="605.4" y="1044.3" font-size="9.2" fill="#444" text-anchor="start"><tspan font-style="italic">σ</tspan><tspan font-size="6.6" dy="3.6">residual</tspan></text>
<text x="527" y="1059" font-size="8.8" font-weight="bold" text-anchor="middle" fill="#000" >Parameters</text>
<text x="384.5" y="928.7" font-size="8.9" font-weight="bold" text-anchor="middle" fill="#000" transform="rotate(-90 384.5 928.7)" >Normalised value</text>
<text x="367.3" y="818.4" font-size="18" font-weight="bold" text-anchor="start" fill="#000" >E)</text>
<polygon points="429.4,1026.58 439.6,1026.58 434.5,1019.62" fill="none" stroke="#B040F0" stroke-width="1.2" stroke-linejoin="round" />
<circle cx="434.5" cy="1023.99" r="3.9" fill="none" stroke="#E8282A" stroke-width="1.6"/>
<line x1="431.6" y1="1021.09" x2="437.4" y2="1026.89" stroke="#2424D8" stroke-width="1.4" />
<line x1="431.6" y1="1026.89" x2="437.4" y2="1021.09" stroke="#2424D8" stroke-width="1.4" />
<line x1="430.8" y1="1023.99" x2="438.2" y2="1023.99" stroke="#111" stroke-width="1.2" />
<line x1="434.5" y1="1020.29" x2="434.5" y2="1027.69" stroke="#111" stroke-width="1.2" />
<polygon points="460.15,1025.92 470.35,1025.92 465.25,1018.96" fill="none" stroke="#B040F0" stroke-width="1.2" stroke-linejoin="round" />
<circle cx="465.25" cy="974.06" r="3.9" fill="none" stroke="#E8282A" stroke-width="1.3"/>
<line x1="462.35" y1="835.24" x2="468.15" y2="841.04" stroke="#2424D8" stroke-width="1.4" />
<line x1="462.35" y1="841.04" x2="468.15" y2="835.24" stroke="#2424D8" stroke-width="1.4" />
<line x1="461.55" y1="896.01" x2="468.95" y2="896.01" stroke="#111" stroke-width="1.2" />
<line x1="465.25" y1="892.31" x2="465.25" y2="899.71" stroke="#111" stroke-width="1.2" />
<polygon points="490.9,1026.58 501.1,1026.58 496,1019.62" fill="none" stroke="#B040F0" stroke-width="1.2" stroke-linejoin="round" />
<circle cx="496" cy="1023.99" r="3.9" fill="none" stroke="#E8282A" stroke-width="1.6"/>
<line x1="493.1" y1="1021.09" x2="498.9" y2="1026.89" stroke="#2424D8" stroke-width="1.4" />
<line x1="493.1" y1="1026.89" x2="498.9" y2="1021.09" stroke="#2424D8" stroke-width="1.4" />
<line x1="492.3" y1="1023.99" x2="499.7" y2="1023.99" stroke="#111" stroke-width="1.2" />
<line x1="496" y1="1020.29" x2="496" y2="1027.69" stroke="#111" stroke-width="1.2" />
<polygon points="521.65,1026.58 531.85,1026.58 526.75,1019.62" fill="none" stroke="#B040F0" stroke-width="1.2" stroke-linejoin="round" />
<circle cx="526.75" cy="1023.99" r="3.9" fill="none" stroke="#E8282A" stroke-width="1.6"/>
<line x1="523.85" y1="1021.09" x2="529.65" y2="1026.89" stroke="#2424D8" stroke-width="1.4" />
<line x1="523.85" y1="1026.89" x2="529.65" y2="1021.09" stroke="#2424D8" stroke-width="1.4" />
<line x1="523.05" y1="1023.99" x2="530.45" y2="1023.99" stroke="#111" stroke-width="1.2" />
<line x1="526.75" y1="1020.29" x2="526.75" y2="1027.69" stroke="#111" stroke-width="1.2" />
<polygon points="552.4,1026.58 562.6,1026.58 557.5,1019.62" fill="none" stroke="#B040F0" stroke-width="1.2" stroke-linejoin="round" />
<circle cx="557.5" cy="1023.99" r="3.9" fill="none" stroke="#E8282A" stroke-width="1.6"/>
<line x1="554.6" y1="1021.09" x2="560.4" y2="1026.89" stroke="#2424D8" stroke-width="1.4" />
<line x1="554.6" y1="1026.89" x2="560.4" y2="1021.09" stroke="#2424D8" stroke-width="1.4" />
<line x1="553.8" y1="1023.99" x2="561.2" y2="1023.99" stroke="#111" stroke-width="1.2" />
<line x1="557.5" y1="1020.29" x2="557.5" y2="1027.69" stroke="#111" stroke-width="1.2" />
<polygon points="583.15,1026.58 593.35,1026.58 588.25,1019.62" fill="none" stroke="#B040F0" stroke-width="1.2" stroke-linejoin="round" />
<circle cx="588.25" cy="1023.99" r="3.9" fill="none" stroke="#E8282A" stroke-width="1.6"/>
<line x1="585.35" y1="1021.09" x2="591.15" y2="1026.89" stroke="#2424D8" stroke-width="1.4" />
<line x1="585.35" y1="1026.89" x2="591.15" y2="1021.09" stroke="#2424D8" stroke-width="1.4" />
<line x1="584.55" y1="1023.99" x2="591.95" y2="1023.99" stroke="#111" stroke-width="1.2" />
<line x1="588.25" y1="1020.29" x2="588.25" y2="1027.69" stroke="#111" stroke-width="1.2" />
<polygon points="613.9,1026.58 624.1,1026.58 619,1019.62" fill="none" stroke="#B040F0" stroke-width="1.2" stroke-linejoin="round" />
<circle cx="619" cy="1023.99" r="3.9" fill="none" stroke="#E8282A" stroke-width="1.6"/>
<line x1="616.1" y1="1021.09" x2="621.9" y2="1026.89" stroke="#2424D8" stroke-width="1.4" />
<line x1="616.1" y1="1026.89" x2="621.9" y2="1021.09" stroke="#2424D8" stroke-width="1.4" />
<line x1="615.3" y1="1023.99" x2="622.7" y2="1023.99" stroke="#111" stroke-width="1.2" />
<line x1="619" y1="1020.29" x2="619" y2="1027.69" stroke="#111" stroke-width="1.2" />
<rect x="599.7" y="909.2" width="47" height="38.3" fill="#fff" stroke="#262626" stroke-width="1"/>
<polygon points="602.9,917.33 612.9,917.33 607.9,910.51" fill="none" stroke="#B040F0" stroke-width="1.2" stroke-linejoin="round" />
<circle cx="607.9" cy="924.2" r="3.7" fill="none" stroke="#E8282A" stroke-width="1.3"/>
<line x1="605.3" y1="930.6" x2="610.5" y2="935.8" stroke="#2424D8" stroke-width="1.4" />
<line x1="605.3" y1="935.8" x2="610.5" y2="930.6" stroke="#2424D8" stroke-width="1.4" />
<line x1="604.3" y1="942.1" x2="611.5" y2="942.1" stroke="#111" stroke-width="1.2" />
<line x1="607.9" y1="938.5" x2="607.9" y2="945.7" stroke="#111" stroke-width="1.2" />
<text x="615.8" y="917.4" font-size="7.0" text-anchor="start" fill="#000" >Case (iv)</text>
<text x="615.8" y="926.8" font-size="7.0" text-anchor="start" fill="#000" >Case (i)</text>
<text x="615.8" y="935.8" font-size="7.0" text-anchor="start" fill="#000" >Case (ii)</text>
<text x="615.8" y="944.7" font-size="7.0" text-anchor="start" fill="#000" >Case (iii)</text>
<line x1="505.6" y1="818" x2="505.6" y2="883.3" stroke="#262626" stroke-width="0.8" />
<line x1="505.6" y1="883.3" x2="642.5" y2="883.3" stroke="#262626" stroke-width="0.8" />
<line x1="503.1" y1="883.3" x2="505.6" y2="883.3" stroke="#262626" stroke-width="0.7" />
<text x="501.3" y="885.6" font-size="6.3" text-anchor="end" fill="#262626" >0</text>
<line x1="503.1" y1="866.97" x2="505.6" y2="866.97" stroke="#262626" stroke-width="0.7" />
<text x="501.3" y="869.27" font-size="6.3" text-anchor="end" fill="#262626" >2</text>
<line x1="503.1" y1="850.65" x2="505.6" y2="850.65" stroke="#262626" stroke-width="0.7" />
<text x="501.3" y="852.95" font-size="6.3" text-anchor="end" fill="#262626" >4</text>
<line x1="503.1" y1="834.33" x2="505.6" y2="834.33" stroke="#262626" stroke-width="0.7" />
<text x="501.3" y="836.62" font-size="6.3" text-anchor="end" fill="#262626" >6</text>
<line x1="503.1" y1="818" x2="505.6" y2="818" stroke="#262626" stroke-width="0.7" />
<text x="501.3" y="820.3" font-size="6.3" text-anchor="end" fill="#262626" >8</text>
<line x1="505.6" y1="883.3" x2="505.6" y2="885.8" stroke="#262626" stroke-width="0.7" />
<text x="505.6" y="895.1" font-size="6.3" text-anchor="middle" fill="#262626" >0</text>
<line x1="532.98" y1="883.3" x2="532.98" y2="885.8" stroke="#262626" stroke-width="0.7" />
<text x="532.98" y="895.1" font-size="6.3" text-anchor="middle" fill="#262626" >0.5</text>
<line x1="560.36" y1="883.3" x2="560.36" y2="885.8" stroke="#262626" stroke-width="0.7" />
<text x="560.36" y="895.1" font-size="6.3" text-anchor="middle" fill="#262626" >1</text>
<line x1="587.74" y1="883.3" x2="587.74" y2="885.8" stroke="#262626" stroke-width="0.7" />
<text x="587.74" y="895.1" font-size="6.3" text-anchor="middle" fill="#262626" >1.5</text>
<line x1="615.12" y1="883.3" x2="615.12" y2="885.8" stroke="#262626" stroke-width="0.7" />
<text x="615.12" y="895.1" font-size="6.3" text-anchor="middle" fill="#262626" >2</text>
<line x1="642.5" y1="883.3" x2="642.5" y2="885.8" stroke="#262626" stroke-width="0.7" />
<text x="642.5" y="895.1" font-size="6.3" text-anchor="middle" fill="#262626" >2.5</text>
<text x="573.7" y="904.2" font-size="6.8" font-weight="bold" text-anchor="middle" fill="#000" >Time (s)</text>
<text x="494.5" y="851" font-size="6.8" font-weight="bold" text-anchor="middle" fill="#000" transform="rotate(-90 494.5 851)" >Gain</text>
<polyline points="505.6,875.14 506.29,875.14 506.98,875.14 507.66,875.14 508.35,875.14 509.04,875.14 509.73,875.14 510.42,875.14 511.1,875.14 511.79,875.14 512.48,875.14 513.17,875.14 513.86,875.14 514.54,875.14 515.23,875.14 515.92,875.14 516.61,875.14 517.29,875.14 517.98,875.14 518.67,875.14 519.36,875.14 520.05,875.14 520.73,875.14 521.42,875.14 522.11,875.14 522.8,875.14 523.49,875.14 524.17,875.14 524.86,875.14 525.55,875.14 526.24,875.14 526.93,875.14 527.61,875.14 528.3,875.14 528.99,875.14 529.68,875.14 530.37,875.14 531.05,875.13 531.74,875.13 532.43,875.13 533.12,875.13 533.81,875.13 534.49,875.13 535.18,875.13 535.87,875.13 536.56,875.13 537.25,875.13 537.93,875.13 538.62,875.13 539.31,875.13 540,875.13 540.68,875.13 541.37,875.13 542.06,875.13 542.75,875.13 543.44,875.13 544.12,875.13 544.81,875.13 545.5,875.13 546.19,875.13 546.88,875.13 547.56,875.13 548.25,875.12 548.94,875.12 549.63,875.12 550.32,875.12 551,875.12 551.69,875.12 552.38,875.12 553.07,875.12 553.76,875.12 554.44,875.11 555.13,875.11 555.82,875.11 556.51,875.11 557.2,875.11 557.88,875.11 558.57,875.1 559.26,875.1 559.95,875.1 560.64,875.1 561.32,875.1 562.01,875.09 562.7,875.09 563.39,875.09 564.07,875.08 564.76,875.08 565.45,875.08 566.14,875.07 566.83,875.07 567.51,875.07 568.2,875.06 568.89,875.06 569.58,875.05 570.27,875.05 570.95,875.04 571.64,875.04 572.33,875.03 573.02,875.03 573.71,875.02 574.39,875.01 575.08,875.01 575.77,875 576.46,874.99 577.15,874.98 577.83,874.98 578.52,874.97 579.21,874.96 579.9,874.95 580.59,874.94 581.27,874.93 581.96,874.92 582.65,874.91 583.34,874.9 584.03,874.89 584.71,874.88 585.4,874.87 586.09,874.86 586.78,874.85 587.46,874.83 588.15,874.82 588.84,874.81 589.53,874.8 590.22,874.79 590.9,874.77 591.59,874.76 592.28,874.75 592.97,874.73 593.66,874.72 594.34,874.71 595.03,874.7 595.72,874.68 596.41,874.67 597.1,874.66 597.78,874.65 598.47,874.63 599.16,874.62 599.85,874.61 600.54,874.6 601.22,874.59 601.91,874.58 602.6,874.56 603.29,874.55 603.98,874.54 604.66,874.53 605.35,874.52 606.04,874.51 606.73,874.51 607.42,874.5 608.1,874.49 608.79,874.48 609.48,874.47 610.17,874.46 610.85,874.46 611.54,874.45 612.23,874.44 612.92,874.44 613.61,874.43 614.29,874.43 614.98,874.42 615.67,874.41 616.36,874.41 617.05,874.4 617.73,874.4 618.42,874.4 619.11,874.39 619.8,874.39 620.49,874.38 621.17,874.38 621.86,874.38 622.55,874.37 623.24,874.37 623.93,874.37 624.61,874.37 625.3,874.36 625.99,874.36 626.68,874.36 627.37,874.36 628.05,874.35 628.74,874.35 629.43,874.35 630.12,874.35 630.81,874.35 631.49,874.35 632.18,874.34 632.87,874.34 633.56,874.34 634.24,874.34 634.93,874.34 635.62,874.34 636.31,874.34 637,874.34 637.68,874.34 638.37,874.33 639.06,874.33 639.75,874.33 640.44,874.33 641.12,874.33 641.81,874.33 642.5,874.33" fill="none" stroke="#B040F0" stroke-width="1.1" stroke-linejoin="round" />
<polyline points="505.6,875.14 506.29,875.14 506.98,875.14 507.66,875.14 508.35,875.14 509.04,875.14 509.73,875.14 510.42,875.14 511.1,875.14 511.79,875.14 512.48,875.14 513.17,875.14 513.86,875.14 514.54,875.14 515.23,875.13 515.92,875.13 516.61,875.13 517.29,875.13 517.98,875.13 518.67,875.13 519.36,875.13 520.05,875.13 520.73,875.13 521.42,875.13 522.11,875.13 522.8,875.13 523.49,875.13 524.17,875.13 524.86,875.13 525.55,875.13 526.24,875.13 526.93,875.13 527.61,875.12 528.3,875.12 528.99,875.12 529.68,875.12 530.37,875.12 531.05,875.12 531.74,875.12 532.43,875.12 533.12,875.11 533.81,875.11 534.49,875.11 535.18,875.11 535.87,875.11 536.56,875.1 537.25,875.1 537.93,875.1 538.62,875.09 539.31,875.09 540,875.09 540.68,875.08 541.37,875.08 542.06,875.08 542.75,875.07 543.44,875.07 544.12,875.06 544.81,875.06 545.5,875.05 546.19,875.04 546.88,875.04 547.56,875.03 548.25,875.02 548.94,875.01 549.63,875.01 550.32,875 551,874.99 551.69,874.97 552.38,874.96 553.07,874.95 553.76,874.94 554.44,874.92 555.13,874.91 555.82,874.89 556.51,874.87 557.2,874.85 557.88,874.83 558.57,874.81 559.26,874.79 559.95,874.76 560.64,874.74 561.32,874.71 562.01,874.68 562.7,874.65 563.39,874.61 564.07,874.58 564.76,874.54 565.45,874.5 566.14,874.45 566.83,874.4 567.51,874.35 568.2,874.3 568.89,874.24 569.58,874.18 570.27,874.12 570.95,874.05 571.64,873.98 572.33,873.9 573.02,873.82 573.71,873.73 574.39,873.64 575.08,873.54 575.77,873.44 576.46,873.33 577.15,873.22 577.83,873.1 578.52,872.97 579.21,872.84 579.9,872.7 580.59,872.56 581.27,872.41 581.96,872.25 582.65,872.08 583.34,871.91 584.03,871.73 584.71,871.54 585.4,871.35 586.09,871.15 586.78,870.94 587.46,870.73 588.15,870.51 588.84,870.28 589.53,870.05 590.22,869.81 590.9,869.57 591.59,869.33 592.28,869.08 592.97,868.83 593.66,868.57 594.34,868.32 595.03,868.06 595.72,867.8 596.41,867.54 597.1,867.28 597.78,867.02 598.47,866.77 599.16,866.51 599.85,866.26 600.54,866.02 601.22,865.77 601.91,865.53 602.6,865.3 603.29,865.07 603.98,864.85 604.66,864.63 605.35,864.42 606.04,864.21 606.73,864.01 607.42,863.82 608.1,863.64 608.79,863.46 609.48,863.29 610.17,863.12 610.85,862.97 611.54,862.82 612.23,862.67 612.92,862.54 613.61,862.41 614.29,862.28 614.98,862.17 615.67,862.05 616.36,861.95 617.05,861.85 617.73,861.75 618.42,861.66 619.11,861.58 619.8,861.5 620.49,861.42 621.17,861.35 621.86,861.28 622.55,861.22 623.24,861.16 623.93,861.11 624.61,861.05 625.3,861 625.99,860.96 626.68,860.91 627.37,860.87 628.05,860.83 628.74,860.8 629.43,860.76 630.12,860.73 630.81,860.7 631.49,860.68 632.18,860.65 632.87,860.63 633.56,860.6 634.24,860.58 634.93,860.56 635.62,860.54 636.31,860.53 637,860.51 637.68,860.5 638.37,860.48 639.06,860.47 639.75,860.46 640.44,860.44 641.12,860.43 641.81,860.42 642.5,860.41" fill="none" stroke="#E02020" stroke-width="1.1" stroke-linejoin="round" />
<polyline points="505.6,875.14 506.29,875.14 506.98,875.14 507.66,875.14 508.35,875.14 509.04,875.14 509.73,875.13 510.42,875.13 511.1,875.13 511.79,875.13 512.48,875.13 513.17,875.13 513.86,875.13 514.54,875.13 515.23,875.13 515.92,875.13 516.61,875.13 517.29,875.13 517.98,875.12 518.67,875.12 519.36,875.12 520.05,875.12 520.73,875.12 521.42,875.12 522.11,875.12 522.8,875.11 523.49,875.11 524.17,875.11 524.86,875.11 525.55,875.11 526.24,875.1 526.93,875.1 527.61,875.1 528.3,875.1 528.99,875.09 529.68,875.09 530.37,875.09 531.05,875.08 531.74,875.08 532.43,875.08 533.12,875.07 533.81,875.07 534.49,875.06 535.18,875.06 535.87,875.05 536.56,875.05 537.25,875.04 537.93,875.04 538.62,875.03 539.31,875.02 540,875.02 540.68,875.01 541.37,875 542.06,874.99 542.75,874.98 543.44,874.97 544.12,874.96 544.81,874.95 545.5,874.94 546.19,874.93 546.88,874.92 547.56,874.91 548.25,874.89 548.94,874.88 549.63,874.86 550.32,874.84 551,874.83 551.69,874.81 552.38,874.79 553.07,874.77 553.76,874.75 554.44,874.72 555.13,874.7 555.82,874.67 556.51,874.64 557.2,874.62 557.88,874.58 558.57,874.55 559.26,874.52 559.95,874.48 560.64,874.44 561.32,874.4 562.01,874.36 562.7,874.31 563.39,874.27 564.07,874.21 564.76,874.16 565.45,874.1 566.14,874.04 566.83,873.98 567.51,873.91 568.2,873.84 568.89,873.77 569.58,873.69 570.27,873.61 570.95,873.52 571.64,873.43 572.33,873.33 573.02,873.23 573.71,873.12 574.39,873 575.08,872.88 575.77,872.76 576.46,872.62 577.15,872.48 577.83,872.34 578.52,872.18 579.21,872.02 579.9,871.84 580.59,871.66 581.27,871.47 581.96,871.27 582.65,871.06 583.34,870.84 584.03,870.61 584.71,870.37 585.4,870.12 586.09,869.85 586.78,869.57 587.46,869.28 588.15,868.98 588.84,868.66 589.53,868.33 590.22,867.98 590.9,867.62 591.59,867.25 592.28,866.86 592.97,866.45 593.66,866.03 594.34,865.59 595.03,865.14 595.72,864.67 596.41,864.18 597.1,863.68 597.78,863.16 598.47,862.63 599.16,862.07 599.85,861.51 600.54,860.92 601.22,860.32 601.91,859.71 602.6,859.08 603.29,858.44 603.98,857.79 604.66,857.12 605.35,856.44 606.04,855.75 606.73,855.05 607.42,854.33 608.1,853.62 608.79,852.89 609.48,852.16 610.17,851.42 610.85,850.68 611.54,849.93 612.23,849.19 612.92,848.44 613.61,847.7 614.29,846.96 614.98,846.22 615.67,845.48 616.36,844.75 617.05,844.03 617.73,843.32 618.42,842.61 619.11,841.92 619.8,841.23 620.49,840.56 621.17,839.9 621.86,839.25 622.55,838.61 623.24,837.99 623.93,837.39 624.61,836.8 625.3,836.22 625.99,835.66 626.68,835.12 627.37,834.6 628.05,834.09 628.74,833.59 629.43,833.11 630.12,832.65 630.81,832.21 631.49,831.78 632.18,831.37 632.87,830.97 633.56,830.59 634.24,830.22 634.93,829.87 635.62,829.53 636.31,829.21 637,828.9 637.68,828.6 638.37,828.32 639.06,828.05 639.75,827.79 640.44,827.54 641.12,827.31 641.81,827.08 642.5,826.87" fill="none" stroke="#2020E0" stroke-width="1.1" stroke-linejoin="round" />
<polyline points="505.6,875.14 506.29,875.14 506.98,875.14 507.66,875.14 508.35,875.14 509.04,875.14 509.73,875.14 510.42,875.14 511.1,875.14 511.79,875.13 512.48,875.13 513.17,875.13 513.86,875.13 514.54,875.13 515.23,875.13 515.92,875.13 516.61,875.13 517.29,875.13 517.98,875.13 518.67,875.13 519.36,875.13 520.05,875.13 520.73,875.13 521.42,875.13 522.11,875.13 522.8,875.12 523.49,875.12 524.17,875.12 524.86,875.12 525.55,875.12 526.24,875.12 526.93,875.12 527.61,875.12 528.3,875.11 528.99,875.11 529.68,875.11 530.37,875.11 531.05,875.11 531.74,875.1 532.43,875.1 533.12,875.1 533.81,875.1 534.49,875.09 535.18,875.09 535.87,875.09 536.56,875.08 537.25,875.08 537.93,875.07 538.62,875.07 539.31,875.07 540,875.06 540.68,875.06 541.37,875.05 542.06,875.04 542.75,875.04 543.44,875.03 544.12,875.02 544.81,875.02 545.5,875.01 546.19,875 546.88,874.99 547.56,874.98 548.25,874.97 548.94,874.96 549.63,874.95 550.32,874.94 551,874.92 551.69,874.91 552.38,874.9 553.07,874.88 553.76,874.86 554.44,874.84 555.13,874.83 555.82,874.81 556.51,874.78 557.2,874.76 557.88,874.74 558.57,874.71 559.26,874.68 559.95,874.65 560.64,874.62 561.32,874.59 562.01,874.56 562.7,874.52 563.39,874.48 564.07,874.44 564.76,874.39 565.45,874.34 566.14,874.29 566.83,874.24 567.51,874.18 568.2,874.12 568.89,874.06 569.58,873.99 570.27,873.92 570.95,873.84 571.64,873.76 572.33,873.68 573.02,873.58 573.71,873.49 574.39,873.39 575.08,873.28 575.77,873.16 576.46,873.04 577.15,872.92 577.83,872.78 578.52,872.64 579.21,872.49 579.9,872.33 580.59,872.16 581.27,871.99 581.96,871.8 582.65,871.61 583.34,871.4 584.03,871.18 584.71,870.96 585.4,870.72 586.09,870.47 586.78,870.21 587.46,869.94 588.15,869.65 588.84,869.35 589.53,869.04 590.22,868.72 590.9,868.38 591.59,868.03 592.28,867.66 592.97,867.28 593.66,866.89 594.34,866.48 595.03,866.06 595.72,865.63 596.41,865.19 597.1,864.73 597.78,864.26 598.47,863.78 599.16,863.28 599.85,862.78 600.54,862.26 601.22,861.74 601.91,861.21 602.6,860.67 603.29,860.12 603.98,859.57 604.66,859.02 605.35,858.46 606.04,857.89 606.73,857.33 607.42,856.77 608.1,856.2 608.79,855.64 609.48,855.08 610.17,854.53 610.85,853.98 611.54,853.44 612.23,852.9 612.92,852.37 613.61,851.86 614.29,851.35 614.98,850.85 615.67,850.36 616.36,849.88 617.05,849.42 617.73,848.97 618.42,848.53 619.11,848.1 619.8,847.69 620.49,847.29 621.17,846.9 621.86,846.53 622.55,846.17 623.24,845.83 623.93,845.49 624.61,845.17 625.3,844.87 625.99,844.58 626.68,844.3 627.37,844.03 628.05,843.77 628.74,843.53 629.43,843.3 630.12,843.08 630.81,842.87 631.49,842.67 632.18,842.48 632.87,842.29 633.56,842.12 634.24,841.96 634.93,841.81 635.62,841.66 636.31,841.52 637,841.39 637.68,841.26 638.37,841.15 639.06,841.04 639.75,840.93 640.44,840.83 641.12,840.74 641.81,840.65 642.5,840.57" fill="none" stroke="#111" stroke-width="1.1" stroke-linejoin="round" />
<rect x="507" y="820" width="34.4" height="31.5" fill="#fff" stroke="#262626" stroke-width="0.8"/>
<line x1="508.5" y1="824" x2="515.5" y2="824" stroke="#B040F0" stroke-width="1.1" />
<text x="516.3" y="826.1" font-size="6.0" text-anchor="start" fill="#000" >Case (iv)</text>
<line x1="508.5" y1="831.6" x2="515.5" y2="831.6" stroke="#E02020" stroke-width="1.1" />
<text x="516.3" y="833.7" font-size="6.0" text-anchor="start" fill="#000" >Case (i)</text>
<line x1="508.5" y1="839.5" x2="515.5" y2="839.5" stroke="#2020E0" stroke-width="1.1" />
<text x="516.3" y="841.6" font-size="6.0" text-anchor="start" fill="#000" >Case (ii)</text>
<line x1="508.5" y1="847.3" x2="515.5" y2="847.3" stroke="#111" stroke-width="1.1" />
<text x="516.3" y="849.4" font-size="6.0" text-anchor="start" fill="#000" >Case (iii)</text>
</svg>
</body></html>
